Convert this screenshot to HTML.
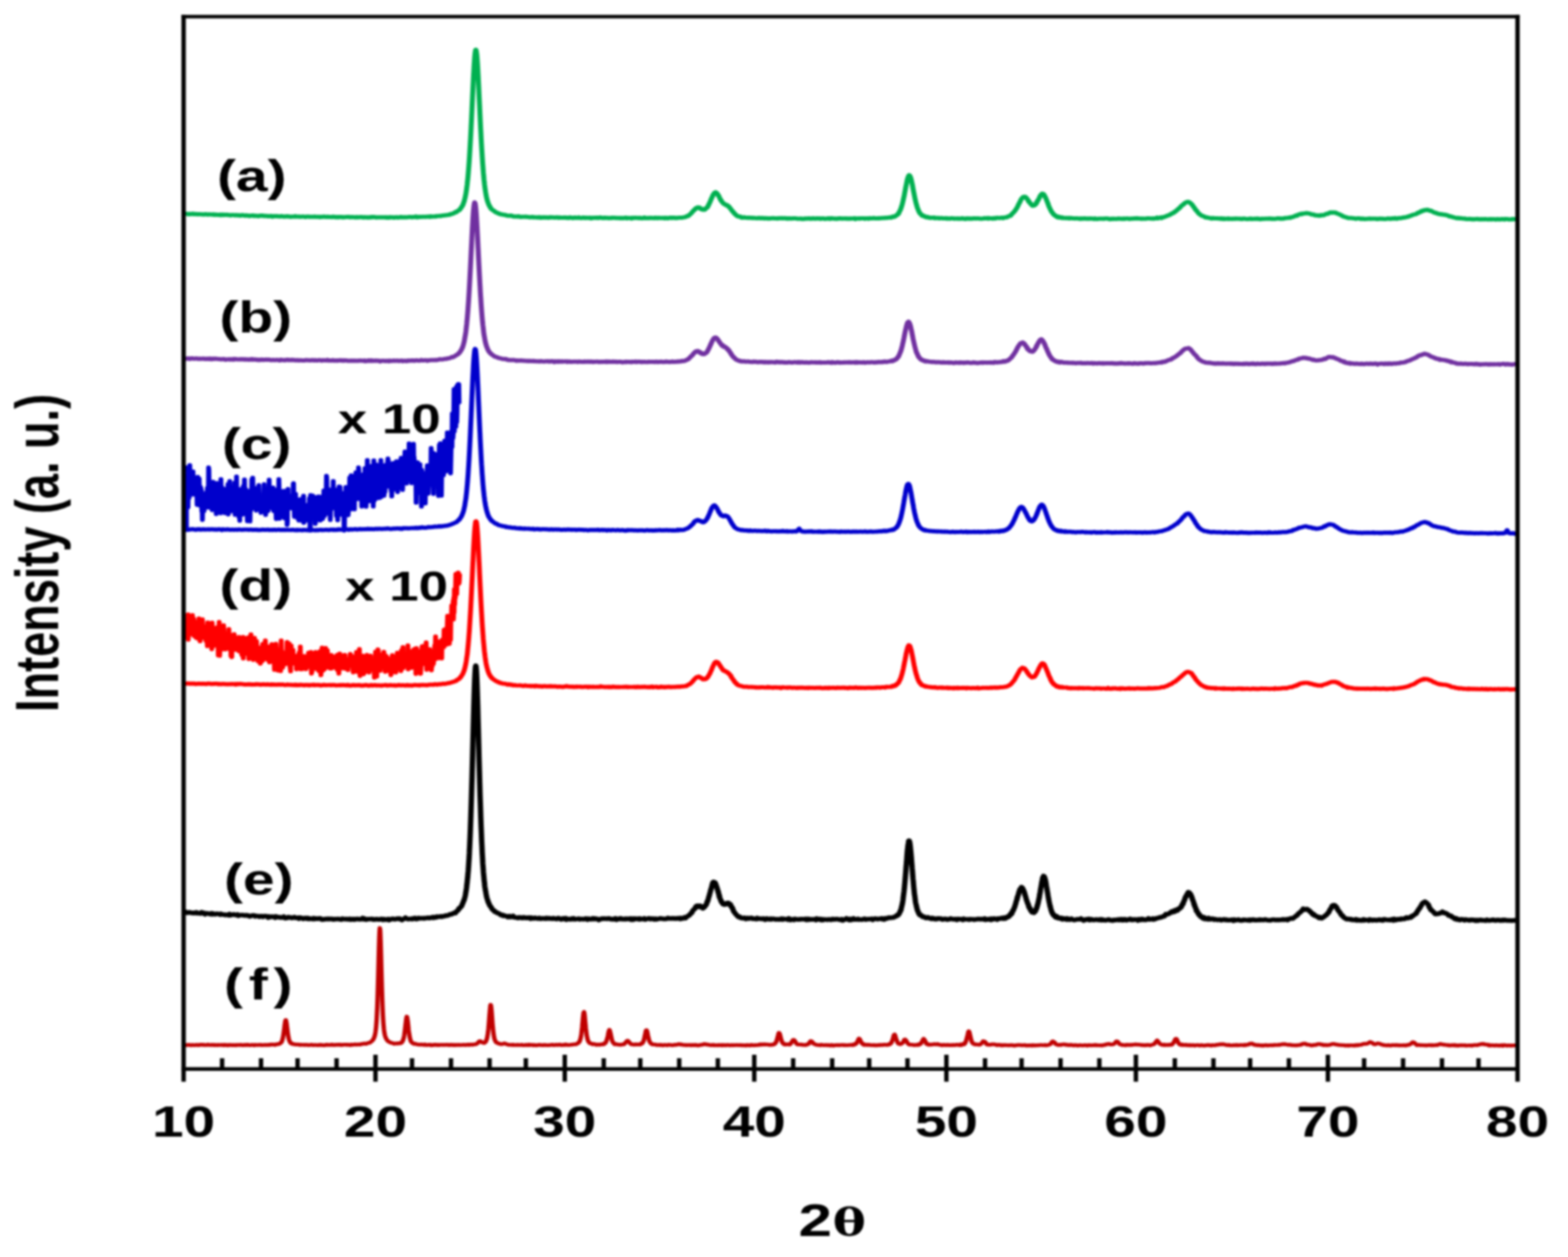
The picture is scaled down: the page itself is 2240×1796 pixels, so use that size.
<!DOCTYPE html>
<html lang="en">
<head>
<meta charset="utf-8">
<title>XRD patterns</title>
<style>
html,body{margin:0;padding:0;background:#fff;}
body{width:2240px;height:1796px;overflow:hidden;}
svg{display:block;filter:blur(1.4px);}
text{font-family:"Liberation Sans",sans-serif;font-weight:bold;fill:#000;}
.th{font-family:"DejaVu Serif","Liberation Serif",serif;font-weight:bold;}
.c{fill:none;stroke-linejoin:round;stroke-linecap:butt;}
</style>
</head>
<body>
<svg width="2240" height="1796" viewBox="0 0 2240 1796">
<rect x="0" y="0" width="2240" height="1796" fill="#ffffff"/>
<g id="plot" transform="scale(1.18 1)">
<path class="c" d="M223.98 1493.2L225.04 1493.3L226.1 1493.1L227.16 1493L228.22 1493.1L229.28 1492.9L230.34 1493.2L231.4 1493.5L232.46 1493.1L233.52 1493L234.58 1493.3L235.64 1493.3L236.69 1493.2L237.75 1492.9L238.81 1493.2L239.87 1493.4L240.93 1492.8L241.99 1493.1L243.05 1492.7L244.11 1492.9L245.17 1492.7L246.23 1493.1L247.29 1492.9L248.35 1493.2L249.41 1493.2L250.47 1493.1L251.53 1492.5L252.58 1493L253.64 1493.2L254.7 1493.2L255.76 1492.8L256.82 1493.1L257.88 1492.9L258.94 1493L260 1493.4L261.06 1493L262.12 1493.2L263.18 1493.4L264.24 1493L265.3 1493.1L266.36 1493.2L267.42 1493.2L268.47 1492.9L269.53 1493.2L270.59 1493.5L271.65 1492.8L272.71 1493.4L273.77 1493.2L274.83 1493L275.89 1493.7L276.95 1493.4L278.01 1492.9L279.07 1493.2L280.13 1493.3L281.19 1493.1L282.25 1493.3L283.31 1493.1L284.36 1493.3L285.42 1493.5L286.48 1493L287.54 1493.2L288.6 1493L289.66 1493.2L290.72 1492.9L291.78 1493L292.84 1493.1L293.9 1493.4L294.96 1493.4L296.02 1492.8L297.08 1492.9L298.14 1493.3L299.19 1492.6L300.25 1493L301.31 1493.1L302.37 1493.4L303.43 1493.3L304.49 1493L305.55 1493L306.61 1493.1L307.67 1493.5L308.73 1493L309.79 1493L310.85 1493.2L311.91 1493.1L312.97 1493L314.03 1492.8L315.08 1493.1L316.14 1492.9L317.2 1493.3L318.26 1493.2L319.32 1493L320.38 1493.2L321.44 1492.9L322.5 1493.2L323.56 1493L324.62 1493.1L325.68 1492.6L326.74 1493L327.8 1492.4L328.86 1492.3L329.92 1492.7L330.97 1492.4L332.03 1492.6L333.09 1493L334.15 1492.1L335.21 1492L336.27 1492L337.33 1491.8L338.34 1491.2L338.39 1491.2L338.68 1491.3L339.02 1491L339.36 1490.4L339.45 1490.5L339.69 1490.4L340.03 1489.7L340.37 1489.6L340.51 1489.1L340.71 1489.2L341.05 1488.4L341.39 1487.5L341.57 1486.8L341.73 1486.3L342.07 1484.5L342.41 1483.1L342.63 1482.2L342.75 1480.9L343.08 1479.3L343.42 1476L343.69 1474.3L343.76 1473.2L344.1 1470.4L344.44 1466.9L344.75 1463.6L344.78 1464L345.12 1461.1L345.46 1458.6L345.8 1457.4L345.81 1457.4L346.14 1457.4L346.47 1459.2L346.81 1461.2L346.86 1461.7L347.15 1464.1L347.49 1467.4L347.83 1470.6L347.92 1472.1L348.17 1474L348.51 1477.2L348.85 1479.6L348.98 1480.4L349.19 1481.8L349.53 1483.6L349.86 1485.3L350.04 1485.9L350.2 1486.5L350.54 1487.3L350.88 1488.3L351.1 1489.3L351.22 1489L351.56 1489.4L351.9 1490.1L352.16 1490.7L352.24 1490L352.58 1490.6L352.92 1490.8L353.22 1490.7L353.25 1491.3L354.28 1491.6L355.34 1491.9L356.4 1491.9L357.46 1492.4L358.52 1492.3L359.58 1492.5L360.64 1492.3L361.69 1492.4L362.75 1493.1L363.81 1492.7L364.87 1492.9L365.93 1492.9L366.99 1492.8L368.05 1492.8L369.11 1493.1L370.17 1492.9L371.23 1492.9L372.29 1493L373.35 1493.3L374.41 1493.2L375.47 1493.1L376.53 1492.9L377.58 1492.7L378.64 1493.3L379.7 1493.3L380.76 1493L381.82 1493.2L382.88 1493.2L383.94 1493.3L385 1493.3L386.06 1492.9L387.12 1493.4L388.18 1492.7L389.24 1493.3L390.3 1493.2L391.36 1493.3L392.42 1493.5L393.47 1493.4L394.53 1492.8L395.59 1492.6L396.65 1493.2L397.71 1492.8L398.77 1493L399.83 1493.2L400.89 1492.6L401.95 1492.5L403.01 1493.1L404.07 1493L405.13 1492.9L406.19 1493L407.25 1492.8L408.31 1492.6L409.36 1492.9L410.42 1492.7L411.48 1492.5L412.54 1493.1L413.6 1492.9L414.66 1493L415.72 1492.7L416.78 1492.7L417.84 1492.6L418.9 1492.6L419.96 1492.9L421.02 1492.6L422.08 1492.9L423.14 1492.9L424.19 1493.3L425.25 1492.4L426.31 1492.9L427.37 1492.6L428.43 1492.6L429.49 1492.2L430.55 1492.4L431.61 1492.7L432.67 1492.4L433.73 1492.4L434.79 1492.2L435.85 1492.5L436.91 1492.1L437.97 1491.5L439.03 1491.7L440.08 1491.3L441.14 1490.8L442.2 1491.3L443.26 1491.5L444.32 1490.9L445.38 1490.3L446.44 1489.9L447.5 1489.9L448.56 1489L449.62 1488.1L450.68 1486.9L451.74 1485.4L452.32 1484.4L452.66 1483.5L452.8 1483L453 1482.1L453.34 1481.4L453.68 1479.7L453.86 1479.4L454.02 1477.9L454.36 1476.2L454.69 1473.6L454.92 1471.3L455.03 1470.8L455.37 1466.7L455.71 1461.2L455.97 1456.7L456.05 1455.1L456.39 1446.7L456.73 1438.2L457.03 1428.5L457.07 1427.4L457.41 1414.6L457.75 1400.9L458.08 1385.9L458.09 1385.8L458.42 1370.4L458.76 1355.1L459.1 1342L459.15 1339.7L459.44 1331.4L459.78 1325.8L460.12 1327.3L460.21 1328.3L460.46 1333.4L460.8 1344.3L461.14 1358L461.27 1364.1L461.47 1373.3L461.81 1388.9L462.15 1403.8L462.33 1411.5L462.49 1417.6L462.83 1429.6L463.17 1439.9L463.39 1445.9L463.51 1449.4L463.85 1456.4L464.19 1462.3L464.45 1466.1L464.53 1466.9L464.86 1471L465.2 1474.3L465.51 1476.2L465.54 1476.5L465.88 1478.5L466.22 1480.1L466.56 1481L466.57 1481.4L466.9 1482.3L467.24 1483.6L467.63 1484.1L468.69 1486.3L469.75 1487.8L470.81 1488.3L471.86 1489L472.92 1489.7L473.98 1490.1L475.04 1490.2L476.1 1490.8L477.16 1491.3L478.22 1490.9L479.28 1491L480.34 1490.8L481.4 1491.1L482.46 1490.6L483.52 1490.4L484.58 1490.7L484.95 1490L485.29 1490.3L485.63 1490.2L485.64 1489.9L485.97 1489.7L486.31 1489.8L486.64 1488.9L486.69 1488.7L486.98 1488.1L487.32 1487.9L487.66 1487.5L487.75 1487.1L488 1485.9L488.34 1484.8L488.68 1483.4L488.81 1482.9L489.02 1481.6L489.36 1479.6L489.69 1477L489.87 1475.4L490.03 1474L490.37 1470.8L490.71 1467.1L490.93 1464.9L491.05 1463.9L491.39 1460L491.73 1456.7L491.99 1454.3L492.07 1454.4L492.41 1452.5L492.75 1452.8L493.05 1454.7L493.08 1454.9L493.42 1457.3L493.76 1460.2L494.1 1464.2L494.11 1464.2L494.44 1468.2L494.78 1472.1L495.12 1474.9L495.17 1475.1L495.46 1477.4L495.8 1480.2L496.14 1482.3L496.23 1482.6L496.47 1484.1L496.81 1485.2L497.15 1487L497.29 1487.3L497.49 1487.9L497.83 1488.2L498.17 1489.1L498.35 1489.2L498.51 1489.3L498.85 1489.7L499.19 1489.8L499.41 1489.9L499.53 1490.6L499.86 1490.6L500.47 1491L501.53 1491.6L502.58 1491.2L503.64 1491.7L504.7 1492.1L505.76 1492.3L506.82 1492.3L507.88 1492.7L508.94 1492.6L510 1492.3L511.06 1492.4L512.12 1492.9L513.18 1492.9L514.24 1492.3L515.3 1493.1L516.36 1493L517.42 1493.2L518.47 1492.8L519.53 1492.8L520.59 1492.6L521.65 1493.6L522.71 1492.9L523.77 1493.4L524.83 1492.8L525.89 1493L526.95 1492.6L528.01 1492.9L529.07 1493.3L530.13 1492.7L531.19 1493.3L532.25 1493.1L533.31 1492.8L534.36 1492.9L535.42 1492.9L536.48 1493L537.54 1492.9L538.6 1492.9L539.66 1493L540.72 1492.8L541.78 1492.7L542.84 1493.1L543.9 1493.3L544.96 1492.7L546.02 1493.1L547.08 1492.9L548.14 1492.8L549.19 1493.3L550.25 1492.9L551.31 1493.4L552.37 1492.9L553.43 1493.2L554.49 1493L555.55 1492.9L556.61 1493.2L557.67 1493L558.73 1493.2L559.79 1493L560.85 1492.7L561.91 1493L562.97 1493L564.03 1493.2L565.08 1492.7L566.14 1492.9L567.2 1492.5L568.26 1493L569.32 1492.6L570.38 1492.3L571.44 1492.7L572.5 1492.9L573.56 1492.2L574.62 1492.2L575.68 1492.1L576.74 1491.5L577.8 1491.1L578.86 1489.5L579.92 1488L580.97 1487.6L582.03 1487.8L583.09 1489.2L584.15 1489.7L585.21 1489.9L586.27 1489.5L586.47 1490.3L586.81 1489.5L587.15 1489.3L587.33 1489.1L587.49 1489L587.83 1488.5L588.17 1488.4L588.39 1487.3L588.51 1486.9L588.85 1486.1L589.19 1485L589.45 1484.5L589.53 1484.1L589.86 1482L590.2 1479.7L590.51 1477.6L590.54 1477.8L590.88 1473.6L591.22 1470.7L591.56 1466.1L591.57 1466.5L591.9 1461.3L592.24 1456.4L592.58 1450.7L592.63 1450L592.92 1446.2L593.25 1441.5L593.59 1437.7L593.69 1436.9L593.93 1435.6L594.27 1436.1L594.61 1438.4L594.75 1439.7L594.95 1442.1L595.29 1446.6L595.63 1452.2L595.81 1455L595.97 1457.8L596.31 1463.1L596.64 1467.3L596.86 1469.9L596.98 1471.4L597.32 1474.9L597.66 1477.9L597.92 1480.1L598 1480.3L598.34 1482.8L598.68 1484.3L598.98 1485.6L599.02 1485.6L599.36 1486.5L599.69 1487.3L600.03 1488.2L600.04 1488.1L600.37 1488.8L600.71 1489.2L601.05 1489.2L601.1 1489.7L601.39 1489.6L602.16 1490.3L603.22 1490.9L604.28 1490.9L605.34 1491.7L606.4 1491.9L607.46 1491.8L608.52 1491.6L609.58 1491.2L610.64 1490.8L611.69 1491.2L612.75 1491.7L613.81 1492.3L614.87 1492.3L615.93 1492.8L616.99 1492.9L618.05 1492.8L619.11 1492.8L620.17 1493.1L621.23 1492.6L622.29 1493.1L623.35 1493.1L624.41 1493.1L625.47 1493.1L626.53 1492.9L627.58 1493L628.64 1493.2L629.7 1493.2L630.76 1493.2L631.82 1492.7L632.88 1493.3L633.94 1493.4L635 1493.4L636.06 1493.2L637.12 1492.8L638.18 1493.4L639.24 1493.1L640.3 1492.5L641.36 1493.3L642.42 1492.8L643.47 1492.8L644.53 1493L645.59 1493.5L646.65 1493.1L647.71 1493.2L648.77 1493.6L649.83 1493.6L650.89 1493.2L651.95 1493.1L653.01 1492.9L654.07 1493L655.13 1493.3L656.19 1493.3L657.25 1493.2L658.31 1493.4L659.36 1493L660.42 1493.2L661.48 1493.4L662.54 1493.3L663.6 1493.4L664.66 1493.3L665.72 1493.1L666.78 1493.2L667.84 1492.9L668.9 1492.7L669.96 1493.3L671.02 1493.1L672.08 1493.2L673.14 1492.7L674.19 1493L675.25 1493L676.31 1492.9L677.37 1492.5L678.43 1493L679.49 1493.3L680.55 1493.1L681.61 1492.9L682.67 1493L683.73 1493.2L684.79 1492.2L685.85 1492.9L686.91 1493L687.97 1493L689.03 1493.2L690.08 1493L691.14 1492.7L692.2 1492.6L693.26 1492.6L694.32 1492.2L695.38 1492.1L696.44 1492.1L697.5 1492.1L698.56 1491.1L699.36 1490.7L699.62 1490.6L699.69 1490.8L700.03 1490.2L700.37 1490.2L700.68 1489.3L700.71 1489.5L701.05 1489L701.39 1488.6L701.73 1488L701.74 1487.3L702.07 1486.6L702.41 1485.7L702.75 1484.1L702.8 1483.6L703.08 1482.7L703.42 1480.4L703.76 1477.8L703.86 1476.8L704.1 1474.9L704.44 1471L704.78 1467.4L704.92 1465.3L705.12 1462.7L705.46 1458.5L705.8 1454L705.97 1452.3L706.14 1450.5L706.47 1447.3L706.81 1446.1L707.03 1445.9L707.15 1446.5L707.49 1447.8L707.83 1451L708.09 1454.4L708.17 1455.6L708.51 1459.9L708.85 1463.8L709.15 1467.6L709.19 1468.4L709.53 1471.8L709.86 1475L710.2 1478.2L710.21 1478.4L710.54 1480.5L710.88 1482.4L711.22 1484.1L711.27 1484.9L711.56 1485.7L711.9 1486.9L712.24 1487.9L712.33 1488.2L712.58 1488.4L712.92 1489.2L713.25 1489.3L713.39 1489.6L713.59 1489.6L713.93 1490.5L714.27 1490.4L714.45 1490.4L715.51 1491L716.57 1491.5L717.63 1492L718.69 1491.6L719.75 1491.9L720.81 1492.1L721.86 1492.9L722.92 1492.6L723.98 1492.4L725.04 1492.6L726.1 1492.9L727.16 1492.2L728.22 1492.1L729.28 1492.3L730.2 1492L730.34 1492L730.54 1491.6L730.88 1492.1L731.22 1491.9L731.4 1491.6L731.56 1491.5L731.9 1490.6L732.24 1491L732.46 1490.6L732.58 1490.7L732.92 1490.3L733.25 1489.5L733.52 1488.7L733.59 1489.1L733.93 1488L734.27 1487.1L734.58 1486L734.61 1486L734.95 1484.1L735.29 1483.4L735.63 1481.4L735.64 1481.6L735.97 1479.9L736.31 1477.4L736.64 1475.1L736.69 1475L736.98 1473.5L737.32 1472.4L737.66 1471.9L737.75 1471.3L738 1472L738.34 1472.4L738.68 1474.2L738.81 1474.8L739.02 1475.8L739.36 1477.8L739.69 1479.7L739.87 1480.7L740.03 1481.3L740.37 1483.5L740.71 1485.5L740.93 1486.4L741.05 1486.7L741.39 1487.7L741.73 1488.2L741.99 1489.4L742.07 1489.2L742.41 1489.8L742.75 1490.2L743.05 1490.7L743.08 1490.6L743.42 1491L743.76 1491L744.1 1491.3L744.11 1492L744.44 1491.6L744.78 1491.7L745.12 1492L745.17 1492L746.23 1491.9L747.29 1492.2L748.35 1492.6L749.41 1492.6L750.47 1492.6L751.53 1492.9L752.58 1492.3L753.64 1492.4L754.7 1492L755.76 1492L756.82 1490.2L757.88 1489L758.94 1487.3L760 1486.9L761.06 1488.1L762.12 1490.1L763.18 1490.7L764.24 1492.1L765.3 1492.2L766.36 1492.3L767.42 1492.7L768.47 1492.4L769.53 1492.1L770.59 1492.5L771.65 1492.2L772.71 1492.3L773.77 1492.4L774.83 1492.2L775.03 1492.4L775.37 1491.9L775.71 1491.4L775.89 1491.6L776.05 1491.4L776.39 1491.2L776.73 1491.4L776.95 1491L777.07 1490.5L777.41 1490.9L777.75 1490.3L778.01 1490L778.08 1489.8L778.42 1489.3L778.76 1488.4L779.07 1487.8L779.1 1487.5L779.44 1486.3L779.78 1484.9L780.12 1482.9L780.13 1483.2L780.46 1481.4L780.8 1479.6L781.14 1477.3L781.19 1477.7L781.47 1475.7L781.81 1473.6L782.15 1472.2L782.25 1472.3L782.49 1472L782.83 1471.9L783.17 1472.9L783.31 1473.2L783.51 1474.4L783.85 1475.9L784.19 1478L784.36 1479.3L784.53 1480.6L784.86 1481.6L785.2 1483.5L785.42 1484.4L785.54 1485.4L785.88 1486.2L786.22 1487.5L786.48 1488.4L786.56 1488.3L786.9 1489.1L787.24 1489.8L787.54 1489.9L787.58 1490.1L787.92 1490.8L788.25 1491.2L788.59 1491.4L788.6 1491L788.93 1491.5L789.27 1492L789.61 1492.1L789.66 1491.9L789.95 1491.8L790.72 1492.4L791.78 1492.3L792.84 1492.3L793.9 1492.5L794.96 1493.2L796.02 1493L797.08 1493.2L798.14 1492.9L799.19 1493.3L800.25 1492.9L801.31 1493.1L802.37 1493.7L803.43 1493.3L804.49 1493L805.55 1493.1L806.61 1493.2L807.67 1493.5L808.73 1493.1L809.79 1492.7L810.85 1493.1L811.91 1493.2L812.97 1493.2L814.03 1493.5L815.08 1493.2L816.14 1493.2L817.2 1492.6L818.26 1492.8L819.32 1492.9L820.38 1492.2L821.44 1491.9L822.5 1491.8L823.56 1492.5L824.62 1492.1L825.68 1492.6L826.74 1493L827.8 1493.2L828.86 1493L829.92 1493.3L830.97 1493.1L832.03 1493.3L833.09 1493.2L834.15 1493L835.21 1493.3L836.27 1493.5L837.33 1493L838.39 1493.2L839.45 1493.4L840.51 1493L841.57 1493.3L842.63 1493L843.69 1493.5L844.75 1493.8L845.81 1493.7L846.86 1493.1L847.92 1493.2L848.98 1492.9L850.04 1492.6L851.1 1492.6L852.16 1491.7L853.22 1492.1L854.28 1491.9L855.34 1492.5L856.4 1492.5L857.46 1492.6L858.52 1493L859.58 1493.3L860.64 1493.2L861.69 1493.4L862.75 1493.1L863.81 1492.8L864.87 1493.5L865.93 1493.5L866.99 1493.3L868.05 1493.3L869.11 1493.6L870.17 1493.2L871.23 1493.1L872.29 1493.3L873.35 1493.6L874.41 1493L875.47 1493.6L876.53 1493.2L877.58 1493.1L878.64 1493.7L879.7 1493.3L880.76 1493L881.82 1493.2L882.88 1493.6L883.94 1493.6L885 1493.2L886.06 1493.4L887.12 1493.5L888.18 1493.2L889.24 1493.4L890.3 1493.3L891.36 1493.2L892.42 1493.2L893.47 1493.4L894.53 1493.3L895.59 1493.2L896.65 1493.2L897.71 1493.6L898.77 1493.4L899.83 1493.5L900.89 1493.6L901.95 1493.5L903.01 1493.9L904.07 1493.1L905.13 1493.5L906.19 1493.2L907.25 1493.8L908.31 1493.7L909.36 1492.8L910.42 1493L911.48 1493.4L912.54 1493.5L913.6 1493.4L914.66 1493.2L915.72 1493.3L916.78 1493.2L917.84 1493L918.9 1493.1L919.96 1492.1L921.02 1492.7L922.08 1492.1L923.14 1492.5L924.19 1492.2L925.25 1492.1L926.31 1492.5L927.37 1492.3L928.43 1492.4L929.49 1492.4L930.55 1492.8L931.61 1492.9L932.67 1493L933.73 1492.6L934.79 1492.8L935.63 1492.4L935.85 1492.3L935.97 1492.4L936.31 1492.5L936.64 1492L936.91 1491.9L936.98 1491.9L937.32 1491.8L937.66 1491.3L937.97 1491.6L938 1491.2L938.34 1491.1L938.68 1490.3L939.02 1490.1L939.03 1490.1L939.36 1489.3L939.69 1489.1L940.03 1487.7L940.08 1487.9L940.37 1486.7L940.71 1485L941.05 1483.7L941.14 1483.5L941.39 1482.2L941.73 1480.6L942.07 1478.9L942.2 1478L942.41 1477.6L942.75 1476L943.08 1476.1L943.26 1475.8L943.42 1475.9L943.76 1476.7L944.1 1477.9L944.32 1478.4L944.44 1478.9L944.78 1480.6L945.12 1482L945.38 1483.5L945.46 1484.4L945.8 1485.2L946.14 1486.8L946.44 1487.3L946.47 1487.8L946.81 1488.6L947.15 1489.4L947.49 1490.2L947.5 1490.5L947.83 1490.6L948.17 1491L948.51 1491L948.56 1491.4L948.85 1491.4L949.19 1491.9L949.53 1491.8L949.62 1492.3L949.86 1491.5L950.2 1492L950.54 1492.4L950.68 1492.1L951.74 1492.1L952.8 1492.3L953.86 1492L954.92 1492.3L955.97 1492.6L957.03 1491.5L958.09 1489.6L959.15 1487.7L960.21 1485.8L961.27 1485.9L962.33 1487.3L963.39 1489.5L964.45 1491.4L965.51 1492.3L966.57 1492.4L967.63 1492.4L968.69 1492.4L969.75 1492.7L970.81 1492.4L971.86 1493.1L972.92 1492.8L973.98 1493L975.04 1493.3L976.1 1493L977.16 1492.1L978.22 1492L979.28 1491L980.34 1488.9L981.4 1487.5L982.46 1487.8L983.52 1488.9L984.58 1491.2L985.64 1491.3L986.69 1492.2L987.75 1492.7L988.81 1492.9L989.87 1493.1L990.93 1493.2L991.99 1493.1L993.05 1493.5L994.11 1492.7L995.17 1493.2L996.23 1493.1L997.29 1493.3L998.35 1493.3L999.41 1493.1L1000.47 1493.1L1001.53 1493.5L1002.58 1493.4L1003.64 1493.1L1004.7 1493.8L1005.76 1493.9L1006.82 1493L1007.88 1493.4L1008.94 1494L1010 1493.5L1011.06 1493.4L1012.12 1493.3L1013.18 1493.2L1014.24 1493.3L1015.3 1493.2L1016.36 1493.5L1017.42 1493.2L1018.47 1493.2L1019.53 1493L1020.59 1493.3L1021.65 1493.1L1022.71 1493.2L1023.77 1493.5L1024.83 1493.3L1025.89 1493.4L1026.95 1493.3L1028.01 1493.2L1029.07 1493.1L1030.13 1493L1031.19 1493.2L1032.25 1492.6L1032.49 1493.2L1032.83 1492.8L1033.17 1492.6L1033.31 1492.6L1033.51 1492.6L1033.85 1492.7L1034.19 1492.4L1034.36 1492.8L1034.53 1492.2L1034.86 1491.7L1035.2 1491.9L1035.42 1491.5L1035.54 1491.9L1035.88 1491.9L1036.22 1491.4L1036.48 1490.6L1036.56 1490.6L1036.9 1490.8L1037.24 1489.8L1037.54 1489.1L1037.58 1489.3L1037.92 1488.9L1038.25 1487.7L1038.59 1486.6L1038.6 1486.6L1038.93 1485.9L1039.27 1484.8L1039.61 1484.1L1039.66 1484.3L1039.95 1483.9L1040.29 1484.1L1040.63 1484.5L1040.72 1485.2L1040.97 1484.9L1041.31 1485.8L1041.64 1486.7L1041.78 1487.2L1041.98 1487.9L1042.32 1488.3L1042.66 1489L1042.84 1489.1L1043 1489.6L1043.34 1490.6L1043.68 1490.9L1043.9 1490.9L1044.02 1491.2L1044.36 1491.7L1044.69 1492.1L1044.96 1492L1045.03 1492.1L1045.37 1491.9L1045.71 1492.2L1046.02 1493L1046.05 1492L1046.39 1492.6L1046.73 1492.8L1047.07 1492.7L1047.08 1492.6L1047.41 1492.8L1048.14 1492.9L1049.19 1493L1050.25 1492.6L1051.31 1493.1L1052.37 1492.9L1053.43 1493L1054.49 1493.3L1055.55 1493.4L1056.61 1493.4L1057.67 1493.1L1058.73 1493.5L1059.79 1493.5L1060.85 1493.5L1061.91 1493.6L1062.97 1493.2L1064.03 1493.2L1065.08 1493.4L1066.14 1492.8L1067.2 1493.2L1068.26 1493L1069.32 1493L1070.38 1492.6L1071.44 1492.7L1072.5 1492.9L1073.56 1493L1074.62 1492.9L1075.29 1492.5L1075.63 1492.4L1075.68 1492.2L1075.97 1492.5L1076.31 1492.2L1076.64 1492.3L1076.74 1492.5L1076.98 1492L1077.32 1491.4L1077.66 1491.3L1077.8 1491.1L1078 1491L1078.34 1491.2L1078.68 1490.5L1078.86 1489.8L1079.02 1490L1079.36 1489.5L1079.69 1488.2L1079.92 1487.5L1080.03 1487.3L1080.37 1486.3L1080.71 1485.1L1080.97 1484.2L1081.05 1483.9L1081.39 1482.5L1081.73 1481.1L1082.03 1479.9L1082.07 1479.2L1082.41 1478.6L1082.75 1478.3L1083.08 1478.1L1083.09 1478.5L1083.42 1478.7L1083.76 1479.5L1084.1 1481.4L1084.15 1481.4L1084.44 1482.4L1084.78 1484L1085.12 1485.4L1085.21 1485.5L1085.46 1485.7L1085.8 1487.2L1086.14 1488.2L1086.27 1488.4L1086.47 1489.2L1086.81 1490L1087.15 1490.1L1087.33 1490.2L1087.49 1491.2L1087.83 1490.9L1088.17 1490.9L1088.39 1491.4L1088.51 1491.5L1088.85 1491.4L1089.19 1491.8L1089.45 1491.5L1089.53 1491.4L1089.86 1491.7L1090.2 1491.9L1090.51 1491.4L1091.57 1491.2L1092.63 1490L1093.69 1488.8L1094.75 1485.6L1095.81 1485.2L1096.86 1486.4L1097.92 1488.7L1098.98 1490.8L1100.04 1492L1101.1 1492.6L1102.16 1492.7L1103.22 1492.6L1104.28 1492.7L1105.34 1493L1106.4 1493.1L1107.46 1493.3L1108.52 1493L1109.58 1493.1L1110.64 1493.2L1110.71 1492.8L1111.05 1492.4L1111.39 1492.4L1111.69 1492.3L1111.73 1493L1112.07 1492.4L1112.41 1492.8L1112.75 1492.5L1112.75 1492.8L1113.08 1492.5L1113.42 1492.1L1113.76 1491.9L1113.81 1491.9L1114.1 1491.7L1114.44 1491.2L1114.78 1490.9L1114.87 1491.2L1115.12 1490L1115.46 1490L1115.8 1489.1L1115.93 1489L1116.14 1488.8L1116.47 1487.8L1116.81 1487.2L1116.99 1486.2L1117.15 1486.5L1117.49 1485.4L1117.83 1485.2L1118.05 1484.8L1118.17 1484.1L1118.51 1484.6L1118.85 1485.1L1119.11 1485.9L1119.19 1485.7L1119.53 1486.4L1119.86 1486.8L1120.17 1488.2L1120.2 1488.4L1120.54 1488.7L1120.88 1489.4L1121.22 1489.6L1121.23 1490.3L1121.56 1491.3L1121.9 1491.2L1122.24 1491.7L1122.29 1491.6L1122.58 1491.5L1122.92 1492.3L1123.25 1491.9L1123.35 1492.2L1123.59 1492.4L1123.93 1492.7L1124.27 1492.6L1124.41 1492.7L1124.61 1492.4L1124.95 1492.4L1125.29 1492.7L1125.47 1492.6L1125.63 1492.4L1126.53 1492.5L1127.58 1492.7L1128.64 1492.3L1129.7 1492.2L1130.76 1491.9L1131.82 1492.1L1132.88 1491.9L1133.94 1492.3L1135 1491.6L1136.06 1492.1L1137.12 1492.8L1138.18 1492.8L1139.24 1492.9L1140.3 1493.6L1141.36 1493.1L1142.42 1492.9L1143.47 1492.9L1144.53 1493.3L1145.59 1493.3L1146.65 1492.9L1147.71 1493L1148.77 1493.4L1149.83 1493.4L1150.89 1493.1L1151.95 1493.4L1153.01 1493.4L1154.07 1492.8L1155.13 1493.1L1156.19 1493.3L1157.25 1493L1158.31 1492.6L1159.36 1493L1160.42 1493.2L1161.48 1493.3L1162.54 1492.3L1163.6 1493.3L1164.66 1492.2L1165.29 1492.6L1165.63 1492.6L1165.72 1492.5L1165.97 1492.2L1166.31 1491.7L1166.64 1492L1166.78 1491.6L1166.98 1491L1167.32 1492.1L1167.66 1491.3L1167.84 1491.4L1168 1490.5L1168.34 1490.6L1168.68 1490L1168.9 1489.6L1169.02 1488.9L1169.36 1487.7L1169.69 1486.9L1169.96 1485.4L1170.03 1485.2L1170.37 1484.2L1170.71 1482.2L1171.02 1480.9L1171.05 1480.7L1171.39 1479.3L1171.73 1477.4L1172.07 1475.5L1172.08 1475.7L1172.41 1474.1L1172.75 1473.6L1173.08 1473.9L1173.14 1473.5L1173.42 1474.4L1173.76 1475.4L1174.1 1477.4L1174.19 1478.3L1174.44 1479L1174.78 1481.1L1175.12 1482.6L1175.25 1483.2L1175.46 1484.1L1175.8 1486.2L1176.14 1487.7L1176.31 1487.8L1176.47 1488L1176.81 1489.2L1177.15 1489.6L1177.37 1490.3L1177.49 1490.4L1177.83 1490.8L1178.17 1491.2L1178.43 1491.2L1178.51 1491.3L1178.85 1491.2L1179.19 1491.7L1179.49 1491.6L1179.53 1491.9L1179.86 1491.8L1180.2 1492.2L1180.55 1492.4L1181.61 1492.1L1182.67 1492.3L1183.73 1492.3L1184.79 1492.7L1185.85 1492.8L1186.91 1492.2L1187.97 1491L1189.03 1490.1L1190.08 1487.7L1191.14 1487.8L1192.2 1488.4L1193.26 1489.5L1194.32 1492.1L1195.38 1492.6L1196.44 1492.3L1197.5 1492.8L1198.56 1492.7L1199.62 1492.6L1200.68 1492.1L1201.74 1492.1L1202.8 1492.2L1203.86 1492.2L1204.92 1492.6L1205.97 1492.6L1207.03 1493.4L1208.09 1492.8L1209.15 1493.2L1210.21 1492.8L1211.27 1493L1212.33 1493.7L1213.39 1493.1L1214.45 1493.5L1215.51 1493.4L1216.57 1493.1L1217.63 1493.3L1218.69 1493.3L1219.75 1493.3L1220.81 1493.6L1221.86 1493.6L1222.92 1493.3L1223.98 1493.2L1225.04 1493.5L1226.1 1493.4L1227.16 1493.7L1228.22 1494.1L1229.28 1493.7L1230.34 1493.4L1231.4 1493.4L1232.46 1493.2L1233.52 1493.2L1234.58 1493.2L1235.64 1493.4L1236.69 1493.3L1237.75 1493.6L1238.81 1493.4L1239.87 1493.4L1240.93 1493.1L1241.99 1493.9L1243.05 1493.6L1244.11 1493.9L1245.17 1493.7L1246.23 1493.8L1247.29 1493.4L1248.35 1493.6L1249.41 1494.1L1250.47 1493.1L1251.53 1493.7L1252.58 1493.9L1253.64 1493.5L1254.7 1493.6L1255.76 1493.7L1256.82 1493.3L1257.88 1493.5L1258.94 1493.2L1260 1493.2L1261.06 1493.2L1262.12 1493.3L1263.18 1493.4L1264.24 1493.4L1265.3 1492.9L1266.36 1493.7L1267.42 1493.5L1268.47 1493.2L1269.53 1492.8L1270.59 1492.4L1271.65 1491.8L1272.71 1490.4L1273.77 1488.2L1274.83 1487.9L1275.89 1489.2L1276.95 1489.6L1278.01 1491.7L1279.07 1492.4L1280.13 1492.7L1281.19 1493.3L1282.25 1492.7L1283.31 1492.9L1284.36 1493.1L1285.42 1492.5L1286.48 1492.3L1287.54 1492.2L1288.6 1492.1L1289.66 1492.8L1290.72 1492.4L1291.78 1493.1L1292.84 1492.8L1293.9 1493.4L1294.96 1493.3L1296.02 1492.7L1297.08 1493.4L1298.14 1493.1L1299.19 1493.3L1300.25 1493.8L1301.31 1493.2L1302.37 1493.2L1303.43 1493.8L1304.49 1493.5L1305.55 1493.9L1306.61 1493.5L1307.67 1493.2L1308.73 1493.5L1309.79 1493.8L1310.85 1493.7L1311.91 1493.5L1312.97 1493.5L1314.03 1493.4L1315.08 1493.3L1316.14 1494L1317.2 1493.5L1318.26 1493.2L1319.32 1493.3L1320.38 1493.7L1321.44 1493.6L1322.5 1493.4L1323.56 1493.3L1324.62 1493.5L1325.68 1493L1326.74 1493.1L1327.8 1493.6L1328.86 1493.3L1329.92 1493.5L1330.97 1493.7L1332.03 1493.6L1333.09 1493.4L1334.15 1493.9L1335.21 1493.4L1336.27 1493L1337.33 1493.1L1338.39 1492.7L1339.45 1492L1340.51 1492L1341.57 1491.8L1342.63 1491.4L1343.69 1492.1L1344.75 1492.3L1345.81 1492.4L1346.86 1492.1L1347.92 1492.1L1348.98 1491.4L1350.04 1490.1L1351.1 1488.2L1352.16 1487.8L1353.22 1488.3L1354.28 1490.2L1355.34 1491.9L1356.4 1492.2L1357.46 1492.7L1358.52 1493.3L1359.58 1493L1360.64 1493.1L1361.69 1493.3L1362.75 1493.6L1363.81 1492.7L1364.87 1493.1L1365.93 1493L1366.99 1493L1368.05 1493L1369.11 1492.9L1370.17 1493.1L1371.23 1492.6L1372.29 1492.7L1373.35 1492.6L1374.41 1492.1L1375.47 1492.3L1376.53 1492.7L1377.58 1492.6L1378.64 1492.5L1379.7 1492.8L1380.76 1492.8L1381.82 1493.2L1382.88 1493.4L1383.94 1493.1L1385 1493.3L1386.06 1493.6L1387.12 1493.2L1388.18 1493.4L1389.24 1493L1390.3 1493.1L1391.36 1493.1L1392.42 1493.7L1393.47 1493L1394.53 1492.8L1395.59 1492.5L1396.65 1492.1L1397.71 1491.3L1398.77 1489.5L1399.83 1488L1400.89 1486.5L1401.95 1488L1403.01 1489.7L1404.07 1491.3L1405.13 1491.8L1406.19 1492.6L1407.25 1492.9L1408.31 1493L1409.36 1492.5L1410.42 1493.3L1411.48 1493L1412.54 1493L1413.6 1493L1414.66 1493L1415.72 1493.1L1416.14 1492.6L1416.47 1492.7L1416.78 1492.9L1416.81 1492.9L1417.15 1492.7L1417.49 1492.6L1417.83 1492.4L1417.84 1492.6L1418.17 1492.8L1418.51 1492.1L1418.85 1492.6L1418.9 1492.4L1419.19 1491.9L1419.53 1491.9L1419.86 1491L1419.96 1490.8L1420.2 1490.6L1420.54 1490.3L1420.88 1489.7L1421.02 1489.4L1421.22 1489.2L1421.56 1487.8L1421.9 1487.7L1422.08 1486.7L1422.24 1486.5L1422.58 1485.7L1422.92 1484.8L1423.14 1484.3L1423.25 1484.3L1423.59 1484.2L1423.93 1484.4L1424.19 1484.7L1424.27 1484.4L1424.61 1485L1424.95 1485.8L1425.25 1486.9L1425.29 1486.3L1425.63 1488L1425.97 1488.4L1426.31 1489.1L1426.31 1489.4L1426.64 1490.2L1426.98 1490.7L1427.32 1491.3L1427.37 1491.2L1427.66 1491.8L1428 1492.1L1428.34 1492.1L1428.43 1492.5L1428.68 1492.3L1429.02 1492.5L1429.36 1492.4L1429.49 1492.6L1429.69 1492.9L1430.03 1492.5L1430.37 1493L1430.55 1493L1430.71 1493L1431.05 1492.4L1431.61 1493L1432.67 1493.3L1433.73 1493L1434.79 1493.3L1435.85 1492.7L1436.91 1493.5L1437.97 1493.2L1439.03 1493.6L1440.08 1493L1441.14 1493.6L1442.2 1493.4L1443.26 1493.7L1444.32 1493.2L1445.38 1493.3L1446.44 1494L1447.5 1493.3L1448.56 1493.3L1449.62 1493.4L1450.68 1493.2L1451.74 1493.8L1452.8 1493.9L1453.86 1493.3L1454.92 1493.1L1455.97 1493.8L1457.03 1493.8L1458.09 1493.7L1459.15 1493.8L1460.21 1493.3L1461.27 1493.4L1462.33 1493.1L1463.39 1493.1L1464.45 1493.7L1465.51 1493.3L1466.57 1494L1467.63 1493.4L1468.69 1493.2L1469.75 1493.5L1470.81 1493.7L1471.86 1493.2L1472.92 1492.6L1473.98 1492.8L1475.04 1492.9L1476.1 1492.2L1477.16 1492L1478.22 1492.3L1479.28 1492.1L1480.34 1491.9L1481.4 1492.2L1482.46 1492.3L1483.52 1492.8L1484.58 1492.9L1485.64 1493.4L1486.69 1493.4L1487.75 1492.9L1488.81 1493.5L1489.87 1493.6L1490.93 1493.6L1491.99 1493.7L1493.05 1493.3L1494.11 1493.2L1495.17 1493.7L1496.23 1493.2L1497.29 1492.9L1498.35 1493.7L1499.41 1493.3L1500.47 1493.4L1501.53 1493.1L1502.58 1493.1L1503.64 1493.2L1504.7 1493.4L1505.76 1493.5L1506.82 1492.8L1507.88 1493.5L1508.94 1492.8L1510 1492.6L1511.06 1492.6L1512.12 1492L1513.18 1491.1L1514.24 1491.6L1515.3 1490.9L1516.36 1491.5L1517.42 1492L1518.47 1492.8L1519.53 1492.7L1520.59 1493.3L1521.65 1493.1L1522.71 1493.6L1523.77 1493.2L1524.83 1493.4L1525.89 1493.9L1526.95 1493.6L1528.01 1493.5L1529.07 1494.1L1530.13 1493.6L1531.19 1493.3L1532.25 1493.7L1533.31 1493.2L1534.36 1493.8L1535.42 1493.8L1536.48 1493.4L1537.54 1493.3L1538.6 1493.5L1539.66 1493.5L1540.72 1493.2L1541.78 1493.6L1542.84 1492.9L1543.9 1493.2L1544.96 1493.2L1546.02 1493.1L1547.08 1493.2L1548.14 1492.7L1549.19 1493L1550.25 1492.6L1551.31 1492.3L1552.37 1491.9L1553.43 1491.9L1554.49 1492.2L1555.55 1491.8L1556.61 1492.2L1557.67 1492.5L1558.73 1492.7L1559.79 1493L1560.85 1492.7L1561.91 1492.7L1562.97 1493.3L1564.03 1493.2L1565.08 1493.5L1566.14 1493.3L1567.2 1493.6L1568.26 1493.6L1569.32 1493.5L1570.38 1493.5L1571.44 1493.4L1572.5 1493.2L1573.56 1493L1574.62 1492.9L1575.68 1492L1576.74 1492.1L1577.8 1491.2L1578.86 1491.3L1579.92 1491.2L1580.97 1491.6L1582.03 1492.7L1583.09 1492.6L1584.15 1492.6L1585.21 1493L1586.27 1493.2L1587.33 1493.9L1588.39 1493.4L1589.45 1493.5L1590.51 1493L1591.57 1493.1L1592.63 1493L1593.69 1492.9L1594.75 1491.9L1595.81 1491.9L1596.86 1491.8L1597.92 1491.7L1598.98 1492.3L1600.04 1492.6L1601.1 1492.3L1602.16 1493.3L1603.22 1493.4L1604.28 1493.2L1605.34 1492.9L1606.4 1493.6L1607.46 1493.2L1608.52 1493.2L1609.58 1493.1L1610.64 1492.3L1611.69 1492.3L1612.75 1491.7L1613.81 1491.6L1614.87 1491.6L1615.93 1491.8L1616.99 1492.3L1618.05 1492.4L1619.11 1492.7L1620.17 1492.9L1621.23 1493.2L1622.29 1493.1L1623.35 1493.2L1624.41 1493.4L1625.47 1493.3L1626.53 1493.4L1627.58 1493.3L1628.64 1494L1629.7 1493.8L1630.76 1493.6L1631.82 1493.5L1632.88 1494.1L1633.94 1493.6L1635 1493.5L1636.06 1493.6L1637.12 1493.6L1638.18 1493.8L1639.24 1493.4L1640.3 1494L1641.36 1493.2L1642.42 1493.5L1643.47 1493L1644.53 1493.6L1645.59 1492.9L1646.65 1492.8L1647.71 1492.8L1648.77 1492.6L1649.83 1491.7L1650.89 1491.7L1651.95 1491.3L1653.01 1491.5L1654.07 1491.4L1655.13 1491.2L1656.19 1490.6L1657.25 1489.9L1658.31 1488.9L1659.36 1488.9L1660.42 1489.8L1661.48 1490.1L1662.54 1491.5L1663.6 1491.9L1664.66 1492.2L1665.72 1491.5L1666.78 1491.3L1667.84 1490.7L1668.9 1491L1669.96 1491.2L1671.02 1491.6L1672.08 1492.3L1673.14 1492.6L1674.19 1492.6L1675.25 1493.4L1676.31 1493.4L1677.37 1493.4L1678.43 1493.7L1679.49 1493.8L1680.55 1493.2L1681.61 1493.3L1682.67 1493.9L1683.73 1493.9L1684.79 1493.4L1685.85 1493.2L1686.91 1493.4L1687.97 1493.4L1689.03 1493.2L1690.08 1493.6L1691.14 1493.2L1692.2 1493.2L1693.26 1493.8L1694.32 1493.4L1695.38 1493.5L1696.44 1493.7L1697.5 1493.7L1698.56 1493.4L1699.62 1493.5L1700.68 1493.3L1701.74 1493.9L1702.8 1493.5L1703.86 1493L1704.92 1493L1705.97 1492.8L1707.03 1492L1708.09 1491.4L1709.15 1490.3L1710.21 1489.1L1711.27 1489.4L1712.33 1489.9L1713.39 1491.3L1714.45 1492.2L1715.51 1493.4L1716.57 1493.1L1717.63 1492.8L1718.69 1493.2L1719.75 1493.5L1720.81 1493.2L1721.86 1493.3L1722.92 1493.4L1723.98 1493.6L1725.04 1493.5L1726.1 1493.3L1727.16 1493.8L1728.22 1493.4L1729.28 1493.4L1730.34 1493.2L1731.4 1493.4L1732.46 1493.7L1733.52 1493.1L1734.58 1493.5L1735.64 1493.6L1736.69 1493.3L1737.75 1493.4L1738.81 1492.9L1739.87 1493.3L1740.93 1492.9L1741.99 1492.4L1743.05 1491.7L1744.11 1491.6L1745.17 1492.1L1746.23 1492.4L1747.29 1492.3L1748.35 1492.8L1749.41 1492.7L1750.47 1493L1751.53 1493.2L1752.58 1493.5L1753.64 1493.1L1754.7 1493.7L1755.76 1493.9L1756.82 1493.3L1757.88 1493.2L1758.94 1493.7L1760 1493.4L1761.06 1493L1762.12 1493.8L1763.18 1493.6L1764.24 1493.5L1765.3 1494.1L1766.36 1493.7L1767.42 1493.4L1768.47 1493.6L1769.53 1493.4L1770.59 1493.4L1771.65 1493.7L1772.71 1493.5L1773.77 1493.5L1774.83 1494L1775.89 1493.8L1776.95 1493.8L1778.01 1493.7L1779.07 1493.7L1780.13 1493.9L1781.19 1493.6L1782.25 1494L1783.31 1493.3L1784.36 1493.4L1785.42 1493.1L1786.48 1493.2L1787.54 1493.3L1788.6 1493.4L1789.66 1492.6L1790.72 1492.6L1791.78 1492.2L1792.84 1491.9L1793.9 1491.6L1794.96 1491.9L1796.02 1491.5L1797.08 1492.1L1798.14 1492.3L1799.19 1492.4L1800.25 1492.6L1801.31 1492.7L1802.37 1493.7L1803.43 1493L1804.49 1493.8L1805.55 1493.6L1806.61 1493.4L1807.67 1493.3L1808.73 1493.8L1809.79 1494L1810.85 1493.4L1811.91 1493.5L1812.97 1493.9L1814.03 1493.7L1815.08 1494.1L1816.14 1493.5L1817.2 1493.8L1818.26 1493.3L1819.32 1494.2L1820.38 1493.5L1821.44 1493.1L1822.5 1493.6L1823.56 1493.6L1824.62 1494.1L1825.68 1493.6L1826.74 1493.7L1827.8 1493.8L1828.86 1494.1L1829.92 1493.7L1830.97 1493.9L1832.03 1493.8L1833.09 1493.6L1834.15 1493.7L1835.21 1493.7L1836.27 1493.5" stroke="#c00000" stroke-width="5.3"/>
<path class="c" d="M223.98 1304.2L225.04 1302.9L226.1 1304.3L227.16 1304.2L228.22 1303.8L229.28 1303.5L230.34 1303.8L231.4 1304.3L232.46 1304.5L233.52 1304.3L234.58 1304.7L235.64 1304L236.69 1304.5L237.75 1303.6L238.81 1304.9L239.87 1304.6L240.93 1304.4L241.99 1305.3L243.05 1305.1L244.11 1303.4L245.17 1304.9L246.23 1304.2L247.29 1305.5L248.35 1306.3L249.41 1304.9L250.47 1305.2L251.53 1305.1L252.58 1305.5L253.64 1305.7L254.7 1306.1L255.76 1305L256.82 1306.4L257.88 1305.2L258.94 1305.9L260 1306.4L261.06 1306.2L262.12 1305.5L263.18 1305.7L264.24 1305.8L265.3 1306.1L266.36 1306.8L267.42 1305.6L268.47 1306.6L269.53 1306.7L270.59 1306.8L271.65 1306.8L272.71 1307.4L273.77 1306.9L274.83 1307.2L275.89 1307.1L276.95 1307.8L278.01 1306L279.07 1307.7L280.13 1307L281.19 1307L282.25 1306.7L283.31 1306.4L284.36 1307.2L285.42 1307.1L286.48 1307.7L287.54 1306.8L288.6 1308.4L289.66 1307.8L290.72 1307.6L291.78 1307.5L292.84 1307.5L293.9 1307.4L294.96 1307.8L296.02 1308.1L297.08 1308.1L298.14 1307.5L299.19 1308.2L300.25 1307.9L301.31 1308.5L302.37 1309.5L303.43 1308.9L304.49 1308.5L305.55 1307.9L306.61 1308.1L307.67 1308L308.73 1309.3L309.79 1308.6L310.85 1309.1L311.91 1308.8L312.97 1309.2L314.03 1310L315.08 1309L316.14 1309.2L317.2 1309L318.26 1309.9L319.32 1309L320.38 1309L321.44 1309L322.5 1309L323.56 1310L324.62 1311.1L325.68 1309.4L326.74 1310.4L327.8 1310.1L328.86 1309.5L329.92 1309.9L330.97 1310L332.03 1309.8L333.09 1311.2L334.15 1309.3L335.21 1310.5L336.27 1310.6L337.33 1310.2L338.39 1310.6L339.45 1311L340.51 1310.7L341.57 1310.9L342.63 1311L343.69 1309.7L344.75 1311.5L345.81 1312L346.86 1311.4L347.92 1311.5L348.98 1310.3L350.04 1311L351.1 1310.7L352.16 1310.9L353.22 1311.7L354.28 1310.9L355.34 1311.3L356.4 1310.4L357.46 1311.3L358.52 1311.5L359.58 1311.2L360.64 1311.2L361.69 1312.6L362.75 1311.1L363.81 1311.2L364.87 1311.4L365.93 1312.4L366.99 1312.9L368.05 1312.1L369.11 1311.6L370.17 1311.8L371.23 1312.6L372.29 1311.7L373.35 1312.9L374.41 1313L375.47 1312.3L376.53 1312.7L377.58 1312.8L378.64 1313.2L379.7 1312L380.76 1313.2L381.82 1312.4L382.88 1312.3L383.94 1312.8L385 1312.7L386.06 1312.3L387.12 1312.1L388.18 1312.4L389.24 1313.7L390.3 1314L391.36 1313.4L392.42 1313.7L393.47 1312.9L394.53 1313.2L395.59 1313.3L396.65 1312.7L397.71 1312.7L398.77 1313.3L399.83 1313.1L400.89 1312.7L401.95 1313.4L403.01 1313.1L404.07 1313.8L405.13 1313.3L406.19 1313.1L407.25 1313.3L408.31 1313.2L409.36 1312.9L410.42 1313.1L411.48 1313.7L412.54 1313.6L413.6 1313.9L414.66 1312.5L415.72 1313.1L416.78 1313.1L417.84 1313.4L418.9 1313.1L419.96 1313.1L421.02 1313.7L422.08 1313.4L423.14 1312.8L424.19 1314L425.25 1313.8L426.31 1313.1L427.37 1313.8L428.43 1313L429.49 1313.9L430.55 1313.3L431.61 1313L432.67 1313.2L433.73 1313L434.79 1313.5L435.85 1313.5L436.91 1313.4L437.97 1313.1L439.03 1311.6L440.08 1313.4L441.14 1312.4L442.2 1313.5L443.26 1314L444.32 1313.5L445.38 1313.2L446.44 1313.3L447.5 1313.3L448.56 1313.1L449.62 1313.1L450.68 1313L451.74 1314L452.8 1313.4L453.86 1313.9L454.92 1313.3L455.97 1313.5L457.03 1313.3L458.09 1313.7L459.15 1313.8L460.21 1313.5L461.27 1313.1L462.33 1313L463.39 1314.2L464.45 1313.3L465.51 1313.3L466.57 1314.1L467.63 1314L468.69 1313.7L469.75 1313.2L470.81 1314.6L471.86 1313.6L472.92 1313.7L473.98 1313.3L475.04 1312.7L476.1 1312.7L477.16 1313.5L478.22 1313.5L479.28 1313.1L480.34 1312.6L481.4 1312.5L482.46 1313L483.52 1312.4L484.58 1313.6L485.64 1313.6L486.69 1314.5L487.75 1313.4L488.81 1312.7L489.87 1312.5L490.93 1311.2L491.99 1312.6L493.05 1312.7L494.11 1313.3L495.17 1313.1L496.23 1313L497.29 1312.8L498.35 1313L499.41 1313.3L500.47 1312L501.53 1312.3L502.58 1311.7L503.64 1313.2L504.7 1313L505.76 1312.7L506.82 1311.6L507.88 1312.3L508.94 1312L510 1312.1L511.06 1311.9L512.12 1312.2L513.18 1311.7L514.24 1312.2L515.3 1311.9L516.36 1311.5L517.42 1311.5L518.47 1311.3L519.53 1311.8L520.59 1311.2L521.65 1311.4L522.71 1310.9L523.77 1310.3L524.83 1311.4L525.89 1310.3L526.95 1311L528.01 1310.8L529.07 1309.6L530.13 1309.8L531.19 1309.9L532.25 1309.6L533.31 1309.2L534.36 1310L535.42 1309.3L536.48 1309.4L537.54 1308.8L538.6 1308.9L539.66 1308.1L540.72 1308.2L541.78 1308.2L542.84 1307.6L543.9 1307L544.96 1306.3L546.02 1306.5L547.08 1306.1L548.14 1305.3L549.19 1304.4L550.25 1304.4L551.31 1304.7L552.37 1302.4L553.43 1301.8L554.49 1300.7L555.55 1298L556.61 1297.9L557.67 1295.8L558.73 1294.9L559.75 1291.8L559.79 1291.5L560.08 1291L560.42 1290.3L560.76 1288.9L560.85 1288.9L561.1 1287.5L561.44 1286.9L561.78 1286.2L561.91 1286.3L562.12 1284.9L562.46 1283.2L562.8 1282.1L562.97 1281.2L563.14 1280.6L563.47 1278.5L563.81 1275.8L564.03 1274.6L564.15 1273.7L564.49 1271.2L564.83 1268.4L565.08 1265.6L565.17 1264.2L565.51 1261.5L565.85 1257L566.14 1254.4L566.19 1253.9L566.53 1248.4L566.86 1244.5L567.2 1238.9L567.54 1232.3L567.88 1226.3L568.22 1218.9L568.26 1216.4L568.56 1210.3L568.9 1201.2L569.24 1191.6L569.32 1189.3L569.58 1180.6L569.92 1169.6L570.25 1157.6L570.38 1153L570.59 1145.3L570.93 1131.3L571.27 1117.5L571.44 1111L571.61 1103.3L571.95 1088.4L572.29 1071.8L572.5 1062.5L572.63 1056.7L572.97 1041.3L573.31 1025.5L573.56 1015L573.64 1010.8L573.98 996.8L574.32 984L574.62 974.4L574.66 972.5L575 964.1L575.34 956.9L575.68 952.5L576.02 951.1L576.36 952.7L576.69 957.2L576.74 957.9L577.03 963.7L577.37 973.2L577.71 984L577.8 987.7L578.05 996.8L578.39 1009.8L578.73 1026.5L578.86 1031.6L579.07 1040.7L579.41 1056.9L579.75 1072.3L579.92 1081.6L580.08 1088.5L580.42 1102.6L580.76 1118.3L580.97 1126.7L581.1 1133L581.44 1144.9L581.78 1156.9L582.03 1167L582.12 1169.7L582.46 1180.8L582.8 1190.3L583.09 1200L583.14 1201.8L583.47 1208.9L583.81 1218.6L584.15 1225.2L584.49 1233.5L584.83 1238.7L585.17 1244L585.21 1245.4L585.51 1249.5L585.85 1253.6L586.19 1258.4L586.27 1258.8L586.53 1261L586.86 1266.3L587.2 1268.2L587.33 1269.1L587.54 1271.3L587.88 1272.9L588.22 1275.2L588.39 1276.7L588.56 1277.7L588.9 1279.9L589.24 1282.1L589.45 1282.3L589.58 1283.4L589.92 1284.9L590.25 1285.3L590.51 1286.9L590.59 1286.6L590.93 1288.8L591.27 1289.5L591.57 1290.1L591.61 1289.6L591.95 1291.2L592.29 1291.6L592.63 1293.2L593.69 1295L594.75 1296.5L595.81 1299L596.86 1300.2L597.92 1300.7L598.98 1302.7L600.04 1302.8L601.1 1303.6L602.16 1304.6L603.22 1304.8L604.28 1305.5L605.34 1306.1L606.4 1307.4L607.46 1307.8L608.52 1307.3L609.58 1308.6L610.64 1308.1L611.69 1308.6L612.75 1309.1L613.81 1309.1L614.87 1310.3L615.93 1309.5L616.99 1308.9L618.05 1310.4L619.11 1309.7L620.17 1309.9L621.23 1308.7L622.29 1310.8L623.35 1310.8L624.41 1310.9L625.47 1311.1L626.53 1311.6L627.58 1310.8L628.64 1311.4L629.7 1310.7L630.76 1310.9L631.82 1311.7L632.88 1311.5L633.94 1310.7L635 1311.6L636.06 1311.4L637.12 1311.1L638.18 1311.8L639.24 1311.4L640.3 1310.9L641.36 1311.2L642.42 1312.7L643.47 1311.1L644.53 1312L645.59 1312.2L646.65 1312.3L647.71 1311.4L648.77 1311.8L649.83 1312.1L650.89 1312.5L651.95 1311.8L653.01 1311.6L654.07 1312.7L655.13 1312.7L656.19 1312.4L657.25 1311.9L658.31 1312.5L659.36 1312.4L660.42 1312.7L661.48 1311.7L662.54 1312.4L663.6 1312.3L664.66 1311.8L665.72 1312.5L666.78 1312.5L667.84 1312.3L668.9 1312.7L669.96 1311.8L671.02 1312.5L672.08 1312.7L673.14 1312.7L674.19 1313.1L675.25 1312L676.31 1311.8L677.37 1312.7L678.43 1312.8L679.49 1313.7L680.55 1312.9L681.61 1312.2L682.67 1313.1L683.73 1312.3L684.79 1311.9L685.85 1314L686.91 1312.9L687.97 1313.1L689.03 1313L690.08 1313.6L691.14 1312.9L692.2 1313.4L693.26 1312.3L694.32 1312.1L695.38 1313.5L696.44 1313.5L697.5 1313.1L698.56 1312.9L699.62 1312.9L700.68 1312.5L701.74 1313.6L702.8 1313.2L703.86 1313.1L704.92 1313L705.97 1313.4L707.03 1313.1L708.09 1313.2L709.15 1312.3L710.21 1313.1L711.27 1314L712.33 1312.6L713.39 1312.8L714.45 1313.4L715.51 1313.4L716.57 1313.2L717.63 1312.1L718.69 1313.2L719.75 1312.3L720.81 1312.5L721.86 1313.2L722.92 1312.8L723.98 1313.4L725.04 1314.5L726.1 1313.4L727.16 1313.3L728.22 1312.5L729.28 1312.7L730.34 1312.5L731.4 1312.7L732.46 1312.4L733.52 1312.7L734.58 1312.9L735.64 1312.5L736.69 1312.3L737.75 1312.3L738.81 1313.2L739.87 1313L740.93 1313.5L741.99 1313.5L743.05 1312.8L744.11 1313.4L745.17 1312.3L746.23 1314.2L747.29 1313.6L748.35 1312.9L749.41 1312.5L750.47 1313.2L751.53 1312.1L752.58 1312.6L753.64 1313.4L754.7 1313.1L755.76 1312.8L756.82 1313.5L757.88 1312.5L758.94 1313.2L760 1312.8L761.06 1312.6L762.12 1313.3L763.18 1312.5L764.24 1314L765.3 1312.8L766.36 1314L767.42 1312.5L768.47 1313.3L769.53 1312.4L770.59 1312.4L771.65 1313.1L772.71 1313.4L773.77 1312.4L774.83 1313.6L775.89 1312.6L776.95 1313.1L778.01 1313.2L779.07 1313.3L780.13 1312.1L781.19 1313.8L782.25 1313.3L783.31 1312.8L784.36 1312.5L785.42 1312.1L786.48 1312.3L787.54 1313.3L788.6 1312.8L789.66 1312.4L790.72 1312.7L791.78 1313.7L792.84 1312.8L793.9 1312.6L794.96 1313.6L796.02 1313.1L797.08 1312.9L798.14 1312.6L799.19 1312.1L800.25 1312.3L801.31 1312.6L802.37 1312.7L803.43 1313L804.49 1313.1L805.55 1312.9L806.61 1312.9L807.67 1312.2L808.73 1311.6L809.79 1312.4L810.85 1312.2L811.91 1312.3L812.97 1312.5L814.03 1311.9L815.08 1312L816.14 1312.4L817.2 1312.5L818.26 1312.1L819.32 1312.6L820.38 1312.2L821.44 1311.7L822.5 1312.2L823.56 1313L824.62 1311.6L825.68 1312.4L826.74 1312.3L827.8 1312.1L828.86 1310.7L829.92 1311.7L830.97 1310.3L832.03 1309.5L833.09 1308.7L834.15 1308.1L835.21 1306.7L836.27 1305.2L837.33 1304.5L838.39 1301.8L839.45 1300L840.51 1299.2L841.53 1297.7L841.57 1297.8L841.86 1296.4L842.2 1297L842.54 1296.4L842.63 1296.9L842.88 1295.1L843.22 1295.6L843.56 1295.1L843.69 1294.3L843.9 1294.6L844.24 1295.4L844.58 1294.5L844.75 1294.3L844.92 1295L845.25 1295.1L845.59 1295.1L845.81 1294.2L845.93 1294.6L846.27 1295.2L846.61 1294.5L846.86 1294.6L846.95 1295.4L847.29 1295.9L847.63 1294.7L847.92 1294.2L847.97 1294.8L848.31 1295.2L848.64 1295.8L848.98 1296.4L849.32 1296.1L849.66 1296L850 1296.5L850.04 1296L850.34 1296.5L850.68 1296.3L851.02 1297.9L851.1 1297L851.36 1296.1L851.69 1296L852.03 1296.1L852.16 1295.4L852.37 1295.7L852.71 1295.5L853.05 1295.9L853.22 1295.1L853.39 1294.7L853.73 1294L854.07 1293.5L854.28 1293.7L854.41 1293.4L854.75 1293.3L855.08 1291.7L855.34 1291.9L855.42 1291.3L855.76 1290.2L856.1 1288.2L856.4 1287.6L856.44 1288.5L856.78 1287.7L857.12 1285.9L857.46 1284.9L857.8 1283L858.14 1281.6L858.47 1280.1L858.52 1280.7L858.81 1279.1L859.15 1277.3L859.49 1275.8L859.58 1275.8L859.83 1274.5L860.17 1272.4L860.51 1272.2L860.64 1270.9L860.85 1269.9L861.19 1269.2L861.53 1267.6L861.69 1266.4L861.86 1266L862.2 1264L862.54 1263.2L862.75 1261.7L862.88 1263.1L863.22 1260.8L863.56 1261.4L863.81 1260.3L863.9 1260.1L864.24 1260.2L864.58 1260.4L864.87 1260.6L864.92 1261.2L865.25 1260.8L865.59 1261.5L865.93 1261.4L866.27 1262.8L866.61 1263.4L866.95 1264.2L866.99 1264.5L867.29 1265.6L867.63 1267L867.97 1268.4L868.05 1268.3L868.31 1269.2L868.64 1271.4L868.98 1271.6L869.11 1272.7L869.32 1274.7L869.66 1274L870 1276.5L870.17 1277.9L870.34 1277.4L870.68 1280.9L871.02 1279.6L871.23 1282.5L871.36 1283L871.69 1283.9L872.03 1284.4L872.29 1285.5L872.37 1285.2L872.71 1287L873.05 1286.9L873.35 1288.1L873.39 1288.8L873.73 1288.5L874.07 1289.5L874.41 1290.3L874.75 1290.1L875.08 1291.7L875.42 1291.6L875.47 1290.7L875.76 1291.7L876.1 1291.5L876.44 1291.6L876.53 1292L876.78 1291.6L877.12 1292.5L877.46 1291.6L877.58 1292.4L877.8 1291.8L878.14 1292.1L878.47 1291.3L878.64 1291.2L878.81 1290.8L879.15 1291.5L879.49 1291.5L879.7 1291.9L879.83 1291.5L880.17 1290.8L880.51 1290.4L880.76 1290.7L880.85 1290.5L881.19 1291.2L881.53 1291L881.82 1290.1L881.86 1290.2L882.2 1291.4L882.54 1291.1L882.88 1291.1L883.22 1292.2L883.56 1291.9L883.9 1292.4L883.94 1292.4L884.24 1292.1L884.58 1294.1L884.92 1293.7L885 1294.2L885.25 1294.6L885.59 1296L885.93 1296.3L886.06 1296.6L886.27 1296.3L886.61 1297.8L886.95 1297.8L887.12 1299.1L887.29 1299.5L887.63 1300L888.18 1302.2L889.24 1303.6L890.3 1305.5L891.36 1306.9L892.42 1308L893.47 1309.6L894.53 1310.5L895.59 1309.9L896.65 1311.5L897.71 1311.6L898.77 1312L899.83 1312L900.89 1311.3L901.95 1311.4L903.01 1313.1L904.07 1312.4L905.13 1311.6L906.19 1312.6L907.25 1312.3L908.31 1311.6L909.36 1311.4L910.42 1311.8L911.48 1312.8L912.54 1312.7L913.6 1312.6L914.66 1313L915.72 1313.2L916.78 1311.8L917.84 1312.8L918.9 1312.5L919.96 1312.4L921.02 1312.7L922.08 1313L923.14 1312.9L924.19 1312.3L925.25 1312.9L926.31 1314.1L927.37 1312.6L928.43 1312.3L929.49 1313.3L930.55 1313.5L931.61 1313.4L932.67 1312.7L933.73 1313.7L934.79 1312.9L935.85 1312.7L936.91 1313L937.97 1313.2L939.03 1313.7L940.08 1313.6L941.14 1313.3L942.2 1313.8L943.26 1313.4L944.32 1313.8L945.38 1312.7L946.44 1312.6L947.5 1313.8L948.56 1312.7L949.62 1313.2L950.68 1313.3L951.74 1313.2L952.8 1313.2L953.86 1314.1L954.92 1312.2L955.97 1313.9L957.03 1314.6L958.09 1313.5L959.15 1313.4L960.21 1313.8L961.27 1314.4L962.33 1312.9L963.39 1313.5L964.45 1313.4L965.51 1313.8L966.57 1313.6L967.63 1313.8L968.69 1313.3L969.75 1313.5L970.81 1313.2L971.86 1313.2L972.92 1313.4L973.98 1313.4L975.04 1312.9L976.1 1314.3L977.16 1313.5L978.22 1312.8L979.28 1314.1L980.34 1313.2L981.4 1313.8L982.46 1313.5L983.52 1313.7L984.58 1313.6L985.64 1313.3L986.69 1313.6L987.75 1314.6L988.81 1312.4L989.87 1313.6L990.93 1313.8L991.99 1313L993.05 1312.9L994.11 1314.6L995.17 1313.4L996.23 1314.6L997.29 1313.8L998.35 1313.6L999.41 1313.8L1000.47 1313.9L1001.53 1314.2L1002.58 1313.8L1003.64 1313.6L1004.7 1313.7L1005.76 1314.2L1006.82 1314L1007.88 1313.1L1008.94 1313.2L1010 1313.7L1011.06 1313.3L1012.12 1313.4L1013.18 1313.1L1014.24 1313.4L1015.3 1313.8L1016.36 1314.1L1017.42 1313.6L1018.47 1314.6L1019.53 1313.5L1020.59 1315.1L1021.65 1314L1022.71 1313.8L1023.77 1313.3L1024.83 1312.1L1025.89 1313.5L1026.95 1313.6L1028.01 1314.5L1029.07 1312.8L1030.13 1314.5L1031.19 1313.4L1032.25 1313.9L1033.31 1312.2L1034.36 1313.6L1035.42 1313.3L1036.48 1313.8L1037.54 1313.5L1038.6 1312.9L1039.66 1313.9L1040.72 1313.8L1041.78 1313.7L1042.84 1313.9L1043.9 1313.9L1044.96 1313.4L1046.02 1312.7L1047.08 1312.7L1048.14 1314L1049.19 1313.7L1050.25 1313.4L1051.31 1313.1L1052.37 1313.3L1053.43 1313.2L1054.49 1313L1055.55 1312.8L1056.61 1314.2L1057.67 1313.2L1058.73 1312.8L1059.79 1312.4L1060.85 1312.6L1061.91 1313.3L1062.97 1313.3L1064.03 1312.8L1065.08 1312.8L1066.14 1312.6L1067.2 1312.1L1068.26 1313.3L1069.32 1312.7L1070.38 1313.7L1071.44 1312L1072.5 1312.1L1073.56 1312.5L1074.62 1311.8L1075.68 1311.1L1076.74 1311.1L1077.8 1311.5L1078.86 1311.3L1079.92 1310.9L1080.97 1311.1L1082.03 1310.7L1083.09 1310L1084.15 1309.3L1085 1308.7L1085.21 1309L1085.34 1309.1L1085.68 1308.4L1086.02 1308.3L1086.27 1307.7L1086.36 1307.1L1086.69 1307L1087.03 1307.6L1087.33 1307.1L1087.37 1307.6L1087.71 1306.4L1088.05 1306.3L1088.39 1306.1L1088.73 1305.3L1089.07 1303.9L1089.41 1303.3L1089.45 1303.4L1089.75 1302.1L1090.08 1301.9L1090.42 1301.1L1090.51 1300.1L1090.76 1300.4L1091.1 1297.9L1091.44 1296.4L1091.57 1295.8L1091.78 1294.5L1092.12 1293.1L1092.46 1290.8L1092.63 1290.5L1092.8 1288.8L1093.14 1286.1L1093.47 1282.9L1093.69 1280.4L1093.81 1279.8L1094.15 1276.1L1094.49 1273.3L1094.75 1269.9L1094.83 1269.8L1095.17 1265.1L1095.51 1260.7L1095.81 1256.3L1095.85 1255.7L1096.19 1251.1L1096.53 1246.2L1096.86 1240.3L1097.2 1235.7L1097.54 1231.6L1097.88 1225.1L1097.92 1224.4L1098.22 1220L1098.56 1215L1098.9 1212.2L1098.98 1210.6L1099.24 1208.1L1099.58 1205.9L1099.92 1204L1100.04 1201.7L1100.25 1201.9L1100.59 1201.2L1100.93 1201.6L1101.1 1202.2L1101.27 1202.7L1101.61 1205.8L1101.95 1208.2L1102.16 1210.3L1102.29 1212.2L1102.63 1216.2L1102.97 1220.5L1103.22 1224.1L1103.31 1226.1L1103.64 1230.5L1103.98 1235.4L1104.28 1239.6L1104.32 1240.5L1104.66 1245.2L1105 1250.8L1105.34 1255.8L1105.68 1259.3L1106.02 1264.8L1106.36 1269.3L1106.4 1269.5L1106.69 1272.4L1107.03 1277.2L1107.37 1279.6L1107.46 1280.1L1107.71 1282.5L1108.05 1285.9L1108.39 1289L1108.52 1290L1108.73 1290.9L1109.07 1292.3L1109.41 1294.5L1109.58 1295.3L1109.75 1296.5L1110.08 1297.2L1110.42 1299.5L1110.64 1300.5L1110.76 1300.5L1111.1 1301.9L1111.44 1302.2L1111.69 1302.5L1111.78 1303.1L1112.12 1304.8L1112.46 1305.4L1112.75 1305.1L1112.8 1306L1113.14 1305.8L1113.47 1307.2L1113.81 1307.1L1114.15 1307L1114.49 1307.9L1114.83 1307.5L1114.87 1307.4L1115.17 1307.4L1115.51 1308.5L1115.85 1308.6L1115.93 1308.7L1116.19 1308.7L1116.99 1310L1118.05 1309.6L1119.11 1309.9L1120.17 1311.3L1121.23 1311.7L1122.29 1311.4L1123.35 1310.6L1124.41 1311.4L1125.47 1312.2L1126.53 1312L1127.58 1312.9L1128.64 1311.6L1129.7 1312.7L1130.76 1312.2L1131.82 1313.3L1132.88 1312.6L1133.94 1313.3L1135 1312.5L1136.06 1312.2L1137.12 1312.4L1138.18 1312.7L1139.24 1312.5L1140.3 1313.7L1141.36 1313.8L1142.42 1313.3L1143.47 1312.7L1144.53 1313.2L1145.59 1312.9L1146.65 1314L1147.71 1313.5L1148.77 1313.6L1149.83 1313.2L1150.89 1312.4L1151.95 1313L1153.01 1312.9L1154.07 1313.6L1155.13 1313.5L1156.19 1313.1L1157.25 1313.3L1158.31 1314.3L1159.36 1313L1160.42 1313.1L1161.48 1313.4L1162.54 1313.2L1163.6 1313.3L1164.66 1313.8L1165.72 1314.4L1166.78 1312.7L1167.84 1313.6L1168.9 1313.6L1169.96 1313.5L1171.02 1313.5L1172.08 1313.4L1173.14 1314.1L1174.19 1313.3L1175.25 1313.5L1176.31 1313.6L1177.37 1313.6L1178.43 1313.5L1179.49 1314.1L1180.55 1313.5L1181.61 1313.6L1182.67 1313.5L1183.73 1313L1184.79 1313.1L1185.85 1313L1186.91 1313.6L1187.97 1313.1L1189.03 1312.9L1190.08 1313.6L1191.14 1313.7L1192.2 1312.5L1193.26 1314.2L1194.32 1313.4L1195.38 1313.3L1196.44 1313.8L1197.5 1313.3L1198.56 1312.9L1199.62 1314.3L1200.68 1312.6L1201.74 1313L1202.8 1313.5L1203.86 1312.4L1204.92 1312.9L1205.97 1313L1207.03 1314L1208.09 1312.2L1209.15 1312.6L1210.21 1312.8L1211.27 1312.4L1212.33 1311.6L1213.39 1312.3L1213.73 1312.1L1214.07 1312.2L1214.41 1312.5L1214.45 1312.4L1214.75 1312.1L1215.08 1311.9L1215.42 1311.2L1215.51 1311.6L1215.76 1311.8L1216.1 1311.4L1216.44 1311.5L1216.57 1311L1216.78 1312.2L1217.12 1312.4L1217.46 1311L1217.63 1311.3L1217.8 1311L1218.14 1311.6L1218.47 1311L1218.69 1310.8L1218.81 1310.6L1219.15 1310.6L1219.49 1309.9L1219.75 1310.6L1219.83 1309.8L1220.17 1310.2L1220.51 1309.8L1220.81 1310.1L1220.85 1309.5L1221.19 1309.8L1221.53 1308.5L1221.86 1309L1222.2 1308.3L1222.54 1308.1L1222.88 1307.7L1222.92 1308L1223.22 1306.2L1223.56 1306.9L1223.9 1305.5L1223.98 1306.7L1224.24 1304.7L1224.58 1304.7L1224.92 1303.7L1225.04 1305.1L1225.25 1303.2L1225.59 1303.2L1225.93 1302.2L1226.1 1301.1L1226.27 1301.5L1226.61 1301.1L1226.95 1299.8L1227.16 1299.8L1227.29 1298.8L1227.63 1297.9L1227.97 1296.7L1228.22 1296.2L1228.31 1296.7L1228.64 1294.8L1228.98 1293.6L1229.28 1292.1L1229.32 1291.9L1229.66 1291.7L1230 1289.1L1230.34 1287.9L1230.68 1286.9L1231.02 1285.3L1231.36 1285.1L1231.4 1282.8L1231.69 1282.9L1232.03 1281.7L1232.37 1279.4L1232.46 1279.3L1232.71 1278.8L1233.05 1278.1L1233.39 1275.5L1233.52 1274.7L1233.73 1275.2L1234.07 1274.4L1234.41 1272.4L1234.58 1270.9L1234.75 1272.3L1235.08 1270.6L1235.42 1270.6L1235.64 1269.6L1235.76 1269.3L1236.1 1268.8L1236.44 1269.5L1236.69 1269.4L1236.78 1267.6L1237.12 1268.2L1237.46 1269.8L1237.75 1269.1L1237.8 1268.6L1238.14 1269.8L1238.47 1270.4L1238.81 1271.2L1239.15 1271.9L1239.49 1273L1239.83 1274.1L1239.87 1274.6L1240.17 1275L1240.51 1276.5L1240.85 1277.9L1240.93 1278.9L1241.19 1279.4L1241.53 1280.5L1241.86 1282.2L1241.99 1282.6L1242.2 1283.8L1242.54 1284.9L1242.88 1286.8L1243.05 1287.3L1243.22 1287.2L1243.56 1288.3L1243.9 1290.2L1244.11 1290.7L1244.24 1290.9L1244.58 1291.3L1244.92 1292.3L1245.17 1294.2L1245.25 1294.6L1245.59 1295.7L1245.93 1295.6L1246.1 1297.2L1246.23 1296.7L1246.27 1297.3L1246.44 1297.7L1246.61 1297.5L1246.78 1298L1246.95 1297.7L1247.12 1298.6L1247.29 1298.5L1247.46 1300L1247.63 1300.1L1247.8 1300.9L1247.97 1300.9L1248.14 1300.7L1248.31 1301.4L1248.35 1301.1L1248.47 1301.8L1248.64 1301.9L1248.81 1301.5L1248.98 1302.2L1249.15 1302.4L1249.32 1302.4L1249.41 1303.1L1249.49 1303.5L1249.66 1302.7L1249.83 1302.8L1250 1302L1250.17 1303.1L1250.34 1303L1250.47 1302.2L1250.51 1303.5L1250.68 1303.7L1250.85 1303L1251.02 1303.2L1251.19 1302.9L1251.36 1303.8L1251.53 1302.6L1251.69 1303.1L1251.86 1304.2L1252.03 1303.1L1252.2 1303.2L1252.37 1302.8L1252.54 1302.1L1252.58 1302.6L1252.71 1302.7L1252.88 1301.8L1253.05 1302.2L1253.22 1302.4L1253.39 1302.1L1253.56 1300.4L1253.64 1300.6L1253.73 1300.1L1253.9 1301.1L1254.07 1300.5L1254.24 1300.1L1254.41 1298.9L1254.58 1298.3L1254.7 1298.6L1254.75 1298.4L1254.92 1297.4L1255.08 1297.4L1255.25 1297.1L1255.42 1296.3L1255.59 1295L1255.76 1293.8L1255.93 1294L1256.1 1293.5L1256.27 1292.5L1256.44 1291.6L1256.61 1290.7L1256.78 1290.5L1256.82 1289.9L1256.95 1289.3L1257.12 1287.9L1257.29 1287.1L1257.46 1286.5L1257.63 1284.9L1257.8 1283.8L1257.88 1283.7L1257.97 1284L1258.14 1282.4L1258.31 1281.9L1258.47 1280L1258.64 1278.7L1258.81 1277L1258.94 1276.6L1258.98 1277.3L1259.15 1275.5L1259.32 1274.5L1259.49 1273.3L1259.66 1271.7L1259.83 1270.4L1260 1269.4L1260.34 1267.2L1260.68 1264.7L1261.02 1262.5L1261.06 1262L1261.36 1259.7L1261.69 1258L1262.03 1255.8L1262.12 1256.4L1262.37 1253.7L1262.71 1253.5L1263.05 1253.9L1263.18 1252.3L1263.39 1251.6L1263.73 1252L1264.07 1252.9L1264.24 1252.4L1264.41 1253.1L1264.75 1253.8L1265.08 1254.9L1265.3 1257.6L1265.42 1256.7L1265.76 1258.2L1266.1 1260.3L1266.36 1262.4L1266.44 1263L1266.78 1265.5L1267.12 1267.6L1267.42 1269L1267.46 1270.3L1267.8 1272.4L1268.14 1274.9L1268.47 1276.8L1268.81 1279.7L1269.15 1282L1269.49 1284.6L1269.53 1284.1L1269.83 1286.8L1270.17 1288.9L1270.51 1290.3L1270.59 1291L1270.85 1292.2L1271.19 1294.8L1271.53 1294.7L1271.65 1296.4L1271.86 1296.7L1272.2 1298.7L1272.54 1300.6L1272.71 1300.4L1272.88 1301.4L1273.22 1302L1273.56 1304.3L1273.77 1304.4L1273.9 1304.8L1274.24 1304.4L1274.58 1305.2L1274.83 1306.8L1274.92 1306.3L1275.25 1306.8L1275.59 1307.6L1275.89 1307.2L1275.93 1308.3L1276.27 1308.4L1276.61 1309L1276.95 1308.7L1277.29 1309.6L1277.63 1309.3L1277.97 1310.3L1278.01 1310.5L1278.31 1310.5L1278.64 1310.5L1278.98 1310.8L1279.07 1309.1L1279.32 1311L1279.66 1310.6L1280 1311L1280.13 1310.8L1280.34 1310.4L1280.68 1310.9L1281.02 1311.6L1281.19 1312L1282.25 1311.3L1283.31 1311.4L1284.36 1312.8L1285.42 1311.8L1286.48 1313.5L1287.54 1312.6L1288.6 1312.3L1289.66 1313.3L1290.72 1313.8L1291.78 1312.3L1292.84 1313.9L1293.9 1313L1294.96 1314L1296.02 1313.1L1297.08 1312.6L1298.14 1313.7L1299.19 1313.9L1300.25 1314.6L1301.31 1314.4L1302.37 1314L1303.43 1313.5L1304.49 1313.4L1305.55 1313.6L1306.61 1313.3L1307.67 1313.6L1308.73 1312.5L1309.79 1313.9L1310.85 1313.8L1311.91 1315.2L1312.97 1314.3L1314.03 1313.7L1315.08 1314.2L1316.14 1313.3L1317.2 1313.7L1318.26 1313L1319.32 1314.7L1320.38 1314.3L1321.44 1313.4L1322.5 1314L1323.56 1314.5L1324.62 1314.3L1325.68 1314.3L1326.74 1313.7L1327.8 1313.8L1328.86 1314.1L1329.92 1314.6L1330.97 1313.7L1332.03 1313.6L1333.09 1314.7L1334.15 1313.7L1335.21 1314.7L1336.27 1314.3L1337.33 1314.6L1338.39 1315L1339.45 1314.5L1340.51 1314.6L1341.57 1313.7L1342.63 1313.8L1343.69 1314.5L1344.75 1315L1345.81 1314.9L1346.86 1315.4L1347.92 1314.4L1348.98 1314.3L1350.04 1314.7L1351.1 1314.2L1352.16 1314.2L1353.22 1313.7L1354.28 1314.7L1355.34 1313.7L1356.4 1314.5L1357.46 1313.5L1358.52 1314.8L1359.58 1313.7L1360.64 1314.6L1361.69 1313.4L1362.75 1314L1363.81 1314.8L1364.87 1313.8L1365.93 1314.2L1366.99 1313.9L1368.05 1313L1369.11 1314.3L1370.17 1314.4L1371.23 1313.6L1372.29 1314.4L1373.35 1313.7L1374.41 1313.6L1375.47 1314.1L1376.53 1313.8L1377.58 1315.2L1378.64 1313.3L1379.7 1314.4L1380.76 1314.5L1381.82 1313L1382.88 1313.1L1383.94 1314.2L1385 1313.7L1386.06 1314.1L1387.12 1314.4L1388.18 1313.6L1389.24 1313.2L1390.3 1312.3L1391.36 1313.7L1392.42 1313.1L1393.47 1313.6L1394.53 1313.5L1395.59 1312.5L1396.65 1313.9L1397.71 1313.4L1398.77 1313.1L1399.83 1311.9L1400.89 1312L1401.95 1311.6L1403.01 1311.3L1404.07 1310.6L1405.13 1311L1406.19 1310.4L1407.25 1310L1408.31 1309L1409.36 1309.3L1410.42 1308.1L1411.48 1306.1L1412.54 1306.5L1413.6 1306.1L1414.66 1306L1415.72 1304.7L1416.53 1304.2L1416.78 1303.9L1416.86 1304.5L1417.2 1303.8L1417.54 1303.5L1417.84 1303.3L1417.88 1303.9L1418.22 1303.2L1418.56 1302.4L1418.9 1303.4L1419.24 1302.6L1419.58 1303L1419.92 1302.8L1419.96 1303.2L1420.25 1303L1420.59 1302.1L1420.93 1302.1L1421.02 1301.5L1421.27 1302.9L1421.61 1302.2L1421.95 1302.5L1422.08 1301.6L1422.29 1300.6L1422.63 1302.3L1422.97 1301.4L1423.14 1301.4L1423.31 1301.3L1423.64 1301.4L1423.98 1301.2L1424.19 1300.1L1424.32 1301.4L1424.66 1300.4L1425 1300.2L1425.25 1301.2L1425.34 1300.7L1425.68 1299.9L1426.02 1298.9L1426.31 1299.7L1426.36 1299.9L1426.69 1299.3L1427.03 1298.4L1427.37 1298.4L1427.71 1297.8L1428.05 1298.2L1428.39 1298.1L1428.43 1298.1L1428.73 1296.9L1429.07 1296.9L1429.41 1296.5L1429.49 1295.9L1429.75 1295.6L1430.08 1296.2L1430.42 1294.6L1430.55 1294.7L1430.76 1293.6L1431.1 1293.2L1431.44 1291.6L1431.61 1292L1431.78 1292.3L1432.12 1291.9L1432.46 1290.6L1432.67 1289.8L1432.8 1289.2L1433.14 1288L1433.47 1287.3L1433.73 1287L1433.81 1286L1434.15 1285.9L1434.49 1284L1434.79 1282.8L1434.83 1283L1435.17 1281.8L1435.51 1281L1435.85 1281.3L1436.19 1279.7L1436.53 1279.1L1436.86 1278.8L1436.91 1278.8L1437.2 1277.3L1437.54 1277.5L1437.88 1276.5L1437.97 1276.2L1438.22 1276.1L1438.56 1274.9L1438.9 1275L1439.03 1275.3L1439.24 1275.6L1439.58 1275.2L1439.92 1275.5L1440.08 1276.2L1440.25 1276.6L1440.59 1276.7L1440.93 1277.5L1441.14 1277.1L1441.27 1277.4L1441.61 1278.5L1441.95 1279.1L1442.2 1279.7L1442.29 1281L1442.63 1281.1L1442.97 1281.8L1443.26 1283.5L1443.31 1284.3L1443.64 1284.6L1443.98 1286.4L1444.32 1286.7L1444.66 1287.9L1445 1289L1445.34 1290.5L1445.38 1291.6L1445.68 1291.1L1446.02 1293.7L1446.36 1293.5L1446.44 1294.2L1446.69 1295.5L1447.03 1296.5L1447.37 1297.3L1447.5 1296.8L1447.71 1298.4L1448.05 1298.6L1448.39 1301.4L1448.56 1300.4L1448.73 1301L1449.07 1301.2L1449.41 1302.3L1449.62 1302.4L1449.75 1303.8L1450.08 1303.9L1450.42 1305L1450.68 1304.8L1450.76 1305L1451.1 1306.5L1451.44 1305.9L1451.74 1306L1451.78 1307.1L1452.12 1306.8L1452.46 1307.6L1452.8 1308.7L1453.14 1308.2L1453.47 1309.4L1453.81 1309L1453.86 1310.1L1454.15 1310.3L1454.49 1309.7L1454.83 1310.1L1454.92 1309.8L1455.17 1310.5L1455.51 1311.2L1455.85 1310.1L1455.97 1311.4L1456.19 1310.4L1456.53 1310.8L1456.86 1310.5L1457.03 1312.5L1457.2 1311.5L1457.54 1311.8L1457.88 1311.4L1458.09 1312.4L1458.22 1310.8L1458.56 1312L1458.9 1313.2L1459.15 1312L1459.24 1312.2L1459.58 1312.6L1459.92 1312L1460.21 1312.4L1460.25 1312.9L1460.59 1312.6L1460.93 1312.8L1461.27 1312.5L1461.61 1312.9L1461.95 1312.8L1462.29 1313.6L1462.33 1313.2L1462.63 1312.8L1463.39 1311.8L1464.45 1313.5L1465.51 1313.6L1466.57 1312.9L1467.63 1312.5L1468.69 1313L1469.75 1314.1L1470.81 1313.2L1471.86 1313.5L1472.92 1313.9L1473.98 1314.5L1475.04 1313.9L1476.1 1313.9L1477.16 1313.7L1478.22 1314.9L1479.28 1314.6L1480.34 1314.1L1481.4 1313.5L1482.46 1313.8L1483.52 1314.5L1484.58 1313.9L1485.64 1314.7L1486.69 1314.5L1487.75 1314.5L1488.81 1314.7L1489.87 1314.6L1490.93 1314L1491.99 1314.2L1493.05 1315.6L1494.11 1313.8L1495.17 1314.2L1496.23 1315L1497.29 1314.4L1498.35 1314.1L1499.41 1313.8L1500.47 1314.8L1501.53 1315L1502.58 1315.2L1503.64 1314.5L1504.7 1315L1505.76 1314L1506.82 1314.6L1507.88 1314.2L1508.94 1314.6L1510 1314.9L1511.06 1315.1L1512.12 1314.1L1513.18 1315.2L1514.24 1314.3L1515.3 1314L1516.36 1314.5L1517.42 1313.8L1518.47 1314.6L1519.53 1314.7L1520.59 1314.5L1521.65 1314.8L1522.71 1314.4L1523.77 1314.6L1524.83 1313.8L1525.89 1314.6L1526.95 1314.1L1528.01 1314.3L1529.07 1314.5L1530.13 1314.6L1531.19 1313.7L1532.25 1313.7L1533.31 1314.4L1534.36 1314.7L1535.42 1314.7L1536.48 1314.9L1537.54 1315.1L1538.6 1314.7L1539.66 1314.4L1540.72 1313.9L1541.78 1313.9L1542.84 1314.2L1543.9 1314.5L1544.96 1314.5L1546.02 1314.3L1547.08 1314.2L1548.14 1314.6L1549.19 1314.3L1550.25 1314.3L1551.31 1314.3L1552.37 1313.8L1553.43 1313.5L1554.49 1314.2L1555.55 1314.1L1556.61 1313.7L1557.67 1313.5L1558.73 1314.6L1559.79 1312.9L1560.85 1313L1561.91 1312.9L1562.97 1311.9L1564.03 1312.1L1565.08 1312.4L1566.14 1311.3L1567.2 1310.5L1568.26 1309.6L1569.32 1308.4L1570.38 1307.8L1571.44 1306.1L1572.5 1304.8L1573.56 1303.9L1574.62 1303L1575.68 1301.6L1576.74 1300.7L1577.8 1298.5L1578.86 1299.5L1579.92 1299.8L1580.97 1299.3L1582.03 1298.8L1583.09 1299.2L1584.15 1300.6L1585.21 1301L1586.27 1303L1587.33 1303.5L1588.39 1305.4L1589.45 1306.8L1590.51 1306.1L1591.57 1308.2L1592.63 1308.6L1593.69 1308.9L1594.75 1309.9L1595.81 1310.6L1596.86 1311.5L1597.92 1310.4L1598.98 1311.8L1600.04 1312.1L1601.1 1311.1L1602.16 1310.6L1603.22 1309.7L1604.28 1308.2L1605.34 1307.8L1606.4 1306.3L1607.46 1304.8L1608.52 1303.9L1609.58 1301L1610.64 1298.8L1611.69 1297.5L1612.75 1294.4L1613.81 1293.4L1614.87 1293.3L1615.93 1293.4L1616.99 1295L1618.05 1296L1619.11 1298.9L1620.17 1300.8L1621.23 1302.5L1622.29 1303.9L1623.35 1306.2L1624.41 1308L1625.47 1308.4L1626.53 1310.3L1627.58 1311.4L1628.64 1311.9L1629.7 1313.1L1630.76 1313.4L1631.82 1312.7L1632.88 1313.4L1633.94 1313.1L1635 1314L1636.06 1313.4L1637.12 1314.4L1638.18 1314.2L1639.24 1314.5L1640.3 1314L1641.36 1313.4L1642.42 1315.1L1643.47 1314.2L1644.53 1315L1645.59 1314.5L1646.65 1314.7L1647.71 1315.3L1648.77 1314.6L1649.83 1315.1L1650.89 1313.7L1651.95 1314.9L1653.01 1314.3L1654.07 1314.4L1655.13 1314.5L1656.19 1314.7L1657.25 1315.3L1658.31 1313.6L1659.36 1314.5L1660.42 1314.2L1661.48 1315.1L1662.54 1314.3L1663.6 1314.8L1664.66 1314.3L1665.72 1314.9L1666.78 1315L1667.84 1314.3L1668.9 1314.6L1669.96 1313.8L1671.02 1314.7L1672.08 1314.9L1673.14 1314.2L1674.19 1315.1L1675.25 1313.4L1676.31 1313.5L1677.37 1313.8L1678.43 1314.2L1679.49 1314.4L1680.55 1314.3L1681.61 1314.3L1682.67 1314.7L1683.73 1314L1684.79 1313.6L1685.85 1313.6L1686.91 1315.2L1687.97 1312.9L1689.03 1313.9L1690.08 1314.6L1691.14 1314L1692.2 1313.2L1693.26 1313.5L1694.32 1313.8L1695.38 1313.8L1696.44 1312.6L1697.5 1313.2L1698.56 1312.8L1699.62 1313L1700.68 1312.9L1701.74 1311.7L1702.8 1310.9L1703.86 1311.5L1704.92 1311.9L1705.97 1311L1707.03 1310.4L1708.09 1311L1709.15 1308.8L1710.21 1309.1L1711.27 1307.6L1712.33 1307.1L1713.39 1306L1714.45 1305.5L1715.51 1302.8L1716.57 1301.3L1717.63 1298.9L1718.69 1297.9L1719.75 1295.3L1720.81 1293.7L1721.86 1291L1722.92 1289.7L1723.98 1289.4L1725.04 1288.4L1726.1 1289.2L1727.16 1290.2L1728.22 1291.4L1729.28 1292.8L1730.34 1296.3L1731.4 1298L1732.46 1300.4L1733.52 1300.7L1734.58 1302.3L1735.64 1303.2L1736.69 1304.7L1737.75 1306.1L1738.81 1306.1L1739.87 1305.7L1740.93 1305.6L1741.99 1305.5L1743.05 1304.6L1744.11 1304.5L1745.17 1304L1746.23 1302.7L1747.29 1303.5L1748.35 1304.6L1749.41 1304.2L1750.47 1304.9L1751.53 1305.4L1752.58 1306.3L1753.64 1308L1754.7 1308.2L1755.76 1308.7L1756.82 1308.5L1757.88 1310.5L1758.94 1310.5L1760 1311.1L1761.06 1312.9L1762.12 1313.3L1763.18 1312.3L1764.24 1314L1765.3 1314L1766.36 1313.6L1767.42 1314.5L1768.47 1313.4L1769.53 1313.7L1770.59 1313.6L1771.65 1313.9L1772.71 1314.9L1773.77 1313.8L1774.83 1314L1775.89 1314.1L1776.95 1314.7L1778.01 1314.5L1779.07 1315.1L1780.13 1314.3L1781.19 1314.1L1782.25 1314.5L1783.31 1314.8L1784.36 1314.3L1785.42 1314.9L1786.48 1315.7L1787.54 1314.5L1788.6 1314.8L1789.66 1315.5L1790.72 1314.5L1791.78 1314.4L1792.84 1314.3L1793.9 1315.1L1794.96 1315.1L1796.02 1314.8L1797.08 1314.9L1798.14 1315.5L1799.19 1315.3L1800.25 1314.2L1801.31 1314.9L1802.37 1315L1803.43 1315.3L1804.49 1314.8L1805.55 1314.6L1806.61 1314.7L1807.67 1314.1L1808.73 1314.9L1809.79 1314.7L1810.85 1315.2L1811.91 1314.5L1812.97 1314.8L1814.03 1314.5L1815.08 1314.5L1816.14 1315.3L1817.2 1314.8L1818.26 1315.2L1819.32 1314.4L1820.38 1315.1L1821.44 1314.2L1822.5 1314.8L1823.56 1314.8L1824.62 1315.3L1825.68 1315.1L1826.74 1314.9L1827.8 1315.4L1828.86 1315.1L1829.92 1315.3L1830.97 1315.4L1832.03 1315L1833.09 1314.9L1834.15 1315.2L1835.21 1314.8L1836.27 1315.2" stroke="#000000" stroke-width="6.5"/>
<path class="c" d="M224.41 896.6L224.76 910.7L225.12 909.4L225.47 891.2L225.83 893.5L226.19 891.2L226.54 902.9L226.9 896.4L227.25 905L227.61 877.8L227.97 913.9L228.32 896.5L228.68 904.8L229.03 896.3L229.39 893.8L229.75 902.8L230.1 906.7L230.46 896L230.81 896.7L231.17 905.6L231.53 889.4L231.88 882.8L232.24 902.9L232.59 891.8L232.95 878.9L233.31 890.6L233.66 894.3L234.02 886.8L234.37 883.8L234.73 899.9L235.08 909L235.44 897.3L235.8 892.1L236.15 904L236.51 907.5L236.86 897.1L237.22 906L237.58 911.2L237.93 897.1L238.29 892.2L238.64 904.4L239 903.4L239.36 912.4L239.71 887.8L240.07 890.3L240.42 892.7L240.78 883.6L241.14 902.9L241.49 907.1L241.85 894.2L242.2 916.2L242.56 910.5L242.92 908.6L243.27 906.4L243.63 912.2L243.98 888.9L244.34 909L244.69 909L245.05 884.8L245.41 906.6L245.76 900.6L246.12 911.3L246.47 898.9L246.83 903.3L247.19 907.2L247.54 894.8L247.9 910L248.25 903L248.61 909.2L248.97 899L249.32 915.5L249.68 910.7L250.03 902.9L250.39 911.2L250.75 917.7L251.1 923.2L251.46 889.3L251.81 914.3L252.17 910.2L252.53 904.7L252.88 895.6L253.24 918.6L253.59 893.4L253.95 911.9L254.31 919.5L254.66 890.4L255.02 903.6L255.37 893.7L255.73 909.4L256.08 922.3L256.44 927.5L256.8 889.7L257.15 901.9L257.51 914.8L257.86 923.7L258.22 912.3L258.58 900.8L258.93 911.4L259.29 908.4L259.64 906.7L260 901.6L260.36 912.9L260.71 912.3L261.07 908.5L261.42 907.4L261.78 897L262.14 905.1L262.49 922L262.85 908.3L263.2 896.2L263.56 923.7L263.92 915.9L264.27 936.4L264.63 911.7L264.98 906.7L265.34 888.7L265.69 924.5L266.05 936.9L266.41 903.9L266.76 905.8L267.12 918.1L267.47 904.4L267.83 910L268.19 909.4L268.54 916L268.9 923.8L269.25 913.5L269.61 927.7L269.97 909.6L270.32 917L270.68 893.4L271.03 900.2L271.39 922L271.75 908.9L272.1 920.3L272.46 920.1L272.81 927.8L273.17 923L273.53 925.2L273.88 914.5L274.24 909.1L274.59 909L274.95 911.5L275.31 905.5L275.66 911.2L276.02 915.8L276.37 919.2L276.73 913.8L277.08 898.9L277.44 916.6L277.8 919.6L278.15 927.9L278.51 923.3L278.86 911.9L279.22 907.2L279.58 937.3L279.93 925.6L280.29 935.9L280.64 938.8L281 911.3L281.36 922.8L281.71 923.6L282.07 924.7L282.42 924.7L282.78 921.7L283.14 921.6L283.49 906.1L283.85 918.7L284.2 913.4L284.56 921.7L284.92 916.4L285.27 926.6L285.63 928.6L285.98 924L286.34 924.2L286.69 922.3L287.05 917.5L287.41 920.2L287.76 917.3L288.12 925.6L288.47 922.3L288.83 927.7L289.19 910.2L289.54 930.7L289.9 915.7L290.25 916.1L290.61 921.2L290.97 917.9L291.32 925.9L291.68 918.1L292.03 913.7L292.39 915.9L292.75 935.7L293.1 924.3L293.46 913.3L293.81 924.2L294.17 910.1L294.53 940.6L294.88 910.6L295.24 928.9L295.59 929.6L295.95 911.7L296.31 927.7L296.66 934.1L297.02 929.4L297.37 927.6L297.73 934L298.08 927L298.44 928.7L298.8 924.6L299.15 931.5L299.51 917.5L299.86 933.2L300.22 921.6L300.58 910.6L300.93 929.7L301.29 941.7L301.64 935.2L302 922.1L302.36 933.1L302.71 922.8L303.07 925.9L303.42 927.9L303.78 906.5L304.14 929L304.49 912.7L304.85 921.3L305.2 914.5L305.56 914.2L305.92 919.4L306.27 935.3L306.63 942.9L306.98 927.9L307.34 937.9L307.69 926L308.05 911.4L308.41 929.8L308.76 932.6L309.12 924.9L309.47 931.5L309.83 934L310.19 921.3L310.54 916L310.9 927.2L311.25 927.4L311.61 926.2L311.97 938.2L312.32 944.8L312.68 926L313.03 935.9L313.39 938.1L313.75 936.2L314.1 939.2L314.46 926.7L314.81 936.7L315.17 948.1L315.53 937.4L315.88 925L316.24 935.9L316.59 941.7L316.95 934L317.31 925.9L317.66 944.4L318.02 920.1L318.37 935.5L318.73 931L319.08 920.8L319.44 942L319.8 934.5L320.15 921.4L320.51 936.9L320.86 928L321.22 915.2L321.58 925.9L321.93 934.3L322.29 937.6L322.64 933.6L323 932.7L323.36 936.4L323.71 930.6L324.07 942.7L324.42 933.9L324.78 935.3L325.14 937.5L325.49 923.8L325.85 926.9L326.2 946.3L326.56 936.1L326.92 930.8L327.27 936.3L327.63 929.3L327.98 936L328.34 927.9L328.69 936.1L329.05 920.3L329.41 945.4L329.76 929.6L330.12 920.6L330.47 932.3L330.83 931.1L331.19 935.7L331.54 924.7L331.9 938L332.25 956.9L332.61 923.9L332.97 937.8L333.32 932.4L333.68 936.8L334.03 919.8L334.39 925.5L334.75 939.3L335.1 935.2L335.46 949.5L335.81 929.7L336.17 937.3L336.53 958L336.88 929.5L337.24 928.5L337.59 935.9L337.95 936L338.31 943.6L338.66 937.6L339.02 930.3L339.37 938.5L339.73 958.8L340.08 947.7L340.44 915.2L340.8 936L341.15 929.9L341.51 942.6L341.86 936L342.22 953.8L342.58 945.5L342.93 945.2L343.29 939.4L343.64 937.7L344 940.9L344.36 949L344.71 942.8L345.07 935.5L345.42 949.1L345.78 940.2L346.14 938.1L346.49 932.2L346.85 934.2L347.2 933.7L347.56 917.5L347.92 947.7L348.27 944L348.63 937.6L348.98 948.2L349.34 943.2L349.69 942.8L350.05 919.3L350.41 938L350.76 944.4L351.12 953.4L351.47 955.4L351.83 959.1L352.19 930.8L352.54 922.4L352.9 945.3L353.25 940.9L353.61 948.7L353.97 939.8L354.32 942.8L354.68 928.7L355.03 944.8L355.39 937.6L355.75 944.2L356.1 945.2L356.46 940.5L356.81 944.2L357.17 941.6L357.53 948L357.88 945.9L358.24 937.5L358.59 937.2L358.95 956.3L359.31 941.3L359.66 955.2L360.02 945.5L360.37 937.8L360.73 936.4L361.08 943.6L361.44 944.7L361.8 947.7L362.15 932.5L362.51 938.1L362.86 942.2L363.22 956L363.58 924L363.93 946.7L364.29 938.9L364.64 946.8L365 939.4L365.36 946.4L365.71 956.1L366.07 946.4L366.42 947.1L366.78 946.7L367.14 937.7L367.49 948.2L367.85 942.2L368.2 937.4L368.56 943.7L368.92 942.2L369.27 950.2L369.63 943.8L369.98 939.9L370.34 956L370.69 952.2L371.05 954.5L371.41 949.3L371.76 943.6L372.12 939.1L372.47 942.3L372.83 952.2L373.19 945.5L373.54 932.7L373.9 944.4L374.25 933.4L374.61 946.1L374.97 935.1L375.32 934.7L375.68 945.8L376.03 944.3L376.39 931.6L376.75 950.9L377.1 962.3L377.46 933.1L377.81 959.6L378.17 939.6L378.53 941.1L378.88 943.7L379.24 933.6L379.59 955.5L379.95 949.1L380.31 939.2L380.66 943L381.02 933.1L381.37 942.5L381.73 952.7L382.08 931.6L382.44 941.8L382.8 946.5L383.15 953.7L383.51 956.1L383.86 941.7L384.22 935.9L384.58 949L384.93 942.5L385.29 942.9L385.64 954.1L386 958.9L386.36 947.6L386.71 943.9L387.07 950L387.42 930.4L387.78 945.4L388.14 937L388.49 964.6L388.85 954.7L389.2 946.7L389.56 944L389.92 925.5L390.27 951.2L390.63 958.5L390.98 939.8L391.34 951L391.69 951.3L392.05 933.3L392.41 953L392.76 956.4L393.12 947.4L393.47 945.1L393.83 951.9L394.19 926L394.54 946.8L394.9 954L395.25 935.7L395.61 953.6L395.97 942.3L396.32 929.1L396.68 944.8L397.03 937.9L397.39 948.2L397.75 936.3L398.1 954L398.46 939.8L398.81 948.5L399.17 941L399.53 943.1L399.88 955.2L400.24 947.4L400.59 942.6L400.95 935.8L401.31 955L401.66 951.6L402.02 943.2L402.37 947.7L402.73 937.6L403.08 937.7L403.44 939.2L403.8 948.6L404.15 948.2L404.51 939.9L404.86 951.7L405.22 952.1L405.58 947.2L405.93 954.1L406.29 943.6L406.64 945L407 949.7L407.36 945.7L407.71 952.3L408.07 936L408.42 957.3L408.78 939.8L409.14 944.7L409.49 935.1L409.85 950.8L410.2 962.3L410.56 954.6L410.92 952.8L411.27 933.8L411.63 940L411.98 942.5L412.34 938.8L412.69 955.2L413.05 947.7L413.41 946.1L413.76 950.2L414.12 938.8L414.47 939.2L414.83 939.4L415.19 950.4L415.54 949.2L415.9 951.1L416.25 955L416.61 935.8L416.97 942.1L417.32 947.7L417.68 935.9L418.03 942.4L418.39 954.7L418.75 955.4L419.1 955.2L419.46 947.1L419.81 945.1L420.17 955.3L420.53 943.9L420.88 949.5L421.24 957.3L421.59 944L421.95 942.1L422.31 946.9L422.66 951.7L423.02 950.8L423.37 948.3L423.73 951.5L424.08 934.5L424.44 940.4L424.8 948.4L425.15 939.9L425.51 936.6L425.86 937.7L426.22 940L426.58 945.9L426.93 939.3L427.29 949.2L427.64 960.7L428 946.2L428.36 957.5L428.71 949.7L429.07 938.7L429.42 945.5L429.78 939.8L430.14 953.6L430.49 938.5L430.85 958L431.2 952.2L431.56 931.7L431.92 957.5L432.27 959.9L432.63 941.5L432.98 955.5L433.34 933.6L433.69 949.7L434.05 934.7L434.41 951.6L434.76 933.8L435.12 927.4L435.47 951L435.83 965.8L436.19 943.2L436.54 954.4L436.9 948.8L437.25 945.4L437.61 952.8L437.97 960.8L438.32 938.3L438.68 952.4L439.03 950.7L439.39 936.8L439.75 960.7L440.1 963.3L440.46 940.6L440.81 961.7L441.17 948.5L441.53 946.8L441.88 959.8L442.24 949.8L442.59 950.6L442.95 959.9L443.31 958.2L443.66 955.1L444.02 937.1L444.37 935.7L444.73 956.9L445.08 940.8L445.44 949.2L445.8 939.6L446.15 946.6L446.51 938L446.86 960.8L447.22 940L447.58 947L447.93 946.5L448.29 957.4L448.64 936.8L449 947.7L449.36 946.3L449.71 954.6L450.07 951.6L450.42 944.2L450.78 949.7L451.14 944.9L451.49 951.5L451.85 947L452.2 942.6L452.56 947.5L452.92 950.6L453.27 968.1L453.63 943.8L453.98 950L454.34 959.1L454.69 931.2L455.05 933.8L455.41 938.1L455.76 946.6L456.12 966.6L456.47 950.5L456.83 956.9L457.19 945.6L457.54 927.9L457.9 929L458.25 955.2L458.61 948.6L458.97 936.9L459.32 955.9L459.68 934.9L460.03 956L460.39 958.4L460.75 940.9L461.1 938.1L461.46 953.5L461.81 938.1L462.17 953.6L462.53 937.2L462.88 953L463.24 947.3L463.59 943.1L463.95 939.4L464.31 948.3L464.66 931.4L465.02 944.2L465.37 943.2L465.73 951.7L466.08 936.3L466.44 959.8L466.8 943.6L467.15 937L467.51 957L467.86 959.2L468.22 944.4L468.58 938.8L468.93 946L469.29 940.3L469.64 941.7L470 958.1L470.36 948.7L470.71 946.7L471.07 948.3L471.42 945L471.78 952.1L472.14 952.4L472.49 942.4L472.85 946.1L473.2 964.5L473.56 948.5L473.92 943.6L474.27 961.5L474.63 945.1L474.98 936.2L475.34 950.3L475.69 937.7L476.05 940.8L476.41 947.4L476.76 943.7L477.12 938.6L477.47 940.2L477.83 939.8L478.19 953.9L478.54 938.7L478.9 939.8L479.25 960.8L479.61 939.9L479.97 956.3L480.32 954.8L480.68 943L481.03 932.7L481.39 947.8L481.75 949.5L482.1 951.8L482.46 944.6L482.81 953.7L483.17 955.1L483.53 935.4L483.88 955.4L484.24 945.2L484.59 939.2L484.95 941.2L485.31 958.8L485.66 951.6L486.02 929.2L486.37 944.3L486.73 942.4L487.08 942.1L487.44 939.3L487.8 924.6L488.15 954.6L488.51 935.8L488.86 940.4L489.22 938.5L489.58 937.5L489.93 949.3L490.29 946.4L490.64 937.8L491 935.6L491.36 939.5L491.71 951.1L492.07 944.3L492.42 945.1L492.78 940.6L493.14 941.1L493.49 945L493.85 922.2L494.2 956.3L494.56 936.8L494.92 938.6L495.27 954L495.63 945L495.98 943.5L496.34 938.4L496.69 930.5L497.05 944.6L497.41 952.8L497.76 935.8L498.12 954.1L498.47 934L498.83 937.1L499.19 947.1L499.54 943L499.9 948.6L500.25 937L500.61 934.6L500.97 927.8L501.32 933.1L501.68 934.1L502.03 931.2L502.39 945.3L502.75 937.3L503.1 926.5L503.46 962.8L503.81 935.8L504.17 926.2L504.53 952.6L504.88 951.9L505.24 933L505.59 930.3L505.95 934L506.31 951.3L506.66 939.5L507.02 935.3L507.37 941.6L507.73 951.6L508.08 930.3L508.44 938.5L508.8 930.2L509.15 962.7L509.51 956.2L509.86 949L510.22 940.1L510.58 946.5L510.93 923.7L511.29 943.1L511.64 923.2L512 929.8L512.36 934.8L512.71 937.6L513.07 945.1L513.42 946L513.78 942.3L514.14 932.2L514.49 945.5L514.85 938.8L515.2 949.4L515.56 931.9L515.92 917.8L516.27 935.2L516.63 956.9L516.98 942.8L517.34 937.1L517.69 945.9L518.05 942.6L518.41 942L518.76 933.7L519.12 938.4L519.47 939.2L519.83 931.9L520.19 927.7L520.54 938L520.9 944.8L521.25 941.9L521.61 940.4L521.97 940.2L522.32 957.7L522.68 937.7L523.03 944.1L523.39 951.7L523.75 935.2L524.1 936.8L524.46 943.2L524.81 948.5L525.17 936.5L525.53 936.6L525.88 934L526.24 922.5L526.59 942.3L526.95 930.1L527.31 909.3L527.66 930.3L528.02 916.1L528.37 922L528.73 930.6L529.08 921.9L529.44 939L529.8 916.1L530.15 930.9L530.51 933L530.86 940.6L531.22 935.3L531.58 928.5L531.93 926.6L532.29 924.8L532.64 935.1L533 918.2L533.36 928.3L533.71 922L534.07 924.5L534.42 919.2L534.78 940.7L535.14 914.1L535.49 921.8L535.85 921.3L536.2 923.7L536.56 921.4L536.92 920.3L537.27 924.8L537.63 900L537.98 913.6L538.34 900.5L538.69 913.8L539.05 898.9L539.41 900L539.76 907.8L540.12 921.3L540.47 912.1L540.83 908.1L541.19 918.2L541.54 893L541.9 879.9L542.25 895.8L542.61 896L542.97 910.6L543.32 918.9L543.68 880.5L544.03 920L544.39 908.8L544.75 899.5L545.1 892.8L545.46 914.2L545.81 887.2L546.17 878.8L546.53 884L546.88 865.1L547.24 884.4L547.59 875.9L547.95 879.1L548.31 877.5L548.66 858.6L549.02 884.9L549.37 854.4L549.73 875.3L550.08 842L550.44 863.8L550.8 846L551.15 854.3L551.51 842.5L551.86 820.2L552.22 830.8L552.58 843.9L552.93 848.8L553.29 820.8L553.64 820.7L554 821L554.36 826.9L554.71 818.2L555.07 819.3L555.42 834.2L555.78 833.3L556.14 828.9L556.49 819.7L556.85 819.9" stroke="#ff0000" stroke-width="5.8"/>
<path class="c" d="M223.98 976.9L225.04 976.9L226.1 976.6L227.16 976.4L228.22 976.7L229.28 976.7L230.34 977L231.4 976.7L232.46 976.7L233.52 977L234.58 976.7L235.64 976.8L236.69 977.3L237.75 977.2L238.81 977L239.87 977L240.93 976.7L241.99 977.1L243.05 977L244.11 977L245.17 976.8L246.23 977L247.29 977L248.35 977.1L249.41 977.4L250.47 977.1L251.53 976.6L252.58 976.8L253.64 976.7L254.7 976.9L255.76 977.3L256.82 977.2L257.88 977L258.94 977.2L260 977L261.06 976.8L262.12 976.9L263.18 977L264.24 977.6L265.3 976.9L266.36 977.6L267.42 977.6L268.47 977.3L269.53 977.3L270.59 977.2L271.65 977.3L272.71 977.5L273.77 977.4L274.83 977.6L275.89 977.7L276.95 977.5L278.01 977.5L279.07 977.4L280.13 977.5L281.19 977.2L282.25 977.6L283.31 977.6L284.36 977.3L285.42 978.1L286.48 977.3L287.54 977.3L288.6 977.6L289.66 977.1L290.72 977.4L291.78 977.2L292.84 977.4L293.9 977.6L294.96 977.7L296.02 978L297.08 977.9L298.14 978L299.19 977.9L300.25 977.6L301.31 978L302.37 977.6L303.43 977.6L304.49 978.2L305.55 978L306.61 977.9L307.67 978L308.73 978.1L309.79 977.5L310.85 977.9L311.91 977.6L312.97 977.9L314.03 977.8L315.08 978.3L316.14 978.1L317.2 977.8L318.26 978L319.32 977.7L320.38 978L321.44 978.2L322.5 978.1L323.56 977.6L324.62 978L325.68 978.2L326.74 978.2L327.8 978.4L328.86 977.8L329.92 978.3L330.97 978L332.03 978.2L333.09 978.3L334.15 978.4L335.21 978.1L336.27 978.3L337.33 978L338.39 977.9L339.45 978.4L340.51 978.3L341.57 977.9L342.63 978.1L343.69 978.3L344.75 978.7L345.81 978.6L346.86 978.6L347.92 978L348.98 978.4L350.04 978.5L351.1 978.5L352.16 978.6L353.22 978.4L354.28 978.9L355.34 978.9L356.4 978.5L357.46 978.3L358.52 979.1L359.58 978.4L360.64 978.9L361.69 979.1L362.75 978.4L363.81 978.7L364.87 978.5L365.93 978.8L366.99 978.7L368.05 979.2L369.11 978.8L370.17 978.7L371.23 979L372.29 978.7L373.35 978.6L374.41 979.3L375.47 978.6L376.53 978.7L377.58 978.8L378.64 978.5L379.7 978.3L380.76 979.1L381.82 978.7L382.88 978.7L383.94 978.8L385 978.6L386.06 978.6L387.12 978.9L388.18 979.5L389.24 979.1L390.3 979.1L391.36 978.5L392.42 978.9L393.47 978.6L394.53 979.1L395.59 978.9L396.65 978.9L397.71 978.9L398.77 978.8L399.83 978.6L400.89 979.1L401.95 978.6L403.01 978.7L404.07 978.9L405.13 978.8L406.19 979.1L407.25 979.3L408.31 979.1L409.36 979.1L410.42 979L411.48 979.2L412.54 978.6L413.6 979.1L414.66 978.8L415.72 978.7L416.78 979.1L417.84 979L418.9 979.2L419.96 979.3L421.02 978.5L422.08 979.1L423.14 979.6L424.19 979.3L425.25 979.5L426.31 979.1L427.37 978.8L428.43 978.8L429.49 979.3L430.55 979.4L431.61 978.9L432.67 979.1L433.73 979.2L434.79 978.7L435.85 979.1L436.91 979.6L437.97 979.7L439.03 979.1L440.08 979.6L441.14 979L442.2 979L443.26 978.6L444.32 979.4L445.38 979.1L446.44 979.8L447.5 979.3L448.56 979.2L449.62 978.7L450.68 979.6L451.74 979.1L452.8 979.2L453.86 978.7L454.92 979.4L455.97 979.5L457.03 979.1L458.09 979.2L459.15 979.3L460.21 979.5L461.27 979.3L462.33 979.7L463.39 979.2L464.45 979.1L465.51 979.1L466.57 978.6L467.63 979L468.69 979.5L469.75 979.3L470.81 979L471.86 979.3L472.92 978.7L473.98 979.2L475.04 979.4L476.1 979.4L477.16 979L478.22 979.5L479.28 979.7L480.34 979.1L481.4 979.4L482.46 978.8L483.52 978.7L484.58 979.4L485.64 979.2L486.69 979.2L487.75 979L488.81 979.1L489.87 979.4L490.93 979.6L491.99 979.1L493.05 978.7L494.11 979.5L495.17 979.3L496.23 979.3L497.29 979.1L498.35 979.7L499.41 979.1L500.47 979.2L501.53 978.6L502.58 978.9L503.64 978.8L504.7 979L505.76 979.1L506.82 978.8L507.88 979.4L508.94 978.6L510 978.8L511.06 978.9L512.12 978.5L513.18 978.9L514.24 978.9L515.3 978.7L516.36 979.2L517.42 978.7L518.47 978.7L519.53 978.3L520.59 978.1L521.65 978.3L522.71 978.3L523.77 978.2L524.83 978.5L525.89 977.6L526.95 977.9L528.01 977.6L529.07 978.3L530.13 977.8L531.19 977.7L532.25 977.4L533.31 977.8L534.36 977.4L535.42 977.4L536.48 976.7L537.54 977.3L538.6 977L539.66 976.8L540.72 976.8L541.78 976.2L542.84 976L543.9 976L544.96 975.6L546.02 975.1L547.08 974.8L548.14 974.3L549.19 974.2L550.25 973.7L551.31 973L552.37 972.8L553.43 971.2L554.49 970.8L555.55 970.3L556.61 968.7L556.95 968L557.29 968.3L557.63 967.7L557.67 967.2L557.97 967.3L558.31 966.3L558.64 965.7L558.73 965.8L558.98 965.3L559.32 964.6L559.66 964.1L559.79 963.6L560 963.5L560.34 962.6L560.68 962L560.85 961.2L561.02 960.5L561.36 959.5L561.69 958.7L561.91 958.4L562.03 957.7L562.37 956L562.71 955L562.97 953.3L563.05 953.4L563.39 951.3L563.73 949.7L564.03 947.8L564.07 947.3L564.41 945.1L564.75 942.2L565.08 939.7L565.42 937L565.76 934.5L566.1 930.1L566.14 929.5L566.44 925.8L566.78 922.1L567.12 917L567.2 916L567.46 912.7L567.8 907.1L568.14 902.3L568.26 900L568.47 895.9L568.81 889.7L569.15 882.9L569.32 879.5L569.49 876.5L569.83 869.3L570.17 861.7L570.38 856.8L570.51 853.6L570.85 845.8L571.19 837.1L571.44 831.2L571.53 829.4L571.86 820.8L572.2 811.8L572.5 804.4L572.54 803.8L572.88 795.5L573.22 786.6L573.56 779.1L573.9 771.9L574.24 765.5L574.58 759L574.62 758.7L574.92 754.1L575.25 750.7L575.59 747.2L575.68 746.5L575.93 745.1L576.27 744.9L576.61 745.4L576.74 745.5L576.95 747.1L577.29 749.7L577.63 754L577.8 756.3L577.97 758.9L578.31 765L578.64 771.7L578.86 776.5L578.98 779.4L579.32 786.9L579.66 794.9L579.92 801.6L580 803L580.34 811.5L580.68 820.8L580.97 828.2L581.02 829.4L581.36 837.5L581.69 845.5L582.03 853.8L582.37 861.9L582.71 869.1L583.05 876.3L583.09 877L583.39 883.1L583.73 890.2L584.07 896.3L584.15 897.4L584.41 901.8L584.75 907.4L585.08 912.9L585.21 914.3L585.42 917.5L585.76 921.5L586.1 925.9L586.27 928.3L586.44 930.3L586.78 933.4L587.12 936.8L587.33 939.1L587.46 939.9L587.8 942.6L588.14 945.4L588.39 947.1L588.47 947.9L588.81 949.9L589.15 951.5L589.45 953.1L589.49 953.4L589.83 954.7L590.17 956.2L590.51 958L590.85 958.6L591.19 960.4L591.53 961.2L591.57 961.2L591.86 962.2L592.2 963.1L592.54 964L592.63 963.8L592.88 964.4L593.22 965.1L593.56 966.3L593.69 966.2L593.9 966.1L594.24 966.8L594.58 967.2L594.75 967.7L594.92 967.9L595.25 968.9L595.59 968.3L595.81 969.3L595.93 969.3L596.86 970L597.92 971.1L598.98 971.8L600.04 972.7L601.1 973.6L602.16 973.6L603.22 974.8L604.28 974.8L605.34 975.7L606.4 975.8L607.46 976.4L608.52 976.5L609.58 976.9L610.64 976.9L611.69 976.9L612.75 977.5L613.81 977.8L614.87 978.3L615.93 977.4L616.99 978.1L618.05 978.5L619.11 978.1L620.17 978.5L621.23 979.2L622.29 979.1L623.35 978.7L624.41 979.3L625.47 979.4L626.53 979.4L627.58 979.4L628.64 979.4L629.7 979.2L630.76 979.4L631.82 979.8L632.88 979.7L633.94 980.2L635 979.7L636.06 979.2L637.12 979.8L638.18 980L639.24 980.1L640.3 980L641.36 979.9L642.42 980.5L643.47 980L644.53 980.4L645.59 980.2L646.65 980L647.71 980.7L648.77 979.7L649.83 980.2L650.89 980.5L651.95 980.3L653.01 980.7L654.07 980.5L655.13 980.4L656.19 981.1L657.25 980.5L658.31 980.6L659.36 980.3L660.42 980.5L661.48 980.8L662.54 980.8L663.6 980.7L664.66 980.5L665.72 980.9L666.78 980.3L667.84 980.7L668.9 980.7L669.96 980.6L671.02 980.9L672.08 980.7L673.14 980.7L674.19 981.3L675.25 981.1L676.31 981.2L677.37 980.9L678.43 981.2L679.49 981.2L680.55 981.3L681.61 981.6L682.67 980.9L683.73 981.1L684.79 981L685.85 980.2L686.91 980.7L687.97 981.1L689.03 981.2L690.08 980.9L691.14 981.4L692.2 981.4L693.26 981L694.32 981.5L695.38 981.6L696.44 981.3L697.5 980.9L698.56 981.5L699.62 981.1L700.68 981.1L701.74 981.2L702.8 981.1L703.86 981.5L704.92 981.4L705.97 981.5L707.03 981.4L708.09 981.1L709.15 981.2L710.21 981.5L711.27 981.2L712.33 982L713.39 981.2L714.45 981.2L715.51 981.6L716.57 981.5L717.63 981.3L718.69 981.3L719.75 981.5L720.81 981.6L721.86 981.6L722.92 981.3L723.98 981.5L725.04 981.6L726.1 981.6L727.16 980.6L728.22 981.2L729.28 981.2L730.34 981.4L731.4 981.5L732.46 981.7L733.52 981.6L734.58 981.4L735.64 981.5L736.69 981.9L737.75 981.3L738.81 981.6L739.87 981.9L740.93 981.6L741.99 981L743.05 981.6L744.11 981.4L745.17 981.5L746.23 981.8L747.29 981.6L748.35 981.5L749.41 981.8L750.47 981.6L751.53 981.6L752.58 981.6L753.64 981.6L754.7 981.5L755.76 981.4L756.82 981.6L757.88 981.3L758.94 981.3L760 981.9L761.06 981.5L762.12 981.6L763.18 981.6L764.24 981.6L765.3 981.6L766.36 981.6L767.42 981.4L768.47 981.8L769.53 981.4L770.59 981.9L771.65 981.1L772.71 981.4L773.77 981.9L774.83 981.6L775.89 981.5L776.95 981.7L778.01 981.4L779.07 981.6L780.13 981.1L781.19 981.5L782.25 981.5L783.31 981.8L784.36 981.9L785.42 981.4L786.48 982L787.54 981.5L788.6 981.1L789.66 981L790.72 982L791.78 981.6L792.84 981.5L793.9 981.4L794.96 981.3L796.02 982L797.08 981.6L798.14 982.1L799.19 981.6L800.25 981L801.31 981.8L802.37 981.5L803.43 981.5L804.49 982L805.55 981.5L806.61 981.8L807.67 981.5L808.73 981.3L809.79 981.6L810.85 981.3L811.91 981.8L812.97 981.7L814.03 981.4L815.08 981.6L816.14 981.5L817.2 981.3L818.26 981.5L819.32 981.2L820.38 981.4L821.44 981L822.5 981.2L823.56 981.2L824.62 980.8L825.68 980.8L826.74 980.7L827.8 980.8L828.86 980.2L829.92 980.3L830.97 980.2L832.03 979.4L833.09 978.3L834.15 978L835.21 977.4L836.27 976L837.33 975.2L838.39 973.8L839.45 972.3L840.51 970.8L841.36 969.7L841.57 969.5L841.69 969.4L842.03 969.2L842.37 968.8L842.63 968.4L842.71 968.4L843.05 968.2L843.39 967.4L843.69 967.4L843.73 967.4L844.07 967.4L844.41 967.2L844.75 967.1L845.08 966.9L845.42 967.2L845.76 967.1L845.81 966.7L846.1 967.1L846.44 966.9L846.78 967.8L846.86 967.3L847.12 967.4L847.46 967.7L847.8 967.8L847.92 967.9L848.14 968.4L848.47 968.3L848.81 968.7L848.98 968.9L849.15 968.5L849.49 969.4L849.83 969.4L850.04 969.6L850.17 969.2L850.51 969.8L850.85 969.9L851.1 969.8L851.19 970.5L851.53 970.2L851.86 970.1L852.16 970.3L852.2 970.5L852.54 970.6L852.88 970.5L853.22 970.6L853.56 970.6L853.9 969.8L854.24 969.9L854.28 969.7L854.58 969.8L854.92 969.9L855.25 969.4L855.34 968.9L855.59 968.9L855.93 968.8L856.27 968L856.4 968L856.61 967.8L856.95 966.7L857.29 966.8L857.46 966.4L857.63 966.1L857.97 965.1L858.31 964.5L858.52 964.1L858.64 964L858.98 963.2L859.32 962.4L859.58 962.2L859.66 961.9L860 960.5L860.34 959.6L860.64 959.4L860.68 958.8L861.02 958.3L861.36 957.4L861.69 956L862.03 955.1L862.37 954.2L862.71 953.1L862.75 952.9L863.05 952.3L863.39 951.7L863.73 950.6L863.81 950.4L864.07 949.8L864.41 948.8L864.75 948.8L864.87 947.6L865.08 947.6L865.42 947.4L865.76 946.4L865.93 946.7L866.1 946.7L866.44 945.9L866.78 945.9L866.99 945.5L867.12 945.9L867.46 945.7L867.8 945.8L868.05 946.2L868.14 946L868.47 946.5L868.81 946.6L869.11 946.5L869.15 946.9L869.49 947.4L869.83 947.4L870.17 948.6L870.51 948.9L870.85 949.6L871.19 949.9L871.23 950.2L871.53 950.9L871.86 951.4L872.2 952.1L872.29 951.7L872.54 953.1L872.88 953.1L873.22 953.4L873.35 953.9L873.56 954.3L873.9 955.2L874.24 955.4L874.41 955.9L874.58 955.9L874.92 957.1L875.25 957.1L875.47 957.7L875.59 957.1L875.93 957.9L876.27 957.8L876.53 958.4L876.61 958.5L876.95 958.2L877.29 958.6L877.58 958.8L877.63 958.7L877.97 959.1L878.31 959.2L878.64 959.3L878.98 959.8L879.32 960.1L879.66 959.8L879.7 960L880 960.3L880.34 960.5L880.68 960.6L880.76 961L881.02 961.2L881.36 961.4L881.69 961.5L881.82 962.2L882.03 962.4L882.37 962.2L882.71 962.7L882.88 963.2L883.05 963L883.39 963.8L883.73 964.2L883.94 964.4L884.07 964.7L884.41 964.9L884.75 965.8L885 965.8L885.08 967.1L885.42 967.5L885.76 968L886.06 968.4L886.1 968.6L886.44 969.3L886.78 969.9L887.12 970.5L887.46 970.6L887.8 971.5L888.14 971.9L888.18 971.8L888.47 972.3L888.81 973.2L889.15 973.9L889.24 973.5L889.49 974.6L889.83 975L890.17 975L890.3 975.2L890.51 975.6L890.85 976.3L891.19 976.3L891.36 976.3L891.53 976.9L891.86 976.6L892.2 977.5L892.42 978L892.54 977.9L892.88 978.3L893.47 978.7L894.53 979.4L895.59 979.8L896.65 979.9L897.71 980.4L898.77 980.7L899.83 981.2L900.89 981.4L901.95 981.2L903.01 981.1L904.07 981.2L905.13 981.4L906.19 981.8L907.25 981.6L908.31 981.6L909.36 981.5L910.42 981.9L911.48 981.8L912.54 981.8L913.6 981.9L914.66 982.3L915.72 981.9L916.78 982.4L917.84 982.3L918.9 982L919.96 982.3L921.02 982L922.08 981.9L923.14 982L924.19 981.9L925.25 982.3L926.31 982.2L927.37 982.3L928.43 982.4L929.49 981.5L930.55 982.3L931.61 981.8L932.67 982.3L933.73 982.1L934.79 982.3L935.85 982.7L936.91 981.9L937.97 982.4L939.03 982.4L940.08 981.9L941.14 982.6L942.2 982.4L943.26 982.3L944.32 982.3L945.38 983.2L946.44 982.4L947.5 982L948.56 982.2L949.62 982.4L950.68 982.4L951.74 982.5L952.8 982.3L953.86 982.7L954.92 982.4L955.97 982.2L957.03 982.3L958.09 982.5L959.15 982.8L960.21 982.7L961.27 982.5L962.33 982.6L963.39 982.7L964.45 983.1L965.51 982.5L966.57 982.7L967.63 982.8L968.69 982.4L969.75 982.7L970.81 982.7L971.86 982.5L972.92 982.8L973.98 982.9L975.04 983L976.1 982.6L977.16 982.7L978.22 983.3L979.28 982.4L980.34 982.8L981.4 982.9L982.46 982.8L983.52 982.9L984.58 982.8L985.64 982.9L986.69 983.1L987.75 982.7L988.81 982.8L989.87 982.7L990.93 982.7L991.99 982.8L993.05 982.5L994.11 983L995.17 983.2L996.23 983.2L997.29 983.1L998.35 982.6L999.41 983.2L1000.47 982.6L1001.53 982.8L1002.58 983.3L1003.64 982.5L1004.7 983L1005.76 982.9L1006.82 982.8L1007.88 982.6L1008.94 982.9L1010 982.7L1011.06 983.1L1012.12 983.1L1013.18 982.5L1014.24 982.7L1015.3 982.8L1016.36 982.6L1017.42 982.6L1018.47 982.9L1019.53 982.8L1020.59 982.4L1021.65 982.7L1022.71 983L1023.77 982.6L1024.83 982.6L1025.89 983.3L1026.95 983.2L1028.01 982.4L1029.07 982.5L1030.13 982.9L1031.19 982.6L1032.25 982.8L1033.31 982.7L1034.36 983L1035.42 982.2L1036.48 982.3L1037.54 982.5L1038.6 983.1L1039.66 982.8L1040.72 982.4L1041.78 982.9L1042.84 983L1043.9 982.7L1044.96 982.7L1046.02 982.9L1047.08 983.1L1048.14 982.8L1049.19 982.9L1050.25 982.7L1051.31 982.6L1052.37 982.5L1053.43 982.8L1054.49 982.6L1055.55 982.6L1056.61 982.9L1057.67 982.7L1058.73 982.8L1059.79 982.2L1060.85 982.7L1061.91 982.3L1062.97 982.2L1064.03 982.2L1065.08 982.7L1066.14 982.5L1067.2 982.1L1068.26 981.9L1069.32 982.1L1070.38 981.9L1071.44 982.4L1072.5 981.5L1073.56 981.3L1074.62 981.6L1075.68 981.5L1076.74 981.4L1077.8 981.4L1078.86 981.5L1079.58 980.7L1079.92 980.6L1080.25 980.2L1080.59 980.6L1080.93 980.7L1080.97 980.4L1081.27 980.7L1081.61 980.3L1081.95 980.5L1082.03 980.2L1082.29 979.8L1082.63 979.7L1082.97 979.4L1083.09 979.2L1083.31 979.6L1083.64 979.6L1083.98 979.7L1084.15 979.1L1084.32 978.9L1084.66 978.5L1085 978.8L1085.21 978.4L1085.34 978.1L1085.68 978.1L1086.02 977.7L1086.27 976.8L1086.36 977.4L1086.69 976.8L1087.03 976.3L1087.33 975.8L1087.37 976.3L1087.71 975.7L1088.05 975.2L1088.39 973.8L1088.73 973.2L1089.07 972.9L1089.41 971.5L1089.45 971.5L1089.75 970.4L1090.08 970.4L1090.42 969.1L1090.51 968.7L1090.76 967.8L1091.1 966.4L1091.44 965.2L1091.57 964.9L1091.78 963.7L1092.12 962.8L1092.46 960.8L1092.63 959.9L1092.8 959.6L1093.14 957.6L1093.47 956L1093.69 954.6L1093.81 953.5L1094.15 952.3L1094.49 949.8L1094.75 948.9L1094.83 947.8L1095.17 945.6L1095.51 944.1L1095.81 942.3L1095.85 942L1096.19 939.6L1096.53 938L1096.86 935.4L1097.2 933.7L1097.54 931.7L1097.88 930L1097.92 930.1L1098.22 928.3L1098.56 927L1098.9 925.7L1098.98 924.8L1099.24 924.2L1099.58 923.4L1099.92 922.7L1100.04 922.8L1100.25 922L1100.59 922.5L1100.93 922.7L1101.1 922.6L1101.27 922.5L1101.61 923.5L1101.95 924.3L1102.16 925.3L1102.29 925.6L1102.63 927.1L1102.97 928.3L1103.22 930L1103.31 929.5L1103.64 931.6L1103.98 933.9L1104.28 935.1L1104.32 935.9L1104.66 937.5L1105 939.9L1105.34 941.7L1105.68 943.9L1106.02 946.2L1106.36 948.1L1106.4 948.3L1106.69 950.7L1107.03 952.1L1107.37 953.8L1107.46 954.7L1107.71 956.1L1108.05 957.9L1108.39 959.8L1108.52 959.7L1108.73 961.2L1109.07 962.8L1109.41 963.9L1109.58 964.7L1109.75 964.5L1110.08 966.4L1110.42 968.2L1110.64 968.1L1110.76 968.8L1111.1 970L1111.44 971.1L1111.69 972L1111.78 971.4L1112.12 972.7L1112.46 973.6L1112.75 973.7L1112.8 974.1L1113.14 975.3L1113.47 975.7L1113.81 976L1114.15 975.7L1114.49 976.8L1114.83 977.4L1114.87 977.2L1115.17 977.6L1115.51 978.7L1115.85 978.2L1115.93 978.1L1116.19 978.6L1116.53 978.7L1116.86 979L1116.99 979.1L1117.2 979.5L1117.54 979.5L1117.88 979.3L1118.05 979.7L1118.22 979.9L1118.56 979.8L1118.9 980.4L1119.11 980.4L1119.24 980L1119.58 980.4L1119.92 980.9L1120.17 980.9L1120.25 980.5L1120.59 980.9L1120.93 980.6L1121.23 980.5L1121.27 981L1122.29 981.1L1123.35 981.4L1124.41 981.4L1125.47 981.7L1126.53 981.6L1127.58 982L1128.64 982.2L1129.7 982L1130.76 982.3L1131.82 981.8L1132.88 982.1L1133.94 982.7L1135 982.9L1136.06 982.5L1137.12 982.5L1138.18 982.3L1139.24 982.7L1140.3 982.9L1141.36 982.3L1142.42 982.9L1143.47 982.9L1144.53 982.9L1145.59 982.5L1146.65 983L1147.71 982.5L1148.77 983.3L1149.83 982.9L1150.89 982.6L1151.95 983.3L1153.01 983.2L1154.07 982.8L1155.13 983.5L1156.19 982.7L1157.25 983.1L1158.31 983.3L1159.36 982.5L1160.42 983.3L1161.48 983L1162.54 983L1163.6 982.8L1164.66 983.1L1165.72 982.8L1166.78 982.8L1167.84 983L1168.9 982.8L1169.96 983.5L1171.02 982.8L1172.08 982.9L1173.14 983L1174.19 983.1L1175.25 983.3L1176.31 983.3L1177.37 983L1178.43 983L1179.49 983.1L1180.55 983.3L1181.61 983.2L1182.67 982.9L1183.73 982.5L1184.79 983.6L1185.85 983.3L1186.91 983.1L1187.97 983.1L1189.03 982.9L1190.08 982.7L1191.14 982.9L1192.2 982.9L1193.26 982.8L1194.32 982.6L1195.38 982.8L1196.44 983L1197.5 982.7L1198.56 982.8L1199.62 982.3L1200.68 982.7L1201.74 982.7L1202.8 982.4L1203.86 982.2L1204.92 982.7L1205.97 982.3L1207.03 982.6L1208.09 982.3L1209.15 982.5L1210.21 982.2L1211.27 981.8L1212.33 982L1213.39 981.9L1214.45 981.9L1215.51 981.5L1216.57 981.3L1217.63 981.3L1218.69 981L1219.75 980.4L1220.81 979.9L1221.86 979.1L1222.92 978.3L1223.98 977.3L1225.04 975.9L1226.1 974.4L1227.16 972.8L1228.22 971.5L1229.28 968.9L1230.34 966.7L1231.4 964.4L1232.46 962.2L1233.52 960.1L1234.58 957.8L1235.64 955.9L1236.69 955.2L1237.75 954.1L1237.97 954.5L1238.31 954.5L1238.64 954.8L1238.81 954.9L1238.98 954.7L1239.32 954.6L1239.66 954.6L1239.87 954.9L1240 955.2L1240.34 955L1240.68 955.9L1240.93 956.2L1241.02 956.5L1241.36 956.7L1241.69 957.3L1241.99 957.5L1242.03 957.7L1242.37 957.9L1242.71 958.9L1243.05 959.8L1243.39 960.1L1243.73 960.7L1244.07 961L1244.11 961.6L1244.41 961.6L1244.75 962.6L1245.08 963L1245.17 962.8L1245.42 963.7L1245.76 964L1246.1 964.6L1246.23 964.8L1246.44 965L1246.78 965.3L1247.12 966L1247.29 965.9L1247.46 966.3L1247.8 966.4L1248.14 966.5L1248.35 966.9L1248.47 967L1248.81 967.3L1249.15 967.8L1249.41 967.2L1249.49 967.6L1249.83 967.1L1250.17 967.4L1250.47 967.5L1250.51 967.1L1250.85 967.1L1251.19 967.4L1251.53 967.2L1251.86 966.9L1252.2 966.4L1252.54 966.7L1252.58 966.1L1252.88 965.6L1253.22 965.7L1253.56 964.9L1253.64 964.5L1253.9 964.5L1254.24 963.6L1254.58 963L1254.7 962.7L1254.92 961.9L1255.25 961.6L1255.59 960.7L1255.76 960L1255.93 959.6L1256.27 959.2L1256.61 958L1256.82 957.6L1256.95 957.4L1257.29 956.4L1257.63 955.1L1257.88 955L1257.97 954.8L1258.31 954L1258.64 953.3L1258.94 952.3L1258.98 952.3L1259.32 951.7L1259.66 950.6L1260 950.4L1260.34 949.9L1260.68 949.1L1261.02 949L1261.06 948.7L1261.36 948L1261.69 948.3L1262.03 947.9L1262.12 948L1262.37 947.9L1262.71 948.3L1263.05 948.3L1263.18 948.1L1263.39 948.6L1263.73 949.1L1264.07 949.2L1264.24 949.6L1264.41 949.9L1264.75 950.5L1265.08 951.5L1265.3 952.2L1265.42 952.7L1265.76 953.4L1266.1 954.3L1266.36 955.1L1266.44 955.4L1266.78 955.9L1267.12 957.2L1267.42 958L1267.46 958.1L1267.8 959L1268.14 960L1268.47 961.1L1268.81 961.9L1269.15 963.4L1269.49 964.3L1269.53 964.4L1269.83 965.3L1270.17 966.4L1270.51 967L1270.59 967.4L1270.85 967.7L1271.19 968.4L1271.53 969.3L1271.65 970.5L1271.86 970.1L1272.2 971.5L1272.54 972.5L1272.71 972.4L1272.88 973.2L1273.22 973.9L1273.56 974.4L1273.77 975.1L1273.9 974.9L1274.24 975.1L1274.58 975.9L1274.83 976.1L1274.92 976L1275.25 976.4L1275.59 977.8L1275.89 977.4L1275.93 977.6L1276.27 977.8L1276.61 978.4L1276.95 978.6L1277.29 978.9L1277.63 978.9L1277.97 979.1L1278.01 979.3L1278.31 979.8L1278.64 980.5L1278.98 980.4L1279.07 980.7L1279.32 980.5L1279.66 980.5L1280 980.3L1280.13 980.7L1280.34 980.3L1280.68 980.9L1281.02 981.5L1281.19 981.2L1281.36 981.5L1281.69 981.2L1282.03 981L1282.25 981.3L1282.37 981.4L1282.71 981.9L1283.05 982.1L1283.31 981.5L1283.39 981.6L1283.73 981.8L1284.07 981.8L1284.36 981.6L1284.41 981.9L1284.75 982.1L1285.08 982.1L1285.42 981.8L1285.76 982.1L1286.1 981.7L1286.44 982.4L1286.48 982L1287.54 982.3L1288.6 982.3L1289.66 982.4L1290.72 982.4L1291.78 982.3L1292.84 983.2L1293.9 982.9L1294.96 983L1296.02 983.5L1297.08 983L1298.14 983.2L1299.19 983.1L1300.25 983.4L1301.31 983.3L1302.37 983.3L1303.43 983.2L1304.49 983.3L1305.55 983.6L1306.61 982.8L1307.67 983.3L1308.73 983.3L1309.79 983.3L1310.85 982.9L1311.91 983.6L1312.97 983.2L1314.03 983.4L1315.08 983.4L1316.14 983.1L1317.2 983.4L1318.26 983.1L1319.32 983.3L1320.38 983.5L1321.44 983.6L1322.5 983.6L1323.56 983.6L1324.62 984.1L1325.68 983.7L1326.74 983.3L1327.8 983.5L1328.86 983.5L1329.92 983.6L1330.97 983.5L1332.03 983.5L1333.09 984.1L1334.15 983.7L1335.21 983.6L1336.27 983.6L1337.33 983.6L1338.39 984.1L1339.45 983.8L1340.51 984L1341.57 982.9L1342.63 983.8L1343.69 984L1344.75 984.2L1345.81 983.8L1346.86 983.3L1347.92 983.9L1348.98 983.6L1350.04 983.3L1351.1 983.6L1352.16 984L1353.22 984.1L1354.28 983.9L1355.34 983.5L1356.4 984.4L1357.46 983.5L1358.52 983.8L1359.58 983.4L1360.64 984.1L1361.69 983.9L1362.75 984L1363.81 983.8L1364.87 983.8L1365.93 983.8L1366.99 983.3L1368.05 984L1369.11 984L1370.17 983.7L1371.23 983.8L1372.29 983.8L1373.35 984.1L1374.41 983.8L1375.47 983.7L1376.53 983.6L1377.58 983.3L1378.64 983.6L1379.7 983.7L1380.76 983.6L1381.82 983.7L1382.88 983.9L1383.94 983.8L1385 983.7L1386.06 983.8L1387.12 983.7L1388.18 983.6L1389.24 983.7L1390.3 983.1L1391.36 983.8L1392.42 983.2L1393.47 983.7L1394.53 983.4L1395.59 983.6L1396.65 983.3L1397.71 983L1398.77 983.4L1399.83 983.1L1400.89 983L1401.95 982.9L1403.01 982.9L1404.07 982.7L1405.13 982.4L1406.19 981.7L1407.25 981.7L1408.31 981.6L1409.36 981.7L1410.42 980.9L1411.48 980.4L1412.54 980.3L1413.6 979.5L1414.66 979L1415.72 978.4L1416.78 977.4L1417.84 977.4L1418.9 976.5L1419.96 975.6L1421.02 974.6L1422.08 974.2L1423.14 973.6L1424.19 972.2L1425.25 971.2L1426.31 970.6L1427.37 969.1L1428.43 967.9L1429.49 967.2L1430.55 966L1431.61 964.9L1432.67 963.7L1433.73 962.8L1434.79 961.6L1435.85 960.7L1436.91 960.1L1437.97 960L1439.03 960.1L1440.08 960.5L1441.14 961.3L1442.2 961.4L1443.26 963.3L1444.32 965.1L1445.38 966.9L1446.44 968.2L1447.5 970.6L1448.56 972L1449.62 973.3L1450.68 974.9L1451.74 976.1L1452.8 977.2L1453.86 978.5L1454.92 979.2L1455.97 979.7L1457.03 980.5L1458.09 981.2L1459.15 981.3L1460.21 982.3L1461.27 982L1462.33 982.9L1463.39 982.9L1464.45 982.6L1465.51 983L1466.57 983.4L1467.63 983.2L1468.69 983L1469.75 983.4L1470.81 983.9L1471.86 983.1L1472.92 983.7L1473.98 983.6L1475.04 983.6L1476.1 983.6L1477.16 983.6L1478.22 984L1479.28 983.9L1480.34 983.5L1481.4 984.2L1482.46 983.5L1483.52 984L1484.58 983.9L1485.64 984.2L1486.69 984L1487.75 984.2L1488.81 984L1489.87 984.2L1490.93 984.1L1491.99 984.5L1493.05 983.8L1494.11 984.3L1495.17 984.2L1496.23 984.1L1497.29 983.9L1498.35 984.2L1499.41 983.7L1500.47 983.7L1501.53 984.3L1502.58 983.7L1503.64 984.5L1504.7 984L1505.76 984.2L1506.82 984.1L1507.88 984.2L1508.94 984.1L1510 984L1511.06 984.1L1512.12 984.4L1513.18 984.4L1514.24 984.5L1515.3 984.2L1516.36 984.1L1517.42 983.7L1518.47 984.3L1519.53 984.4L1520.59 984L1521.65 984.3L1522.71 984.5L1523.77 984.2L1524.83 984.4L1525.89 984.2L1526.95 983.7L1528.01 984L1529.07 984L1530.13 984.2L1531.19 983.9L1532.25 984L1533.31 983.9L1534.36 984.1L1535.42 984.1L1536.48 984.3L1537.54 984.3L1538.6 984.1L1539.66 984.1L1540.72 984L1541.78 984L1542.84 984.4L1543.9 983.3L1544.96 983.9L1546.02 984L1547.08 984.1L1548.14 983.5L1549.19 983.9L1550.25 983.9L1551.31 983.5L1552.37 983.1L1553.43 983.4L1554.49 983.1L1555.55 983.4L1556.61 982.9L1557.67 983.4L1558.73 982.8L1559.79 982.4L1560.85 982.2L1561.91 981.8L1562.97 981.8L1564.03 981.8L1565.08 981L1566.14 980.9L1567.2 980L1568.26 979.9L1569.32 979.9L1570.38 978.5L1571.44 978.7L1572.5 978.2L1573.56 976.9L1574.62 976.6L1575.68 976.3L1576.74 976.4L1577.8 975.8L1578.86 975.6L1579.92 975.7L1580.97 975.6L1582.03 975.6L1583.09 975.7L1584.15 976.3L1585.21 976.1L1586.27 977L1587.33 976.9L1588.39 977.2L1589.45 977.9L1590.51 978.2L1591.57 978L1592.63 978.8L1593.69 978.7L1594.75 979L1595.81 979.6L1596.86 979.2L1597.92 979.5L1598.98 979.3L1600.04 979.7L1601.1 978.9L1602.16 978.3L1603.22 978L1604.28 977.6L1605.34 977.4L1606.4 976.8L1607.46 976.5L1608.52 975.8L1609.58 975.3L1610.64 974.9L1611.69 974.4L1612.75 974.3L1613.81 974.3L1614.87 974.3L1615.93 974.2L1616.99 974.2L1618.05 974.8L1619.11 975.6L1620.17 975.5L1621.23 976.6L1622.29 977.5L1623.35 977.9L1624.41 978.4L1625.47 979.8L1626.53 980.3L1627.58 980.4L1628.64 981.3L1629.7 981.7L1630.76 981.5L1631.82 982.8L1632.88 982.2L1633.94 982.7L1635 982.7L1636.06 983.2L1637.12 983L1638.18 983.4L1639.24 983.8L1640.3 983.7L1641.36 983.7L1642.42 984.2L1643.47 983.6L1644.53 984.1L1645.59 983.9L1646.65 984L1647.71 984L1648.77 984.1L1649.83 984L1650.89 983.9L1651.95 984L1653.01 984.2L1654.07 984.1L1655.13 983.8L1656.19 984L1657.25 984L1658.31 984.2L1659.36 984.2L1660.42 984.2L1661.48 984L1662.54 984.2L1663.6 983.9L1664.66 983.5L1665.72 984.2L1666.78 983.8L1667.84 984L1668.9 983.9L1669.96 984.4L1671.02 983.9L1672.08 984.3L1673.14 984.1L1674.19 983.9L1675.25 983.8L1676.31 984.3L1677.37 984.2L1678.43 984.3L1679.49 984.6L1680.55 984.2L1681.61 984.1L1682.67 984L1683.73 984L1684.79 983.9L1685.85 983.7L1686.91 984.4L1687.97 983.3L1689.03 983.8L1690.08 983.8L1691.14 983.6L1692.2 983.2L1693.26 983.3L1694.32 983.1L1695.38 982.8L1696.44 982.8L1697.5 982.5L1698.56 982.3L1699.62 982.4L1700.68 981.7L1701.74 981.7L1702.8 981.1L1703.86 981L1704.92 980.6L1705.97 980.2L1707.03 979.4L1708.09 979L1709.15 978.4L1710.21 978.1L1711.27 977.7L1712.33 977.1L1713.39 976.1L1714.45 975.6L1715.51 974.5L1716.57 973.7L1717.63 973.3L1718.69 972.7L1719.75 971.9L1720.81 971.2L1721.86 971.3L1722.92 970.5L1723.98 970L1725.04 970.8L1726.1 970.2L1727.16 970.2L1728.22 970.7L1729.28 970.7L1730.34 971.8L1731.4 971.6L1732.46 972.3L1733.52 973.2L1734.58 973.7L1735.64 974.8L1736.69 974.6L1737.75 975.4L1738.81 976.1L1739.87 976.6L1740.93 977L1741.99 977.2L1743.05 977.9L1744.11 977.5L1745.17 977.8L1746.23 978.2L1747.29 978.1L1748.35 978.3L1749.41 978.4L1750.47 978.7L1751.53 978.8L1752.58 979.3L1753.64 979.4L1754.7 980.2L1755.76 980.1L1756.82 981.3L1757.88 981.6L1758.94 981.8L1760 981.8L1761.06 982L1762.12 982.8L1763.18 982.8L1764.24 983.1L1765.3 983L1766.36 983.7L1767.42 983.4L1768.47 983.7L1769.53 983.4L1770.59 983.8L1771.65 984.2L1772.71 984L1773.77 984.1L1774.83 984.4L1775.89 984.3L1776.95 984.6L1778.01 983.8L1779.07 984.5L1780.13 984.5L1781.19 984.1L1782.25 984.1L1783.31 984.7L1784.36 984.2L1785.42 984.4L1786.48 984.7L1787.54 984.5L1788.6 984.7L1789.66 984.4L1790.72 984.7L1791.78 984.9L1792.84 984.7L1793.9 984.1L1794.96 984.8L1796.02 984.7L1797.08 984.4L1798.14 985L1799.19 984.2L1800.25 985.1L1801.31 984.5L1802.37 985.1L1803.43 984.7L1804.49 984.4L1805.55 984.7L1806.61 984.8L1807.67 984.9L1808.73 985L1809.79 984.5L1810.85 984.9L1811.91 984.9L1812.97 984.7L1814.03 984.5L1815.08 984.5L1816.14 985L1817.2 985L1818.26 984.6L1819.32 984.5L1820.38 985.1L1821.44 984.4L1822.5 984.8L1823.56 984.6L1824.62 984.4L1825.68 984.9L1826.74 984.8L1827.8 985.2L1828.86 985.4L1829.92 984.8L1830.97 985.1L1832.03 985.1L1833.09 984.7L1834.15 984.6L1835.21 985.3L1836.27 984.8" stroke="#ff0000" stroke-width="5.9"/>
<path class="c" d="M226.44 760L226.44 690" stroke="#0000cc" stroke-width="4.2"/>
<path class="c" d="M224.41 675.1L224.76 667.7L225.12 683.2L225.47 692.9L225.83 703.2L226.19 688.6L226.54 679.3L226.9 676.1L227.25 698.1L227.61 724.7L227.97 691.6L228.32 670.4L228.68 674.5L229.03 711.2L229.39 691.6L229.75 664.6L230.1 687.6L230.46 673.5L230.81 681.6L231.17 684.1L231.53 681.6L231.88 700L232.24 692.1L232.59 680.7L232.95 700.2L233.31 706.7L233.66 673.7L234.02 693.5L234.37 684.5L234.73 696.3L235.08 682.1L235.44 700.7L235.8 700.5L236.15 697.8L236.51 688.7L236.86 698L237.22 689.6L237.58 686.8L237.93 708L238.29 691.2L238.64 721.3L239 715.9L239.36 681.4L239.71 711.1L240.07 693.9L240.42 708.9L240.78 709.5L241.14 683.9L241.49 706.7L241.85 706.8L242.2 722.5L242.56 695.7L242.92 720.2L243.27 697.3L243.63 704.8L243.98 701.1L244.34 730.1L244.69 719.2L245.05 742.8L245.41 720.5L245.76 723.2L246.12 723.2L246.47 705.3L246.83 712.1L247.19 729.9L247.54 708.2L247.9 715.5L248.25 713L248.61 720.9L248.97 708.8L249.32 711.4L249.68 716.4L250.03 714.6L250.39 702.6L250.75 724.5L251.1 697.1L251.46 698.3L251.81 697.2L252.17 725.2L252.53 668L252.88 671L253.24 698.8L253.59 718.2L253.95 699.6L254.31 696.8L254.66 720.3L255.02 697.5L255.37 708.4L255.73 712.2L256.08 706.6L256.44 711.4L256.8 728.8L257.15 705.4L257.51 695.9L257.86 688.5L258.22 708.9L258.58 706.9L258.93 714.6L259.29 705.3L259.64 705L260 701.8L260.36 704.2L260.71 712.7L261.07 705.7L261.42 711.7L261.78 734.4L262.14 716.3L262.49 690.1L262.85 732L263.2 714.4L263.56 697.9L263.92 721.3L264.27 709.9L264.63 701.8L264.98 701.5L265.34 696.9L265.69 710.1L266.05 723.1L266.41 705.3L266.76 714.8L267.12 733.3L267.47 684.7L267.83 712.7L268.19 705.5L268.54 696L268.9 696.5L269.25 709.4L269.61 715.1L269.97 702.9L270.32 710.4L270.68 718.9L271.03 713.6L271.39 720.9L271.75 715.7L272.1 716.1L272.46 733.1L272.81 722.6L273.17 711.7L273.53 719.1L273.88 698.4L274.24 705.8L274.59 720.2L274.95 718.2L275.31 729.8L275.66 710.4L276.02 691.7L276.37 735L276.73 724.2L277.08 696.9L277.44 727.8L277.8 710.8L278.15 687.5L278.51 705.1L278.86 704L279.22 730.7L279.58 700.5L279.93 707.4L280.29 707.1L280.64 705.8L281 699.1L281.36 713.4L281.71 724.3L282.07 718.6L282.42 699L282.78 696.2L283.14 712.3L283.49 701.9L283.85 702.9L284.2 689.6L284.56 735.5L284.92 722.5L285.27 698.6L285.63 722.4L285.98 727.9L286.34 680.8L286.69 704.1L287.05 706.1L287.41 719.2L287.76 709.5L288.12 708.2L288.47 710.4L288.83 734.5L289.19 738.4L289.54 704.5L289.9 699.5L290.25 744L290.61 698.9L290.97 704L291.32 711.7L291.68 717.4L292.03 724.3L292.39 716.3L292.75 700.4L293.1 717.8L293.46 714.6L293.81 735.1L294.17 711.3L294.53 694.7L294.88 698.4L295.24 729.8L295.59 704.8L295.95 685.1L296.31 704.4L296.66 711.7L297.02 726.7L297.37 699L297.73 720.2L298.08 721.8L298.44 703.1L298.8 709.5L299.15 734.2L299.51 744.6L299.86 722.7L300.22 716.2L300.58 726.4L300.93 709.3L301.29 710.2L301.64 701.4L302 712.3L302.36 711.2L302.71 744.9L303.07 709.9L303.42 728.3L303.78 728.9L304.14 710.1L304.49 727.1L304.85 685.2L305.2 713.7L305.56 723.3L305.92 682.6L306.27 698.1L306.63 725.9L306.98 709.5L307.34 699L307.69 708.1L308.05 706L308.41 721.9L308.76 718.5L309.12 709.4L309.47 699.6L309.83 712.3L310.19 729.5L310.54 717.4L310.9 721L311.25 711.2L311.61 697L311.97 704.3L312.32 721.3L312.68 714.5L313.03 702L313.39 693.1L313.75 714.7L314.1 709.2L314.46 709L314.81 709.3L315.17 717L315.53 717.2L315.88 732.7L316.24 725.2L316.59 730.2L316.95 723.7L317.31 709.5L317.66 713.1L318.02 719.9L318.37 710L318.73 720.7L319.08 728.2L319.44 704L319.8 692L320.15 728.8L320.51 714.3L320.86 722.9L321.22 697.6L321.58 735.7L321.93 723.4L322.29 712.7L322.64 709.9L323 715.7L323.36 712.3L323.71 711L324.07 700.6L324.42 730.1L324.78 714.1L325.14 715.5L325.49 715.8L325.85 685.5L326.2 721.2L326.56 710.7L326.92 711.2L327.27 715.7L327.63 702.9L327.98 725.4L328.34 706.4L328.69 703.9L329.05 704.5L329.41 717.1L329.76 724.4L330.12 707.9L330.47 696.7L330.83 728.5L331.19 702.3L331.54 730.2L331.9 714.8L332.25 707L332.61 707.7L332.97 721.4L333.32 726.7L333.68 713.3L334.03 727.5L334.39 741.5L334.75 713.4L335.1 701.9L335.46 703.1L335.81 699.1L336.17 708.3L336.53 707.4L336.88 700.1L337.24 722.9L337.59 684.6L337.95 700.3L338.31 741.2L338.66 729.3L339.02 723.1L339.37 722.4L339.73 738.5L340.08 723.4L340.44 717.9L340.8 702L341.15 716.2L341.51 708.2L341.86 708.6L342.22 708.6L342.58 716.9L342.93 713.5L343.29 728.2L343.64 701.5L344 715.6L344.36 740.4L344.71 718.3L345.07 732.5L345.42 731.8L345.78 734.1L346.14 727.1L346.49 701.5L346.85 715.1L347.2 713.8L347.56 750L347.92 747L348.27 703.6L348.63 698.7L348.98 721.5L349.34 718.5L349.69 710.8L350.05 707.8L350.41 712.9L350.76 714.8L351.12 714.7L351.47 719.1L351.83 714.7L352.19 724.7L352.54 726.4L352.9 724.6L353.25 712.5L353.61 713.2L353.97 725.9L354.32 718.5L354.68 720.5L355.03 691.5L355.39 690.4L355.75 725.5L356.1 725.6L356.46 738.4L356.81 730.5L357.17 724.8L357.53 722.5L357.88 705.6L358.24 733.1L358.59 715.7L358.95 728.9L359.31 725.5L359.66 726.5L360.02 740.2L360.37 717.8L360.73 719.2L361.08 713.8L361.44 719.6L361.8 743.7L362.15 720.1L362.51 738.3L362.86 734.3L363.22 733.3L363.58 734.3L363.93 713.2L364.29 729.5L364.64 743.8L365 717.4L365.36 725L365.71 717.7L366.07 729.5L366.42 713.4L366.78 744.7L367.14 721.8L367.49 708.4L367.85 747L368.2 737.6L368.56 732.5L368.92 732.7L369.27 722.5L369.63 724.2L369.98 735.2L370.34 737.4L370.69 737.7L371.05 729.4L371.41 721.6L371.76 724.8L372.12 739.8L372.47 743.7L372.83 723.2L373.19 721.6L373.54 741.5L373.9 740.4L374.25 735.1L374.61 712L374.97 722.8L375.32 758L375.68 755L376.03 707.5L376.39 741.5L376.75 730.2L377.1 731.7L377.46 712.9L377.81 726.2L378.17 741.8L378.53 708.1L378.88 729.7L379.24 734.1L379.59 717.9L379.95 735.2L380.31 721.8L380.66 739.7L381.02 731.4L381.37 727.7L381.73 748.4L382.08 734.5L382.44 739.9L382.8 710.5L383.15 716.7L383.51 733.9L383.86 734.5L384.22 723.1L384.58 732.7L384.93 710.9L385.29 725.7L385.64 709.4L386 729.2L386.36 716.8L386.71 714.8L387.07 722.9L387.42 743.6L387.78 709.8L388.14 714.5L388.49 734.2L388.85 716.2L389.2 742.2L389.56 723.6L389.92 721.8L390.27 724.8L390.63 741.3L390.98 728.1L391.34 726.3L391.69 723L392.05 701L392.41 709L392.76 737.4L393.12 729.3L393.47 725.4L393.83 726.9L394.19 712.5L394.54 723.1L394.9 708L395.25 680L395.61 683L395.97 716.1L396.32 724.1L396.68 714.7L397.03 726.4L397.39 724.1L397.75 722.9L398.1 734.5L398.46 700.7L398.81 699.2L399.17 726L399.53 729.9L399.88 742.9L400.24 727.7L400.59 728.6L400.95 707.9L401.31 727.7L401.66 726.8L402.02 706L402.37 707.9L402.73 717.5L403.08 722.3L403.44 687.5L403.8 719.8L404.15 721.8L404.51 716.9L404.86 722.3L405.22 724.6L405.58 707L405.93 724.2L406.29 716.2L406.64 707.9L407 721.8L407.36 737.3L407.71 701.8L408.07 699.5L408.42 699.5L408.78 743.3L409.14 716.5L409.49 718.8L409.85 710L410.2 708.2L410.56 695.1L410.92 721.5L411.27 722.6L411.63 695.6L411.98 706.8L412.34 710.4L412.69 719L413.05 722.2L413.41 732.8L413.76 735.6L414.12 731.9L414.47 735.1L414.83 704.7L415.19 712L415.54 732.4L415.9 721.9L416.25 718.5L416.61 758L416.97 755L417.32 726.7L417.68 721.7L418.03 713.7L418.39 712.1L418.75 695.8L419.1 721.2L419.46 729.1L419.81 736.3L420.17 716.5L420.53 713.2L420.88 701.9L421.24 730.3L421.59 736L421.95 707L422.31 717.9L422.66 715.1L423.02 706.6L423.37 682.3L423.73 708.5L424.08 720.4L424.44 694.4L424.8 701.6L425.15 679.1L425.51 727.7L425.86 717.4L426.22 711.4L426.58 707L426.93 702L427.29 708.7L427.64 705.4L428 705.8L428.36 708.1L428.71 709.8L429.07 727.7L429.42 688.7L429.78 710.4L430.14 698.5L430.49 691.4L430.85 675L431.2 713.2L431.56 692L431.92 694.5L432.27 710.1L432.63 689.2L432.98 703.4L433.34 701.6L433.69 712.7L434.05 668L434.41 671L434.76 712.9L435.12 698.9L435.47 701.3L435.83 696.3L436.19 709.1L436.54 681.6L436.9 701L437.25 712.9L437.61 690.1L437.97 723.6L438.32 685.2L438.68 697.7L439.03 687.5L439.39 685.1L439.75 677.7L440.1 685.2L440.46 690.9L440.81 680.5L441.17 703.6L441.53 712.2L441.88 669L442.24 701.8L442.59 692.4L442.95 692.8L443.31 723.9L443.66 705.9L444.02 693.3L444.37 690.9L444.73 657.4L445.08 698.9L445.44 677.1L445.8 690.1L446.15 688.8L446.51 700.9L446.86 716.1L447.22 701L447.58 705.1L447.93 683.4L448.29 693.2L448.64 697.6L449 665.8L449.36 715.7L449.71 676.1L450.07 668L450.42 709.8L450.78 716.7L451.14 676.2L451.49 677.4L451.85 723.6L452.2 687.9L452.56 657.8L452.92 677.5L453.27 715.1L453.63 695.8L453.98 697.2L454.34 704L454.69 696.1L455.05 681.7L455.41 663.6L455.76 693L456.12 670.6L456.47 685.8L456.83 711.9L457.19 694.5L457.54 687.6L457.9 687.7L458.25 697.3L458.61 700L458.97 668L459.32 689.5L459.68 711.4L460.03 697.7L460.39 675.9L460.75 677.2L461.1 657.3L461.46 675.5L461.81 709.8L462.17 685.8L462.53 674.5L462.88 678.4L463.24 685L463.59 685L463.95 681.4L464.31 675.3L464.66 695.4L465.02 708.2L465.37 677.8L465.73 678L466.08 702.8L466.44 664.5L466.8 676.9L467.15 679.9L467.51 687.6L467.86 681.1L468.22 672.2L468.58 689.4L468.93 667.6L469.29 659.4L469.64 655.2L470 695.3L470.36 659.2L470.71 690.7L471.07 693.8L471.42 695.7L471.78 681.3L472.14 675.8L472.49 684.9L472.85 674.9L473.2 664.6L473.56 701.5L473.92 670L474.27 709.1L474.63 690.2L474.98 675.9L475.34 688.8L475.69 700.2L476.05 661.7L476.41 668.1L476.76 666.1L477.12 683.7L477.47 686.9L477.83 681.1L478.19 669.7L478.54 672.3L478.9 697.4L479.25 696L479.61 681L479.97 659.2L480.32 687.7L480.68 682.2L481.03 681.3L481.39 703L481.75 688.9L482.1 661.4L482.46 661L482.81 695.9L483.17 677.6L483.53 695.6L483.88 671.8L484.24 658.3L484.59 677.2L484.95 696.6L485.31 677.3L485.66 654.1L486.02 666.2L486.37 662.8L486.73 672.7L487.08 685.5L487.44 699.9L487.8 672.1L488.15 661.2L488.51 668.5L488.86 666.9L489.22 659.1L489.58 665.6L489.93 664.6L490.29 645.1L490.64 672.3L491 657.2L491.36 646.9L491.71 670.5L492.07 654.7L492.42 690.8L492.78 670.6L493.14 664.5L493.49 651.6L493.85 657.8L494.2 678.4L494.56 654.6L494.92 678.3L495.27 633.7L495.63 670.7L495.98 681L496.34 674.1L496.69 669.3L497.05 685.6L497.41 657L497.76 655.6L498.12 672.9L498.47 690.4L498.83 679L499.19 669.8L499.54 677.9L499.9 680.6L500.25 655.3L500.61 634.1L500.97 659.8L501.32 653.3L501.68 667.8L502.03 659L502.39 664.8L502.75 685L503.1 680.7L503.46 679.6L503.81 718.2L504.17 674.8L504.53 676.7L504.88 701.7L505.24 667.5L505.59 660.7L505.95 704.1L506.31 690.6L506.66 695L507.02 696L507.37 700.2L507.73 680.7L508.08 686.7L508.44 663.3L508.8 690L509.15 694.3L509.51 681.6L509.86 697.7L510.22 723.7L510.58 671.4L510.93 699.7L511.29 701.2L511.64 702.8L512 675.7L512.36 704.3L512.71 696.3L513.07 684.9L513.42 681.5L513.78 689.9L514.14 699.7L514.49 698.8L514.85 719.1L515.2 680.6L515.56 694.6L515.92 679.1L516.27 696.6L516.63 686.9L516.98 676L517.34 665L517.69 672.9L518.05 687.5L518.41 705.3L518.76 694.8L519.12 665.5L519.47 675.7L519.83 683.1L520.19 680.3L520.54 682.7L520.9 692.8L521.25 684L521.61 670.2L521.97 640.2L522.32 674.7L522.68 654.4L523.03 676.7L523.39 686.7L523.75 646.7L524.1 675.8L524.46 672.4L524.81 705.7L525.17 683.6L525.53 648L525.88 682.7L526.24 685.4L526.59 672.3L526.95 669.3L527.31 683.6L527.66 684.2L528.02 680.4L528.37 658.3L528.73 669.2L529.08 648.8L529.44 649.3L529.8 663.1L530.15 655.1L530.51 664.5L530.86 708.5L531.22 677.5L531.58 655.8L531.93 635.6L532.29 655.5L532.64 645.7L533 633.3L533.36 678.2L533.71 658.9L534.07 672.8L534.42 708.1L534.78 669L535.14 666L535.49 669L535.85 658.6L536.2 649L536.56 658L536.92 679L537.27 655.6L537.63 637.1L537.98 638.2L538.34 629.6L538.69 656.9L539.05 663.7L539.41 662.8L539.76 673.6L540.12 649.6L540.47 666L540.83 656.5L541.19 661.9L541.54 617.9L541.9 669.1L542.25 620.5L542.61 626.4L542.97 657.8L543.32 636.3L543.68 672.3L544.03 642.5L544.39 619.6L544.75 638.6L545.1 626.4L545.46 676.3L545.81 658.9L546.17 640.2L546.53 616.4L546.88 622.9L547.24 638.5L547.59 590.8L547.95 597.1L548.31 626.1L548.66 620.7L549.02 597.9L549.37 593.6L549.73 555.8L550.08 616.2L550.44 586.3L550.8 556.2L551.15 559L551.51 560.3L551.86 609.8L552.22 585.8L552.58 553L552.93 603.2L553.29 590L553.64 550.8L554 551.4L554.36 576.1L554.71 549L555.07 550.4L555.42 548.8L555.78 576.7" stroke="#0000cc" stroke-width="5.8"/>
<path class="c" d="M223.98 756.3L225.04 756.3L226.1 756.3L227.16 756.2L228.22 756.6L229.28 756.7L230.34 756.3L231.4 756.1L232.46 756.4L233.52 756L234.58 756.3L235.64 756.7L236.69 757L237.75 756.5L238.81 756.2L239.87 756.6L240.93 755.9L241.99 756.3L243.05 756.9L244.11 756.7L245.17 756.1L246.23 756.1L247.29 756.7L248.35 756.5L249.41 756.4L250.47 756.6L251.53 756.4L252.58 756.1L253.64 756.7L254.7 756.4L255.76 756.3L256.82 756.2L257.88 756.6L258.94 756.4L260 756.7L261.06 756.5L262.12 756.9L263.18 756.5L264.24 756.5L265.3 756.1L266.36 756.4L267.42 756.8L268.47 757.4L269.53 756.3L270.59 756.4L271.65 756.7L272.71 756.8L273.77 756.5L274.83 756.7L275.89 756.3L276.95 756.6L278.01 756.9L279.07 757.1L280.13 756.7L281.19 756.7L282.25 756.8L283.31 757L284.36 756.9L285.42 756.6L286.48 756.8L287.54 757L288.6 756.6L289.66 756.4L290.72 756.9L291.78 756.9L292.84 757L293.9 756.8L294.96 756.7L296.02 756.7L297.08 756.6L298.14 756.6L299.19 756.7L300.25 756.7L301.31 757.1L302.37 756.6L303.43 756.9L304.49 756.7L305.55 757.2L306.61 757L307.67 756.8L308.73 757.1L309.79 756.9L310.85 756.8L311.91 757.3L312.97 757.1L314.03 757.4L315.08 757.2L316.14 757.1L317.2 757L318.26 756.7L319.32 757.1L320.38 757L321.44 757.1L322.5 757L323.56 756.8L324.62 756.8L325.68 757.2L326.74 757.3L327.8 756.9L328.86 757.1L329.92 757.4L330.97 756.8L332.03 757L333.09 756.8L334.15 757.4L335.21 757.1L336.27 757L337.33 756.7L338.39 757L339.45 757.3L340.51 757L341.57 757L342.63 757.3L343.69 756.8L344.75 757.1L345.81 757.3L346.86 756.9L347.92 756.9L348.98 757.2L350.04 757.1L351.1 757.1L352.16 757.2L353.22 757.2L354.28 757L355.34 757L356.4 757.3L357.46 757.5L358.52 757.5L359.58 757L360.64 757.5L361.69 757.4L362.75 757.2L363.81 757.4L364.87 757.5L365.93 757.7L366.99 757L368.05 757.4L369.11 757.2L370.17 757.2L371.23 757.6L372.29 757.5L373.35 757L374.41 757.2L375.47 757.4L376.53 757L377.58 757.5L378.64 757.3L379.7 757.4L380.76 757.4L381.82 757.8L382.88 757.3L383.94 757.2L385 757.7L386.06 757.1L387.12 757.1L388.18 756.9L389.24 757.5L390.3 757.2L391.36 757.3L392.42 757.2L393.47 757.1L394.53 756.9L395.59 756.9L396.65 757.2L397.71 757.1L398.77 757.4L399.83 756.8L400.89 756.8L401.95 756.7L403.01 757.3L404.07 756.6L405.13 757.1L406.19 757.2L407.25 756.8L408.31 757L409.36 756.3L410.42 756.7L411.48 756.3L412.54 756.8L413.6 756.7L414.66 756.5L415.72 756.9L416.78 756.7L417.84 756.5L418.9 756.5L419.96 756.2L421.02 756.5L422.08 757.1L423.14 756.3L424.19 756.6L425.25 756.3L426.31 756.7L427.37 756.5L428.43 756.4L429.49 756L430.55 756.2L431.61 756.6L432.67 756.3L433.73 756.5L434.79 756.2L435.85 755.8L436.91 756.3L437.97 756.3L439.03 756L440.08 756.1L441.14 756.2L442.2 756L443.26 756.2L444.32 756L445.38 755.5L446.44 756L447.5 755.9L448.56 755.8L449.62 756.1L450.68 755.8L451.74 756L452.8 756.2L453.86 755.9L454.92 755.5L455.97 755.6L457.03 756L458.09 755.7L459.15 755.5L460.21 755.7L461.27 755.8L462.33 755.7L463.39 755.8L464.45 755.4L465.51 755.5L466.57 755.5L467.63 755.5L468.69 755L469.75 755.4L470.81 755.1L471.86 755.8L472.92 755.8L473.98 755.8L475.04 755.5L476.1 755.2L477.16 755.5L478.22 755.2L479.28 755.4L480.34 754.9L481.4 755L482.46 755.2L483.52 755.5L484.58 755L485.64 755.6L486.69 755.7L487.75 754.6L488.81 754.9L489.87 754.6L490.93 754.8L491.99 754.7L493.05 754.7L494.11 755L495.17 754.9L496.23 754.7L497.29 754.6L498.35 754.6L499.41 754.5L500.47 754.6L501.53 754.4L502.58 754.5L503.64 754L504.7 754.5L505.76 754.7L506.82 754.2L507.88 753.8L508.94 754.4L510 753.9L511.06 753.2L512.12 753.8L513.18 754L514.24 753.8L515.3 754L516.36 753.8L517.42 753.6L518.47 753L519.53 753.1L520.59 753.3L521.65 753.4L522.71 752.9L523.77 752.9L524.83 753L525.89 752.4L526.95 752.3L528.01 752.6L529.07 752.6L530.13 752.4L531.19 751.8L532.25 752.3L533.31 751.8L534.36 752.2L535.42 751.8L536.48 751.8L537.54 751.7L538.6 751.2L539.66 751.3L540.72 751.2L541.78 750.7L542.84 750.7L543.9 749.9L544.96 749.9L546.02 749.4L547.08 748.7L548.14 748.4L549.19 747.8L550.25 747.2L551.31 746.7L552.37 746.2L553.43 745L554.49 744.1L555.55 742.5L555.59 742.8L555.93 742.7L556.27 742.1L556.61 741.6L556.95 740.8L557.29 740.2L557.63 739.8L557.67 739.4L557.97 738.9L558.31 738.7L558.64 737.6L558.73 738L558.98 736.6L559.32 736.3L559.66 734.9L559.79 734.9L560 734L560.34 733.1L560.68 731.9L560.85 731.1L561.02 730.7L561.36 729.5L561.69 727.4L561.91 726.7L562.03 725.8L562.37 723.9L562.71 722.4L562.97 719.6L563.05 719.3L563.39 716.5L563.73 714.2L564.03 711.6L564.07 712.2L564.41 708.1L564.75 704.8L565.08 700.8L565.42 696.2L565.76 691.9L566.1 687.3L566.14 686.3L566.44 681.7L566.78 676.2L567.12 669.7L567.2 668.3L567.46 663.7L567.8 657L568.14 649.5L568.26 646.9L568.47 642.2L568.81 634.3L569.15 626.3L569.32 622L569.49 617.7L569.83 608.5L570.17 599.6L570.38 594.3L570.51 590.3L570.85 581.5L571.19 572L571.44 565L571.53 563L571.86 553.6L572.2 544.7L572.5 537.3L572.54 536.4L572.88 529.2L573.22 520.7L573.56 514.7L573.9 509.1L574.24 505L574.58 501.4L574.62 500.5L574.92 499.8L575.25 498.5L575.59 499.5L575.68 499.5L575.93 501.2L576.27 504.6L576.61 509.4L576.74 511.4L576.95 514.6L577.29 521.4L577.63 528.5L577.8 532.5L577.97 536.5L578.31 545.1L578.64 553.7L578.86 559.5L578.98 563L579.32 572.3L579.66 581.4L579.92 589L580 590.8L580.34 600.2L580.68 609.1L580.97 617.1L581.02 617.3L581.36 626.9L581.69 634.5L582.03 642.1L582.37 650L582.71 657.7L583.05 664L583.09 664.4L583.39 670.2L583.73 676.6L584.07 681.6L584.15 683.3L584.41 687.1L584.75 692.6L585.08 696.6L585.21 698.6L585.42 700.7L585.76 704.5L586.1 708.6L586.27 710.2L586.44 711.2L586.78 714.8L587.12 717.5L587.33 718.8L587.46 720L587.8 722.3L588.14 724.2L588.39 725.6L588.47 726.1L588.81 727.9L589.15 729.3L589.45 730.9L589.49 730.7L589.83 732.4L590.17 733.6L590.51 734.5L590.85 735.9L591.19 737.2L591.53 737.9L591.57 737.3L591.86 738.7L592.2 739.1L592.54 739.7L592.63 739.8L592.88 740.4L593.22 741.3L593.56 741.7L593.69 741.6L593.9 741.9L594.24 742.5L594.58 743.2L594.75 743.7L594.92 743.2L595.81 744.5L596.86 745.5L597.92 746.3L598.98 747.4L600.04 748.2L601.1 748.3L602.16 749L603.22 750.1L604.28 750.3L605.34 750.8L606.4 750.9L607.46 751.3L608.52 751.8L609.58 751.9L610.64 752L611.69 752.5L612.75 753L613.81 752.7L614.87 753.4L615.93 753.5L616.99 753.3L618.05 753.7L619.11 753.8L620.17 754.1L621.23 754.3L622.29 753.9L623.35 754L624.41 754.7L625.47 754.6L626.53 754.8L627.58 754.8L628.64 755.2L629.7 754.6L630.76 755.3L631.82 754.9L632.88 755.4L633.94 755.6L635 755L636.06 755.5L637.12 755.4L638.18 755.4L639.24 755.6L640.3 755.4L641.36 755.5L642.42 755.9L643.47 756L644.53 755.7L645.59 755.5L646.65 756.5L647.71 756.2L648.77 756.1L649.83 755.8L650.89 755.9L651.95 756.2L653.01 755.9L654.07 756.6L655.13 756.2L656.19 756.3L657.25 756L658.31 756.1L659.36 756.1L660.42 756.4L661.48 756.3L662.54 756.3L663.6 756.5L664.66 756.5L665.72 756.8L666.78 756.4L667.84 756.3L668.9 756.5L669.96 756.9L671.02 756.4L672.08 756.6L673.14 756.5L674.19 756.7L675.25 756.7L676.31 756.5L677.37 756.6L678.43 757L679.49 757L680.55 757L681.61 757L682.67 756.7L683.73 756.7L684.79 757.1L685.85 756.6L686.91 756.8L687.97 756.4L689.03 756.8L690.08 756.7L691.14 756.6L692.2 757.1L693.26 756.8L694.32 756.9L695.38 756.9L696.44 756.8L697.5 757.4L698.56 756.9L699.62 757.1L700.68 756.7L701.74 756.9L702.8 757L703.86 757L704.92 757L705.97 757.2L707.03 757.5L708.09 757.1L709.15 757.1L710.21 757.1L711.27 757.8L712.33 757.6L713.39 757.3L714.45 757.4L715.51 757.1L716.57 757.2L717.63 757.3L718.69 757.3L719.75 757.1L720.81 757.1L721.86 757.4L722.92 757.4L723.98 756.8L725.04 757.4L726.1 757.7L727.16 757.2L728.22 757.4L729.28 757L730.34 757.6L731.4 757.1L732.46 757.1L733.52 757.3L734.58 758L735.64 757.3L736.69 757.1L737.75 757.6L738.81 757.5L739.87 757.9L740.93 757.2L741.99 757.1L743.05 757.4L744.11 757.6L745.17 757.6L746.23 757.8L747.29 757.2L748.35 757.3L749.41 757.5L750.47 757.8L751.53 757.7L752.58 757.5L753.64 757.3L754.7 757.8L755.76 757.8L756.82 758.3L757.88 757.6L758.94 758L760 757.3L761.06 757.5L762.12 757.5L763.18 757.6L764.24 757.5L765.3 757.5L766.36 757.7L767.42 757.6L768.47 757.9L769.53 757.7L770.59 757.7L771.65 758.1L772.71 757.8L773.77 757.8L774.83 757.7L775.89 757.8L776.95 757.9L778.01 757.6L779.07 758L780.13 758.2L781.19 758.1L782.25 757.7L783.31 757.4L784.36 757.7L785.42 757.8L786.48 758L787.54 757.7L788.6 757.7L789.66 758.2L790.72 757.6L791.78 758.1L792.84 758L793.9 757.5L794.96 757.9L796.02 757.7L797.08 757.6L798.14 757.3L799.19 757.4L800.25 757.9L801.31 757.7L802.37 757.9L803.43 757.5L804.49 757.7L805.55 757.7L806.61 757.4L807.67 757.3L808.73 757.8L809.79 757.8L810.85 757.5L811.91 757.7L812.97 757.8L814.03 758.1L815.08 757.4L816.14 757.8L817.2 758.1L818.26 757.6L819.32 757.9L820.38 756.8L821.44 757.8L822.5 757.4L823.56 756.8L824.62 757.4L825.68 757.3L826.74 757.2L827.8 757L828.86 756.5L829.92 755.9L830.97 755.5L832.03 755.1L833.09 754.5L834.15 753.4L835.21 752.5L836.27 751.5L837.33 750.1L838.39 749.2L839.45 747.8L840.17 746L840.51 745.8L840.85 745.2L841.19 744.9L841.53 745L841.57 744.5L841.86 744.3L842.2 744.2L842.54 744.2L842.63 743.8L842.88 743.7L843.22 743.8L843.56 743.6L843.69 743.5L843.9 743.6L844.24 743.1L844.58 743.4L844.75 743.2L844.92 743.6L845.25 743.6L845.59 743.2L845.81 743.9L845.93 743.3L846.27 744L846.61 743.9L846.86 743.8L846.95 743.8L847.29 744.2L847.63 744.5L847.92 744.5L847.97 744.8L848.31 744.5L848.64 745L848.98 745.2L849.32 744.9L849.66 745.6L850 745.3L850.04 745L850.34 745.6L850.68 745.7L851.02 746L851.1 745.7L851.36 746.2L851.69 746.1L852.03 745.9L852.16 746L852.37 745.6L852.71 745.2L853.05 745.3L853.22 745.2L853.39 744.9L853.73 744.5L854.07 743.8L854.28 744L854.41 743.8L854.75 742.9L855.08 742.7L855.34 742.5L855.42 742.1L855.76 741.7L856.1 741L856.4 739.8L856.44 740L856.78 739.5L857.12 738.8L857.46 738L857.8 736.3L858.14 735.9L858.47 735.2L858.52 735.2L858.81 734.5L859.15 732.9L859.49 732L859.58 731.6L859.83 731.4L860.17 729.9L860.51 729.5L860.64 729.1L860.85 728.5L861.19 726.9L861.53 726.4L861.69 726.4L861.86 725.5L862.2 725L862.54 724.4L862.75 724.3L862.88 723.9L863.22 723.4L863.56 722.8L863.81 722.7L863.9 722.6L864.24 722.6L864.58 722.3L864.87 722.6L864.92 721.9L865.25 722.8L865.59 722.6L865.93 723.3L866.27 723.4L866.61 724.1L866.95 724.8L866.99 724.4L867.29 725.1L867.63 725.7L867.97 726.5L868.05 726.2L868.31 727.1L868.64 727.8L868.98 728.5L869.11 728.9L869.32 729.1L869.66 730.5L870 731L870.17 731.8L870.34 731.4L870.68 732L871.02 733.1L871.23 733L871.36 733.6L871.69 734L872.03 734.6L872.29 735.1L872.37 735.2L872.71 736L873.05 736.1L873.35 735.9L873.39 736.5L873.73 736.2L874.07 736.8L874.41 736.6L874.75 736.8L875.08 737.4L875.42 737L875.47 737L875.76 737L876.1 737.1L876.44 737.5L876.53 736.8L876.78 736.8L877.12 737.2L877.46 736.6L877.58 736.9L877.8 737.2L878.14 736.9L878.47 736.8L878.64 736.8L878.81 736.7L879.15 736.9L879.49 737.2L879.7 737.6L879.83 737.6L880.17 737.4L880.51 737.7L880.76 738.3L880.85 737.8L881.19 738.5L881.53 739L881.82 739.3L881.86 739.4L882.2 740.2L882.54 740.3L882.88 741.1L883.22 741.9L883.56 742.7L883.9 743L883.94 743.7L884.24 744L884.58 744.7L884.92 745.4L885 745.5L885.25 745.9L885.59 747.1L885.93 747.6L886.06 747.7L886.27 748.4L886.61 748.6L886.95 749.6L887.12 749.7L887.29 749.8L887.63 750.8L887.97 750.8L888.18 751.6L888.31 751.4L888.64 752.2L889.24 753.3L890.3 754.3L891.36 754.9L892.42 755.8L893.47 756.3L894.53 756.5L895.59 756.8L896.65 757.3L897.71 757.6L898.77 757.2L899.83 757.7L900.89 758L901.95 757.9L903.01 757.7L904.07 758.3L905.13 757.8L906.19 758.3L907.25 758.6L908.31 757.8L909.36 758.4L910.42 758.5L911.48 758.5L912.54 758.3L913.6 758.4L914.66 758.2L915.72 758.6L916.78 758.7L917.84 758.5L918.9 758.4L919.96 758.6L921.02 758.7L922.08 758.8L923.14 758.7L924.19 758.8L925.25 758.5L926.31 758.2L927.37 759L928.43 759.2L929.49 758.5L930.55 758.7L931.61 759L932.67 759.2L933.73 759.1L934.79 759.3L935.85 759L936.91 759.1L937.97 759.1L939.03 758.9L940.08 759.4L941.14 759.2L942.2 759.3L943.26 759L944.32 759.4L945.38 758.9L946.44 759.2L947.5 758.5L948.56 758.9L949.62 759.4L950.68 759.1L951.74 759.2L952.8 758.8L953.86 759.6L954.92 759.4L955.97 759.2L957.03 759.4L958.09 759.3L959.15 759.6L960.21 759.3L961.27 758.9L962.33 759.2L963.39 759.5L964.45 759.2L965.51 758.2L966.57 756.5L967.63 755.5L968.69 757.6L969.75 758.5L970.81 759L971.86 759.5L972.92 759.3L973.98 759.5L975.04 759.9L976.1 759.4L977.16 759.5L978.22 759.3L979.28 759.3L980.34 759.5L981.4 759.1L982.46 759L983.52 759.8L984.58 759.5L985.64 759.8L986.69 759.6L987.75 759.6L988.81 759.7L989.87 759.7L990.93 759.3L991.99 759.9L993.05 759.3L994.11 759.6L995.17 760.2L996.23 759.6L997.29 760L998.35 759.5L999.41 759.8L1000.47 759.7L1001.53 759.7L1002.58 759.4L1003.64 759.4L1004.7 759.7L1005.76 759.3L1006.82 759.5L1007.88 759.8L1008.94 759.5L1010 759.5L1011.06 759.4L1012.12 759.7L1013.18 759.6L1014.24 759.8L1015.3 759.7L1016.36 760.2L1017.42 759.6L1018.47 759.3L1019.53 759.8L1020.59 759.7L1021.65 759.8L1022.71 759.4L1023.77 760L1024.83 759.7L1025.89 759.7L1026.95 759.4L1028.01 759.9L1029.07 759.7L1030.13 760.1L1031.19 759.7L1032.25 759.5L1033.31 759.8L1034.36 759.5L1035.42 759.9L1036.48 759.5L1037.54 759.7L1038.6 759.7L1039.66 759.7L1040.72 759.6L1041.78 759.5L1042.84 759.7L1043.9 759.6L1044.96 759.8L1046.02 759.6L1047.08 759.2L1048.14 759.7L1049.19 760L1050.25 759.7L1051.31 759.8L1052.37 759.7L1053.43 759.5L1054.49 759.3L1055.55 759.8L1056.61 759.8L1057.67 759.7L1058.73 759.6L1059.79 759.6L1060.85 759.4L1061.91 759.5L1062.97 759.3L1064.03 759.4L1065.08 759L1066.14 759L1067.2 759.3L1068.26 759L1069.32 758.4L1070.38 758.9L1071.44 758.2L1072.5 759.1L1073.56 758.7L1074.62 758.5L1075.68 758L1076.74 757.7L1077.8 757.7L1078.56 757.6L1078.86 757.3L1078.9 757.5L1079.24 757.6L1079.58 757.4L1079.92 756.9L1080.25 756.5L1080.59 756.9L1080.93 756.6L1080.97 756.9L1081.27 757.1L1081.61 756.9L1081.95 756.4L1082.03 756.6L1082.29 756.5L1082.63 756L1082.97 755.8L1083.09 755.8L1083.31 755.5L1083.64 755.1L1083.98 754.8L1084.15 754.8L1084.32 754.5L1084.66 754.5L1085 753.8L1085.21 754L1085.34 753.8L1085.68 752.7L1086.02 752.8L1086.27 752L1086.36 752.3L1086.69 751.5L1087.03 750.7L1087.33 750.2L1087.37 749.8L1087.71 749.2L1088.05 748.4L1088.39 747.3L1088.73 746.4L1089.07 745L1089.41 744.2L1089.45 743.6L1089.75 742.9L1090.08 741.5L1090.42 740.1L1090.51 739.5L1090.76 739.1L1091.1 736.7L1091.44 735.1L1091.57 734.2L1091.78 733.6L1092.12 731.2L1092.46 729.5L1092.63 728.1L1092.8 727.3L1093.14 725L1093.47 723.1L1093.69 721.4L1093.81 720.4L1094.15 718.4L1094.49 715.7L1094.75 713.9L1094.83 713.8L1095.17 710.8L1095.51 709.1L1095.81 706.8L1095.85 706.4L1096.19 704.4L1096.53 702.3L1096.86 700L1097.2 698.2L1097.54 696.8L1097.88 695.2L1097.92 694.9L1098.22 693.6L1098.56 692.5L1098.9 691.9L1098.98 692L1099.24 691.7L1099.58 691.5L1099.92 691.9L1100.04 691.6L1100.25 691.9L1100.59 692.7L1100.93 694.2L1101.1 693.9L1101.27 695.1L1101.61 696.7L1101.95 698.3L1102.16 700L1102.29 700.4L1102.63 702.4L1102.97 704.1L1103.22 706.1L1103.31 706.5L1103.64 708.9L1103.98 711.3L1104.28 713.2L1104.32 713.7L1104.66 716.3L1105 718.5L1105.34 720.7L1105.68 722.4L1106.02 725.4L1106.36 727.5L1106.4 727.5L1106.69 729.2L1107.03 731.5L1107.37 733.1L1107.46 733.9L1107.71 734.8L1108.05 736.6L1108.39 738.5L1108.52 738.7L1108.73 740L1109.07 741.6L1109.41 742.5L1109.58 743.7L1109.75 744L1110.08 745.4L1110.42 746.4L1110.64 746.9L1110.76 747.3L1111.1 747.9L1111.44 749L1111.69 749.6L1111.78 750.4L1112.12 751L1112.46 751.1L1112.75 752.1L1112.8 752L1113.14 752.5L1113.47 753.2L1113.81 753.7L1114.15 753.8L1114.49 754.3L1114.83 754.7L1114.87 754.5L1115.17 755L1115.51 755.3L1115.85 755.4L1115.93 755.4L1116.19 755.9L1116.53 756.2L1116.86 756.3L1116.99 756.1L1117.2 756.6L1117.54 756.6L1117.88 756.9L1118.05 757.1L1118.22 756.7L1118.56 757L1118.9 757L1119.11 757L1119.24 757.7L1119.58 757.6L1119.92 757L1120.17 757.6L1120.25 757.4L1121.23 758.1L1122.29 758.1L1123.35 758.2L1124.41 758.4L1125.47 758.7L1126.53 758.7L1127.58 758.8L1128.64 758.9L1129.7 759.2L1130.76 758.9L1131.82 759.2L1132.88 759.2L1133.94 759.2L1135 759.6L1136.06 759.2L1137.12 759.4L1138.18 759.4L1139.24 759.7L1140.3 759.5L1141.36 759.7L1142.42 759.8L1143.47 759.4L1144.53 759.9L1145.59 759.6L1146.65 759.8L1147.71 759.8L1148.77 760.1L1149.83 760.1L1150.89 760.3L1151.95 760L1153.01 759.8L1154.07 759.8L1155.13 760.1L1156.19 760.4L1157.25 760.1L1158.31 759.9L1159.36 760.1L1160.42 760.1L1161.48 760L1162.54 759.9L1163.6 759.5L1164.66 759.9L1165.72 760.3L1166.78 760.1L1167.84 759.6L1168.9 760.1L1169.96 759.6L1171.02 760.5L1172.08 760.1L1173.14 759.8L1174.19 760.3L1175.25 759.9L1176.31 760.2L1177.37 760.1L1178.43 759.8L1179.49 760.2L1180.55 759.7L1181.61 760.3L1182.67 760L1183.73 759.8L1184.79 759.6L1185.85 760.4L1186.91 760.3L1187.97 759.7L1189.03 760.3L1190.08 760L1191.14 759.9L1192.2 759.9L1193.26 759.8L1194.32 760.2L1195.38 759.8L1196.44 759.3L1197.5 760.2L1198.56 759.9L1199.62 759.4L1200.68 759.5L1201.74 759.4L1202.8 759.5L1203.86 759.6L1204.92 759.5L1205.97 759.2L1207.03 759.1L1208.09 759.4L1209.15 759.1L1209.32 759.6L1209.66 758.8L1210 759.2L1210.21 759L1210.34 758.8L1210.68 759.2L1211.02 758.9L1211.27 758.6L1211.36 758.8L1211.69 759L1212.03 758.4L1212.33 759L1212.37 758.8L1212.71 758.6L1213.05 758.9L1213.39 758.9L1213.73 758.6L1214.07 758.4L1214.41 758.7L1214.45 758.6L1214.75 758L1215.08 758.1L1215.42 758L1215.51 757.9L1215.76 757.6L1216.1 758L1216.44 757.7L1216.57 757.7L1216.78 757.9L1217.12 757.3L1217.46 757.3L1217.63 757.3L1217.8 757L1218.14 756.9L1218.47 756.9L1218.69 756.6L1218.81 756.9L1219.15 756.2L1219.49 756.1L1219.75 755.6L1219.83 755.8L1220.17 755.4L1220.51 755.6L1220.81 755.2L1220.85 755.1L1221.19 755.1L1221.53 754.6L1221.86 754.1L1222.2 753.4L1222.54 752.8L1222.88 752.6L1222.92 752.5L1223.22 752L1223.56 751.6L1223.9 750.7L1223.98 751.3L1224.24 750.3L1224.58 749.8L1224.92 749.5L1225.04 748.7L1225.25 748.9L1225.59 748.2L1225.93 747.2L1226.1 746.7L1226.27 746.5L1226.61 745.4L1226.95 745.3L1227.16 744.5L1227.29 744L1227.63 743.1L1227.97 742.6L1228.22 742.2L1228.31 741.3L1228.64 740.6L1228.98 739.4L1229.28 739.1L1229.32 738.9L1229.66 738.4L1230 736.9L1230.34 735.9L1230.68 734.9L1231.02 734.3L1231.36 732.8L1231.4 733.2L1231.69 732.3L1232.03 731.2L1232.37 730.3L1232.46 730.5L1232.71 730.1L1233.05 728.8L1233.39 728.3L1233.52 728.3L1233.73 727.3L1234.07 726.7L1234.41 725.9L1234.58 725.9L1234.75 725.7L1235.08 725.2L1235.42 724.8L1235.64 724.4L1235.76 724.4L1236.1 724.3L1236.44 724.6L1236.69 724.4L1236.78 724.3L1237.12 724.7L1237.46 724.9L1237.63 724.7L1237.75 724.9L1237.8 725.2L1237.97 725.3L1238.14 725.2L1238.31 725.7L1238.47 725.8L1238.64 726.3L1238.81 726.1L1238.98 726.8L1239.15 727L1239.32 727L1239.49 727.8L1239.66 728.1L1239.83 727.9L1239.87 728.7L1240 728.3L1240.17 728.7L1240.34 729.2L1240.51 729.8L1240.68 730.2L1240.85 730.4L1240.93 731L1241.02 730.9L1241.19 731.6L1241.36 732.3L1241.53 732.1L1241.69 731.9L1241.86 732.8L1241.99 732.9L1242.03 733.3L1242.2 733.7L1242.37 733.8L1242.54 734.3L1242.71 734.9L1242.88 735.3L1243.05 735.2L1243.22 736.4L1243.39 736.6L1243.56 737L1243.73 737.5L1243.9 737.5L1244.07 738.1L1244.11 738.5L1244.24 738.8L1244.41 739L1244.58 739.2L1244.75 739.4L1244.92 740.2L1245.08 740.4L1245.17 740.3L1245.25 740L1245.42 740.7L1245.59 740.7L1245.76 741.8L1245.93 741.8L1246.1 741.8L1246.23 742.1L1246.27 742.9L1246.44 742.8L1246.61 742.4L1246.78 742.9L1246.95 742.9L1247.12 742.9L1247.29 743.6L1247.46 744.3L1247.63 744.2L1247.8 744L1247.97 744L1248.14 744.2L1248.31 744.5L1248.35 743.9L1248.47 743.9L1248.64 744.8L1248.81 744.5L1248.98 744.8L1249.15 744.5L1249.32 744.8L1249.41 744.3L1249.49 744.5L1249.66 744.8L1249.83 744.6L1250 744.1L1250.17 744.4L1250.34 743.9L1250.47 743.6L1250.51 744L1250.68 744.1L1250.85 743.8L1251.02 743.1L1251.19 743.5L1251.36 743.2L1251.53 742.7L1251.69 742L1251.86 742.6L1252.03 742.3L1252.2 741.9L1252.37 741L1252.54 740.8L1252.58 741.3L1252.71 741L1252.88 740.6L1253.05 740.1L1253.22 739.8L1253.39 739.2L1253.56 738.9L1253.64 738.5L1253.73 738.6L1253.9 738L1254.07 737.9L1254.24 737.4L1254.41 736.6L1254.58 736.8L1254.7 735.7L1254.75 736L1254.92 735.7L1255.08 735.2L1255.25 733.9L1255.42 734.2L1255.59 733.7L1255.76 733.2L1255.93 731.8L1256.1 731.7L1256.27 731.3L1256.44 730.7L1256.61 730.6L1256.78 729.6L1256.82 730L1256.95 729.4L1257.12 728.4L1257.29 728L1257.46 727.7L1257.63 727.3L1257.8 727.1L1257.88 726.6L1257.97 726.6L1258.14 725.5L1258.31 724.7L1258.47 725L1258.64 724.7L1258.81 724.2L1258.94 723.7L1258.98 724L1259.15 724L1259.32 723.2L1259.49 722.7L1259.66 722.4L1259.83 722.8L1260 722.1L1260.17 722L1260.34 722L1260.51 721.8L1260.68 721.2L1260.85 721.6L1261.02 721.5L1261.06 721.4L1261.19 721.5L1261.36 721.1L1261.53 721.3L1261.69 721.3L1261.86 721.7L1262.03 721.5L1262.12 721.8L1262.2 721.5L1262.37 722L1262.54 722.1L1262.71 722.4L1262.88 722.8L1263.05 723L1263.18 723.2L1263.22 722.9L1263.39 724L1263.73 724.4L1264.07 725.3L1264.24 725.6L1264.41 726.6L1264.75 727.1L1265.08 728.5L1265.3 729.4L1265.42 729.9L1265.76 730.9L1266.1 731.9L1266.36 732.4L1266.44 733.3L1266.78 734.4L1267.12 735.5L1267.42 736.6L1267.46 736.5L1267.8 737.5L1268.14 739.1L1268.47 740.3L1268.81 740.8L1269.15 742.3L1269.49 743.2L1269.53 743.5L1269.83 744.2L1270.17 745.4L1270.51 746.3L1270.59 746.5L1270.85 746.6L1271.19 748L1271.53 748.6L1271.65 748.6L1271.86 749.5L1272.2 749.7L1272.54 751L1272.71 751.5L1272.88 751.3L1273.22 752.2L1273.56 752.7L1273.77 753L1273.9 752.7L1274.24 753.7L1274.58 754L1274.83 754.5L1274.92 754.4L1275.25 755.1L1275.59 755.3L1275.89 755.6L1275.93 755.9L1276.27 755.9L1276.61 756.4L1276.95 756.4L1277.29 756.7L1277.63 756.7L1277.97 757.2L1278.01 757.4L1278.31 757.2L1278.64 757.6L1278.98 757.7L1279.07 757.3L1279.32 757.8L1279.66 758.2L1280 757.8L1280.13 757.6L1280.34 758.1L1280.68 758L1281.02 758.8L1281.19 758.3L1281.36 758.4L1281.69 758.3L1282.03 758.6L1282.25 758.4L1282.37 758.4L1282.71 758.7L1283.05 758.5L1283.31 759.1L1283.39 758.5L1283.73 758.8L1284.07 758.7L1284.36 758.6L1284.41 759.4L1284.75 758.5L1285.42 759.5L1286.48 758.9L1287.54 759.4L1288.6 760L1289.66 759L1290.72 759.3L1291.78 760L1292.84 759.8L1293.9 759.7L1294.96 759.9L1296.02 759.7L1297.08 760L1298.14 760.4L1299.19 760L1300.25 760.1L1301.31 760.4L1302.37 760.7L1303.43 760.1L1304.49 760.3L1305.55 760.1L1306.61 760.1L1307.67 760.2L1308.73 760.2L1309.79 759.9L1310.85 759.9L1311.91 760.2L1312.97 760.4L1314.03 760.7L1315.08 760.3L1316.14 760.4L1317.2 760.6L1318.26 760.7L1319.32 760.5L1320.38 760.5L1321.44 761L1322.5 760.5L1323.56 760.4L1324.62 760.2L1325.68 760.7L1326.74 760.5L1327.8 761.1L1328.86 760.5L1329.92 760.8L1330.97 760.8L1332.03 761L1333.09 760.3L1334.15 761L1335.21 760.7L1336.27 760.6L1337.33 760.6L1338.39 760.6L1339.45 760.6L1340.51 760.1L1341.57 760.8L1342.63 760.7L1343.69 760.5L1344.75 760.7L1345.81 761.3L1346.86 760.8L1347.92 760.6L1348.98 761.1L1350.04 760.5L1351.1 760.7L1352.16 760.6L1353.22 760.7L1354.28 760.9L1355.34 760.9L1356.4 760.5L1357.46 760.7L1358.52 760.7L1359.58 760.6L1360.64 760.7L1361.69 760.5L1362.75 760.5L1363.81 760.7L1364.87 760.5L1365.93 760.8L1366.99 760.7L1368.05 760.5L1369.11 760.6L1370.17 760.6L1371.23 760.7L1372.29 760.7L1373.35 760.6L1374.41 760.5L1375.47 761L1376.53 760.9L1377.58 760.7L1378.64 760.9L1379.7 760.7L1380.76 760.6L1381.82 760.6L1382.88 761.2L1383.94 760.8L1385 760.8L1386.06 760.5L1387.12 760.7L1388.18 761.1L1389.24 760.6L1390.3 760.7L1391.36 760.7L1392.42 760.6L1393.47 760.7L1394.53 760.4L1395.59 760.4L1396.65 760.1L1397.71 760.8L1398.77 760.1L1399.83 760L1400.89 760.2L1401.95 759.6L1403.01 759.5L1404.07 759.1L1405.13 759.1L1406.19 758.8L1407.25 758.7L1408.31 758.2L1409.36 757.7L1410.42 757.4L1411.48 757L1412.54 756.4L1413.6 756.2L1414.66 755.6L1415.72 754.8L1416.78 753.9L1417.84 753.6L1418.9 752.4L1419.96 752L1421.02 751.2L1422.08 750.2L1423.14 749.3L1424.19 748.4L1425.25 748L1426.31 746.4L1427.37 745.3L1428.43 744.3L1429.49 742.9L1430.55 741.7L1431.61 739.7L1432.67 738.3L1433.73 737.9L1434.79 735.8L1435.85 734.7L1436.91 734.1L1437.97 733.9L1439.03 733.6L1440.08 734.6L1441.14 735.7L1442.2 737.5L1443.26 739.2L1444.32 741.1L1445.38 743.2L1446.44 744.9L1447.5 747.7L1448.56 749L1449.62 751L1450.68 753L1451.74 753.9L1452.8 755.3L1453.86 756.1L1454.92 757.1L1455.97 757.6L1457.03 758L1458.09 758.9L1459.15 758.9L1460.21 758.9L1461.27 759.4L1462.33 759.8L1463.39 759.5L1464.45 760.1L1465.51 760.2L1466.57 760.6L1467.63 760L1468.69 760.4L1469.75 759.9L1470.81 760.3L1471.86 760.4L1472.92 760.6L1473.98 760.5L1475.04 760.5L1476.1 760.4L1477.16 760.5L1478.22 760.7L1479.28 760.8L1480.34 760.8L1481.4 761L1482.46 761L1483.52 760.3L1484.58 760.7L1485.64 760.8L1486.69 760.7L1487.75 761.1L1488.81 761L1489.87 760.8L1490.93 760.9L1491.99 761.2L1493.05 760.8L1494.11 760.8L1495.17 761.1L1496.23 761.1L1497.29 761.3L1498.35 761.1L1499.41 761.2L1500.47 760.8L1501.53 760.8L1502.58 761L1503.64 760.4L1504.7 761.1L1505.76 761.2L1506.82 761L1507.88 761L1508.94 761.3L1510 761L1511.06 761.3L1512.12 761.6L1513.18 761.2L1514.24 761.3L1515.3 761.2L1516.36 761.1L1517.42 761.1L1518.47 761.1L1519.53 761.3L1520.59 760.7L1521.65 761L1522.71 761.2L1523.77 760.9L1524.83 761L1525.89 760.9L1526.95 761.2L1528.01 761.2L1529.07 761.4L1530.13 761.2L1531.19 760.9L1532.25 761.1L1533.31 761.2L1534.36 761.3L1535.42 760.5L1536.48 761.1L1537.54 760.5L1538.6 761.1L1539.66 761.1L1540.72 761.1L1541.78 761.1L1542.84 761L1543.9 760.7L1544.96 760.9L1546.02 761.1L1547.08 760.8L1548.14 760.7L1549.19 760.4L1550.25 760.9L1551.31 760.4L1552.37 760.3L1553.43 760.3L1554.49 760.1L1555.55 760.1L1556.61 760.3L1557.67 760L1558.73 760L1559.79 759.7L1560.85 758.9L1561.91 759L1562.97 758.9L1564.03 758.7L1565.08 757.5L1566.14 757L1567.2 757.1L1568.26 756.4L1569.32 755.8L1570.38 755.6L1571.44 754.8L1572.5 754L1573.56 754.1L1574.62 753.6L1575.68 753.4L1576.74 753.1L1577.8 752.7L1578.86 752.4L1579.92 752.2L1580.97 751.9L1582.03 752.3L1583.09 752.8L1584.15 753L1585.21 753.6L1586.27 753.4L1587.33 753.4L1588.39 754.4L1589.45 754.8L1590.51 754.5L1591.57 754.7L1592.63 755.3L1593.69 755.6L1594.75 755.2L1595.81 755.3L1596.86 755.1L1597.92 754.7L1598.98 754.4L1600.04 754.3L1601.1 753.7L1602.16 753L1603.22 751.9L1604.28 752.3L1605.34 751L1606.4 750.6L1607.46 749.8L1608.52 749.7L1609.58 748.9L1610.64 749.2L1611.69 749.2L1612.75 749.8L1613.81 749.7L1614.87 750.4L1615.93 751.3L1616.99 752.6L1618.05 752.6L1619.11 753.9L1620.17 754.5L1621.23 755.5L1622.29 756.3L1623.35 756.9L1624.41 757.5L1625.47 758.1L1626.53 758.4L1627.58 758.9L1628.64 758.9L1629.7 759.5L1630.76 759.7L1631.82 760L1632.88 760.5L1633.94 760.5L1635 760.7L1636.06 760.9L1637.12 760.2L1638.18 760.9L1639.24 760.9L1640.3 760.9L1641.36 760.6L1642.42 761.1L1643.47 761.3L1644.53 761.3L1645.59 761.1L1646.65 761.3L1647.71 761.3L1648.77 761.6L1649.83 761.5L1650.89 761.2L1651.95 761.2L1653.01 761.2L1654.07 761.3L1655.13 761.1L1656.19 761.4L1657.25 761.1L1658.31 761.1L1659.36 761.3L1660.42 761.1L1661.48 761.2L1662.54 760.8L1663.6 761.5L1664.66 761.3L1665.72 761.2L1666.78 761.4L1667.84 761.3L1668.9 761.1L1669.96 761.7L1671.02 761.2L1672.08 761.5L1673.14 761.7L1674.19 761.1L1675.25 761.2L1676.31 761L1677.37 761.4L1678.43 761.1L1679.49 760.9L1680.55 761.4L1681.61 761.3L1682.67 760.8L1683.73 761.3L1684.79 761L1685.85 761.6L1686.91 761.2L1687.97 760.6L1689.03 760.6L1690.08 760.4L1691.14 760.5L1692.2 760.3L1693.26 760.3L1694.32 760L1695.38 759.5L1696.44 759.4L1697.5 759.7L1698.56 759.4L1699.62 758.8L1700.68 758.5L1701.74 758.1L1702.8 757.8L1703.86 756.9L1704.92 757.1L1705.97 756.2L1707.03 755.9L1708.09 754.7L1709.15 754.8L1710.21 754.4L1711.27 752.9L1712.33 753.1L1713.39 752.1L1714.45 751.1L1715.51 750.2L1716.57 750.1L1717.63 749.1L1718.69 748.5L1719.75 747.7L1720.81 747L1721.86 746.9L1722.92 746.2L1723.98 746.4L1725.04 745.8L1726.1 746.1L1727.16 746.3L1728.22 747.4L1729.28 747.2L1730.34 748L1731.4 749L1732.46 749.6L1733.52 750.7L1734.58 751.3L1735.64 751.5L1736.69 752.1L1737.75 751.9L1738.81 752.5L1739.87 752.9L1740.93 753.2L1741.99 753.1L1743.05 753.4L1744.11 753.6L1745.17 754.2L1746.23 754.3L1747.29 754.3L1748.35 754.6L1749.41 755.1L1750.47 755.3L1751.53 755.8L1752.58 755.9L1753.64 756.9L1754.7 757.5L1755.76 757.8L1756.82 758.3L1757.88 758.7L1758.94 759.5L1760 759.4L1761.06 759.4L1762.12 759.8L1763.18 760.4L1764.24 760.8L1765.3 760.9L1766.36 761.1L1767.42 761L1768.47 760.8L1769.53 761L1770.59 760.9L1771.65 761.3L1772.71 761.1L1773.77 761.5L1774.83 761.5L1775.89 761.1L1776.95 761.8L1778.01 761.8L1779.07 761.3L1780.13 761.7L1781.19 761.9L1782.25 761.6L1783.31 761.9L1784.36 761.8L1785.42 762L1786.48 761.8L1787.54 761.8L1788.6 761.9L1789.66 762L1790.72 761.9L1791.78 761.7L1792.84 761.7L1793.9 761.8L1794.96 761.7L1796.02 761.9L1797.08 761.9L1798.14 761.9L1799.19 761.9L1800.25 762L1801.31 762.3L1802.37 762.2L1803.43 761.8L1804.49 762.1L1805.55 761.9L1806.61 762L1807.67 761.9L1808.73 761.9L1809.79 761.7L1810.85 761.4L1811.91 762.1L1812.97 762.3L1814.03 761.8L1815.08 762.2L1816.14 761.9L1817.2 762.1L1818.26 761.8L1819.32 762L1820.38 762L1821.44 761.3L1822.5 761.4L1823.56 759.5L1824.62 757.5L1825.68 759.9L1826.74 761.4L1827.8 762L1828.86 762.1L1829.92 762L1830.97 761.8L1832.03 762L1833.09 762L1834.15 762.7L1835.21 762.6L1836.27 762" stroke="#0000cc" stroke-width="5.9"/>
<path class="c" d="M223.98 512.2L225.04 512.4L226.1 512.5L227.16 512.2L228.22 512.1L229.28 512.9L230.34 512.7L231.4 512L232.46 512L233.52 512.3L234.58 512.5L235.64 512.6L236.69 512.4L237.75 512.1L238.81 512.6L239.87 512.7L240.93 512.6L241.99 512.5L243.05 512.8L244.11 512.6L245.17 512.4L246.23 512.7L247.29 512.4L248.35 513L249.41 512.9L250.47 512.5L251.53 512.8L252.58 513.1L253.64 512.3L254.7 512.8L255.76 513.3L256.82 512.5L257.88 512.9L258.94 512.6L260 512.9L261.06 512.4L262.12 512.6L263.18 512.9L264.24 513.1L265.3 513.1L266.36 513.2L267.42 513.4L268.47 513.3L269.53 513.3L270.59 512.9L271.65 513.1L272.71 514L273.77 513.8L274.83 513.4L275.89 513.4L276.95 513.5L278.01 513.2L279.07 513.8L280.13 513.2L281.19 513.3L282.25 513.9L283.31 512.9L284.36 513.5L285.42 513L286.48 513.3L287.54 513.4L288.6 513.4L289.66 513.5L290.72 513.3L291.78 513.5L292.84 513.3L293.9 513.5L294.96 513.3L296.02 513.8L297.08 513.3L298.14 513.8L299.19 513.6L300.25 513.6L301.31 514L302.37 513.8L303.43 513.3L304.49 513.9L305.55 513.1L306.61 513.9L307.67 513.7L308.73 513.5L309.79 513.9L310.85 513.8L311.91 514.4L312.97 513.8L314.03 514.4L315.08 514.3L316.14 513.8L317.2 513.8L318.26 514.3L319.32 514L320.38 514.1L321.44 514L322.5 513.8L323.56 514L324.62 513.9L325.68 513.8L326.74 514.1L327.8 514.6L328.86 514.6L329.92 514.2L330.97 514.3L332.03 514.4L333.09 514.6L334.15 514.4L335.21 514.2L336.27 514.3L337.33 514.6L338.39 515L339.45 514.2L340.51 513.9L341.57 514.6L342.63 514.4L343.69 514.5L344.75 514.8L345.81 514.5L346.86 514.2L347.92 514L348.98 514.5L350.04 514.2L351.1 514.6L352.16 514.2L353.22 514.5L354.28 514.2L355.34 514.5L356.4 514.5L357.46 514.7L358.52 514.9L359.58 514.6L360.64 514.4L361.69 515.1L362.75 514.7L363.81 514.8L364.87 514.8L365.93 515.1L366.99 515L368.05 514.9L369.11 514.9L370.17 514.5L371.23 514.6L372.29 514.7L373.35 514.8L374.41 514.8L375.47 514.9L376.53 514.8L377.58 514.7L378.64 514.4L379.7 515L380.76 515L381.82 514.6L382.88 515L383.94 515L385 514.9L386.06 514.4L387.12 514.6L388.18 514.8L389.24 515.3L390.3 514.7L391.36 514.9L392.42 514.7L393.47 514.9L394.53 515.1L395.59 514.5L396.65 514.3L397.71 515.2L398.77 515L399.83 514.9L400.89 515.3L401.95 515.3L403.01 514.6L404.07 515L405.13 515.4L406.19 514.9L407.25 515L408.31 515.4L409.36 515.1L410.42 514.8L411.48 515L412.54 514.8L413.6 515.3L414.66 514.8L415.72 515.4L416.78 514.8L417.84 515.2L418.9 514.9L419.96 515.2L421.02 515.5L422.08 515.5L423.14 515.6L424.19 515.3L425.25 515.3L426.31 515.4L427.37 515.5L428.43 515.2L429.49 515.6L430.55 515.4L431.61 515.6L432.67 515.5L433.73 515.5L434.79 515.2L435.85 515.3L436.91 515.1L437.97 515.3L439.03 515.4L440.08 515.6L441.14 515.1L442.2 516.2L443.26 515.4L444.32 515.8L445.38 515.7L446.44 514.8L447.5 515.4L448.56 515.8L449.62 514.9L450.68 515.7L451.74 515.3L452.8 515.4L453.86 515.6L454.92 515.1L455.97 515.6L457.03 515.4L458.09 515.3L459.15 515.7L460.21 516.4L461.27 515.6L462.33 515.7L463.39 515.6L464.45 515.4L465.51 515.6L466.57 516L467.63 515.6L468.69 515.8L469.75 515.5L470.81 516.2L471.86 515.2L472.92 515.7L473.98 515.7L475.04 515.6L476.1 515.3L477.16 515.3L478.22 515.5L479.28 515.6L480.34 515.2L481.4 515.3L482.46 515.7L483.52 515.8L484.58 515.4L485.64 515.3L486.69 515.3L487.75 516.1L488.81 515.6L489.87 515.4L490.93 515.7L491.99 516L493.05 515.7L494.11 515.1L495.17 515.4L496.23 515.3L497.29 515.3L498.35 515L499.41 515.2L500.47 515L501.53 515.4L502.58 515.3L503.64 514.9L504.7 514.8L505.76 515.1L506.82 515.3L507.88 515.3L508.94 515.1L510 514.3L511.06 514.9L512.12 514.9L513.18 514.9L514.24 514.7L515.3 514.8L516.36 514.7L517.42 515.5L518.47 515L519.53 514.7L520.59 514.7L521.65 514.6L522.71 514.6L523.77 514.4L524.83 514.4L525.89 514.6L526.95 514.5L528.01 514.3L529.07 514.4L530.13 514.1L531.19 513.7L532.25 513.3L533.31 513.5L534.36 513.5L535.42 513.5L536.48 513.5L537.54 512.9L538.6 512.7L539.66 512.9L540.72 512.7L541.78 512.1L542.84 512L543.9 512L544.96 511.4L546.02 510.9L547.08 510L548.14 510.4L549.19 509.8L550.25 509.1L551.31 508.3L552.37 507.4L553.43 506.8L554.49 505.9L555.08 505.5L555.42 504.6L555.55 505.1L555.76 504.5L556.1 504.4L556.44 503.4L556.61 503.5L556.78 503.4L557.12 502.6L557.46 501.7L557.67 501.6L557.8 501.6L558.14 500.5L558.47 499.8L558.73 499.6L558.81 499.1L559.15 498.7L559.49 497.3L559.79 496.3L559.83 496.5L560.17 496L560.51 494.2L560.85 493.1L561.19 491.8L561.53 490L561.86 488.8L561.91 488.3L562.2 486.8L562.54 484.2L562.88 482L562.97 481.1L563.22 479.9L563.56 477.3L563.9 474.6L564.03 473.6L564.24 471.2L564.58 467.8L564.92 464.2L565.08 462.5L565.25 459.9L565.59 456L565.93 451.1L566.14 448L566.27 446.4L566.61 440.7L566.95 435L567.2 431L567.29 429.3L567.63 422.9L567.97 416.3L568.26 410.4L568.31 409.3L568.64 402.3L568.98 394.7L569.32 387.2L569.66 379.2L570 371L570.34 362.5L570.38 361.6L570.68 354.2L571.02 346.9L571.36 338.1L571.44 336.3L571.69 330.6L572.03 322.5L572.37 315.6L572.5 313.2L572.71 309.1L573.05 303.3L573.39 298.6L573.56 297L573.73 295L574.07 291.9L574.41 290.2L574.62 289.2L574.75 289.7L575.08 290.3L575.42 291.7L575.68 294.1L575.76 294.8L576.1 298.6L576.44 303.4L576.74 308.5L576.78 309.2L577.12 315.9L577.46 322.9L577.8 330.4L578.14 338.1L578.47 346.1L578.81 354.9L578.86 355L579.15 362.9L579.49 370.9L579.83 379L579.92 380.8L580.17 386.9L580.51 394.4L580.85 401.8L580.97 404.9L581.19 409L581.53 416.6L581.86 423.3L582.03 425.4L582.2 429L582.54 435.4L582.88 441L583.09 444.4L583.22 446.4L583.56 451.4L583.9 456.1L584.15 459.6L584.24 460.2L584.58 464.5L584.92 467.5L585.21 470.9L585.25 471.1L585.59 474.9L585.93 478L586.27 480.2L586.61 482.2L586.95 484.7L587.29 486.8L587.33 487.1L587.63 488.9L587.97 490.6L588.31 491.2L588.39 492.6L588.64 493.2L588.98 494.4L589.32 496.1L589.45 496.1L589.66 496.5L590 497.5L590.34 498.7L590.51 499.4L590.68 499.9L591.02 500.3L591.36 500.9L591.57 501.8L591.69 501.5L592.03 502.6L592.37 502.9L592.63 503.3L592.71 503.3L593.05 503.9L593.39 504.2L593.69 504.5L593.73 504.7L594.07 504.9L594.41 505.6L594.75 505.9L595.81 506.8L596.86 507.7L597.92 508.4L598.98 509.6L600.04 509.8L601.1 510.1L602.16 510.7L603.22 511.3L604.28 511.5L605.34 511.9L606.4 512.2L607.46 512.5L608.52 512.9L609.58 513.1L610.64 512.8L611.69 513.2L612.75 512.9L613.81 514L614.87 514.2L615.93 514.4L616.99 514.3L618.05 514.6L619.11 514.5L620.17 514.6L621.23 514.3L622.29 514.6L623.35 514.7L624.41 515.2L625.47 515.5L626.53 515L627.58 515.3L628.64 515.3L629.7 515.1L630.76 515L631.82 515.3L632.88 515.2L633.94 515.5L635 515.6L636.06 515.6L637.12 515.7L638.18 515.9L639.24 515.6L640.3 516.1L641.36 515.5L642.42 515.9L643.47 516.1L644.53 515.8L645.59 515.6L646.65 516.2L647.71 515.9L648.77 516.3L649.83 516.3L650.89 516.2L651.95 516.2L653.01 516.5L654.07 516.3L655.13 516L656.19 516.3L657.25 516.4L658.31 516.4L659.36 516.4L660.42 516.3L661.48 516.3L662.54 516.2L663.6 516.1L664.66 516.7L665.72 516.3L666.78 516.5L667.84 516.1L668.9 516.5L669.96 516.3L671.02 517.3L672.08 516.3L673.14 516.3L674.19 516.8L675.25 516.9L676.31 516.1L677.37 516.7L678.43 516.8L679.49 516.3L680.55 516.8L681.61 516.5L682.67 516.4L683.73 516.6L684.79 516.6L685.85 516.3L686.91 517.2L687.97 516.6L689.03 516.5L690.08 516.9L691.14 516.7L692.2 517.1L693.26 516.7L694.32 516.8L695.38 516.8L696.44 516.8L697.5 516.7L698.56 516.8L699.62 517.2L700.68 516.6L701.74 516.7L702.8 516.7L703.86 517L704.92 516.9L705.97 517.1L707.03 516.5L708.09 516.9L709.15 516.8L710.21 516.8L711.27 516.9L712.33 516.4L713.39 516.9L714.45 516.9L715.51 516.5L716.57 516.9L717.63 517.3L718.69 516.8L719.75 517.1L720.81 516.9L721.86 516.7L722.92 516.7L723.98 516.8L725.04 517.3L726.1 517.1L727.16 516.8L728.22 517.2L729.28 516.9L730.34 516.8L731.4 517.1L732.46 516.7L733.52 516.6L734.58 517.3L735.64 516.5L736.69 517.1L737.75 516.6L738.81 517L739.87 517L740.93 516.9L741.99 516.5L743.05 517L744.11 517L745.17 516.8L746.23 517L747.29 517.3L748.35 516.9L749.41 517.1L750.47 516.8L751.53 517.1L752.58 517.2L753.64 517.7L754.7 517.3L755.76 517.2L756.82 517.4L757.88 516.8L758.94 517.3L760 516.9L761.06 516.9L762.12 517.3L763.18 517.1L764.24 517.4L765.3 516.7L766.36 517.1L767.42 516.9L768.47 517L769.53 516.6L770.59 517.3L771.65 517.1L772.71 516.8L773.77 516.7L774.83 516.9L775.89 517.4L776.95 517.1L778.01 517L779.07 517.2L780.13 517.1L781.19 517.1L782.25 517.3L783.31 517.2L784.36 517.3L785.42 516.8L786.48 517.1L787.54 517L788.6 517.1L789.66 517L790.72 516.9L791.78 517L792.84 517.3L793.9 516.9L794.96 516.7L796.02 517.2L797.08 517.3L798.14 516.9L799.19 517L800.25 516.8L801.31 516.9L802.37 517.2L803.43 517.2L804.49 517L805.55 516.9L806.61 516.5L807.67 517L808.73 517L809.79 517.1L810.85 517.3L811.91 516.9L812.97 517L814.03 516.5L815.08 517L816.14 516.9L817.2 517L818.26 516.8L819.32 516.7L820.38 516.9L821.44 516.3L822.5 516.6L823.56 516.6L824.62 516L825.68 515.8L826.74 516L827.8 515.7L828.86 515.5L829.92 515.2L830.97 514.3L832.03 513.9L833.09 513.3L834.15 512L835.21 510.9L836.27 509.4L837.33 508.5L838.39 507.4L839.45 505.2L840 505L840.34 504.6L840.51 504.1L840.68 503.9L841.02 503.4L841.36 503.1L841.57 503.2L841.69 503.2L842.03 502.8L842.37 502.7L842.63 502.4L842.71 502L843.05 502.5L843.39 502.4L843.69 501.8L843.73 502.4L844.07 502.1L844.41 502L844.75 502.5L845.08 501.6L845.42 501.9L845.76 502.6L845.81 502.4L846.1 502.4L846.44 503.2L846.78 503.2L846.86 502.8L847.12 503.1L847.46 503.8L847.8 504.2L847.92 503.4L848.14 504.1L848.47 504.2L848.81 504.1L848.98 504.6L849.15 504.4L849.49 504.8L849.83 505.6L850.04 505.4L850.17 505.5L850.51 505.6L850.85 505.7L851.1 505.9L851.19 505.4L851.53 505.6L851.86 505.9L852.16 505.5L852.2 505.6L852.54 505.9L852.88 505.8L853.22 505.2L853.56 504.9L853.9 505L854.24 504.6L854.28 504.4L854.58 504.4L854.92 504L855.25 503.4L855.34 504L855.59 503.3L855.93 502.6L856.27 502.1L856.4 502.3L856.61 501.5L856.95 500.4L857.29 500L857.46 499.5L857.63 499L857.97 498.5L858.31 497.7L858.52 497.1L858.64 496.7L858.98 496.2L859.32 494.7L859.58 494.6L859.66 494.2L860 493.4L860.34 491.9L860.64 492.1L860.68 491.1L861.02 490.4L861.36 489.9L861.69 488.8L862.03 488L862.37 486.7L862.71 486.4L862.75 486.5L863.05 485.9L863.39 485L863.73 484.6L863.81 484.5L864.07 483.8L864.41 483.3L864.75 483.6L864.87 482.8L865.08 483.1L865.42 482.6L865.76 482.8L865.93 482.3L866.1 482.6L866.44 482.6L866.78 482.6L866.99 482.8L867.12 482.7L867.46 483.1L867.8 483.4L868.05 484L868.14 483.9L868.47 484L868.81 484.8L869.11 485.3L869.15 485.2L869.49 486.3L869.83 486.7L870.17 487.4L870.51 487.6L870.85 488.3L871.19 489.3L871.23 488.7L871.53 489.7L871.86 490.2L872.2 490.6L872.29 490.9L872.54 491L872.88 491.8L873.22 491.9L873.35 492.1L873.56 493L873.9 492.9L874.24 492.9L874.41 493.9L874.58 493.6L874.92 493.3L875.25 494.4L875.47 494.8L875.59 494.8L875.93 495.3L876.27 495.1L876.53 495.5L876.61 495.1L876.95 495.6L877.29 496.1L877.58 496.1L877.63 496L877.97 495.7L878.31 496.3L878.64 496.3L878.98 497L879.32 496.9L879.66 497.5L879.7 497.2L880 498.2L880.34 497.8L880.68 498.5L880.76 499.2L881.02 498.9L881.36 499.1L881.69 500L881.82 500.3L882.03 500.5L882.37 500.4L882.71 501.5L882.88 501.2L883.05 502.4L883.39 502.6L883.73 503L883.94 503.7L884.07 503.9L884.41 504L884.75 505.3L885 505.3L885.08 505.1L885.42 506.5L885.76 507.1L886.06 507.5L886.1 507.4L886.44 507.6L886.78 508.6L887.12 509.3L887.46 509.6L887.8 510.3L888.14 510.1L888.18 510.6L888.47 511L888.81 510.8L889.15 511.2L889.24 511.5L889.49 512L889.83 512.4L890.17 512.6L890.3 512.8L890.51 512.9L890.85 513.3L891.19 513.7L891.36 513.8L892.42 514.3L893.47 515L894.53 515.2L895.59 515.9L896.65 515.8L897.71 516.5L898.77 516.2L899.83 516.4L900.89 516.3L901.95 516.5L903.01 516.7L904.07 516.7L905.13 516.6L906.19 516.5L907.25 516.9L908.31 517L909.36 517.1L910.42 517.3L911.48 517L912.54 516.6L913.6 517.1L914.66 516.7L915.72 516.9L916.78 517.5L917.84 517.4L918.9 517.1L919.96 517.1L921.02 517.3L922.08 516.9L923.14 517.5L924.19 517.3L925.25 517.8L926.31 517.1L927.37 517.7L928.43 517.3L929.49 517.7L930.55 517.2L931.61 517.7L932.67 517.4L933.73 517.3L934.79 517.5L935.85 517.6L936.91 517.6L937.97 517.9L939.03 517.8L940.08 516.9L941.14 517.5L942.2 517.1L943.26 517.5L944.32 517.8L945.38 517.3L946.44 517.3L947.5 517.7L948.56 517.6L949.62 518L950.68 517.7L951.74 517.8L952.8 518.1L953.86 517.5L954.92 517.7L955.97 517.4L957.03 517.8L958.09 518L959.15 518L960.21 517.7L961.27 517.5L962.33 517.5L963.39 517.4L964.45 517.8L965.51 518.1L966.57 517.2L967.63 517.2L968.69 518.1L969.75 517.4L970.81 517.8L971.86 517.5L972.92 518L973.98 518L975.04 517.8L976.1 518L977.16 517.8L978.22 517.9L979.28 518.3L980.34 518.1L981.4 517.6L982.46 517.6L983.52 517.8L984.58 517.8L985.64 517.8L986.69 517.7L987.75 518L988.81 517.8L989.87 517.9L990.93 517.8L991.99 518L993.05 517.5L994.11 518.2L995.17 517.9L996.23 518L997.29 518L998.35 518.1L999.41 518L1000.47 517.9L1001.53 517.8L1002.58 517.5L1003.64 517.9L1004.7 517.8L1005.76 517.8L1006.82 518.5L1007.88 517.4L1008.94 517.9L1010 518.2L1011.06 518.1L1012.12 518.2L1013.18 517.6L1014.24 517.6L1015.3 518L1016.36 517.8L1017.42 518.3L1018.47 517.9L1019.53 517.9L1020.59 518L1021.65 517.8L1022.71 517.9L1023.77 517.7L1024.83 517.9L1025.89 517.7L1026.95 517.9L1028.01 517.5L1029.07 517.5L1030.13 518L1031.19 517.9L1032.25 517.6L1033.31 517.8L1034.36 517.6L1035.42 518.3L1036.48 517.4L1037.54 518.2L1038.6 517.6L1039.66 517.9L1040.72 517.7L1041.78 517.7L1042.84 518L1043.9 518L1044.96 517.7L1046.02 517.5L1047.08 518.3L1048.14 518.1L1049.19 517.7L1050.25 517.6L1051.31 517.8L1052.37 517.7L1053.43 517.9L1054.49 517.4L1055.55 517.6L1056.61 517.4L1057.67 517.9L1058.73 518L1059.79 517.5L1060.85 517.6L1061.91 517.8L1062.97 517.3L1064.03 517.1L1065.08 517.5L1066.14 517.4L1067.2 517.1L1068.26 517.5L1069.32 517.1L1070.38 516.5L1071.44 517L1072.5 516.8L1073.56 517.2L1074.62 516.6L1075.68 516.4L1076.74 516.4L1077.8 516.1L1078.81 515.5L1078.86 515.9L1079.15 515.7L1079.49 516.1L1079.83 516.2L1079.92 515.3L1080.17 515.3L1080.51 515.2L1080.85 515.2L1080.97 515.1L1081.19 515.2L1081.53 515.4L1081.86 514.7L1082.03 514.5L1082.2 514.4L1082.54 515L1082.88 514.8L1083.09 514L1083.22 513.9L1083.56 514.2L1083.9 514.2L1084.15 514L1084.24 513.7L1084.58 513.6L1084.92 513.2L1085.21 512.7L1085.25 513.3L1085.59 512.4L1085.93 511.8L1086.27 511.5L1086.61 510.7L1086.95 510.6L1087.29 510.3L1087.33 509.7L1087.63 509.7L1087.97 509.3L1088.31 508.1L1088.39 507.5L1088.64 507L1088.98 506.3L1089.32 505.1L1089.45 504.8L1089.66 504.4L1090 503.3L1090.34 502.4L1090.51 501.3L1090.68 501.4L1091.02 499.9L1091.36 498.5L1091.57 497.2L1091.69 497.2L1092.03 495.2L1092.37 494.1L1092.63 492.6L1092.71 491.7L1093.05 490.1L1093.39 488.8L1093.69 487L1093.73 486.5L1094.07 484.6L1094.41 482.7L1094.75 480.4L1095.08 478.6L1095.42 476.4L1095.76 474.5L1095.81 474.5L1096.1 472.4L1096.44 471L1096.78 469L1096.86 468.7L1097.12 467.5L1097.46 466L1097.8 464.4L1097.92 463.9L1098.14 462.9L1098.47 462L1098.81 460.8L1098.98 460.6L1099.15 460.5L1099.49 459.9L1099.83 459.9L1100.04 459.6L1100.17 460.3L1100.51 460.2L1100.85 461.1L1101.1 461.6L1101.19 462.1L1101.53 462.8L1101.86 464L1102.16 465L1102.2 465.6L1102.54 467L1102.88 469.1L1103.22 471.2L1103.56 472.1L1103.9 474.3L1104.24 476.7L1104.28 477.2L1104.58 478.7L1104.92 480.7L1105.25 482.8L1105.34 483.3L1105.59 485L1105.93 486.7L1106.27 488.1L1106.4 489L1106.61 490.3L1106.95 491.8L1107.29 493.6L1107.46 494.4L1107.63 495.1L1107.97 497L1108.31 498.2L1108.52 498.9L1108.64 499.6L1108.98 501.1L1109.32 502.8L1109.58 503.2L1109.66 503.8L1110 504.6L1110.34 505L1110.64 506.4L1110.68 506.2L1111.02 507L1111.36 507.8L1111.69 509.3L1112.03 509.1L1112.37 510L1112.71 511L1112.75 510.9L1113.05 510.8L1113.39 511.7L1113.73 512L1113.81 512.2L1114.07 512.7L1114.41 512.7L1114.75 513.1L1114.87 513.7L1115.08 513L1115.42 513.7L1115.76 514.1L1115.93 513.8L1116.1 514.1L1116.44 514.1L1116.78 514.7L1116.99 514.6L1117.12 515L1117.46 515.2L1117.8 515.1L1118.05 515.1L1118.14 515.3L1118.47 515.4L1118.81 515.2L1119.11 515.8L1119.15 515.6L1119.49 515.9L1119.83 515.4L1120.17 516.1L1120.51 516.5L1121.23 516.3L1122.29 516L1123.35 516.5L1124.41 516.6L1125.47 516.8L1126.53 516.9L1127.58 517.2L1128.64 517L1129.7 517.3L1130.76 517.1L1131.82 517.4L1132.88 517.7L1133.94 517.4L1135 517.7L1136.06 517.4L1137.12 517.6L1138.18 517.6L1139.24 518.1L1140.3 517.6L1141.36 518.1L1142.42 517.5L1143.47 517.8L1144.53 518.1L1145.59 518.1L1146.65 517.7L1147.71 517.7L1148.77 518.2L1149.83 517.7L1150.89 518.2L1151.95 517.9L1153.01 518.1L1154.07 518.7L1155.13 518.5L1156.19 518.3L1157.25 517.8L1158.31 518.2L1159.36 518.2L1160.42 518.1L1161.48 518.5L1162.54 517.7L1163.6 518.3L1164.66 518.2L1165.72 518L1166.78 518.6L1167.84 517.9L1168.9 518.2L1169.96 518.2L1171.02 517.7L1172.08 517.9L1173.14 518L1174.19 518.4L1175.25 518.5L1176.31 518.4L1177.37 518.3L1178.43 517.7L1179.49 518.3L1180.55 518.1L1181.61 518.5L1182.67 518.5L1183.73 518.8L1184.79 518.4L1185.85 518.4L1186.91 517.9L1187.97 518.2L1189.03 517.8L1190.08 518.4L1191.14 517.8L1192.2 518.1L1193.26 517.9L1194.32 518L1195.38 518.2L1196.44 517.9L1197.5 518.1L1198.56 517.7L1199.62 518.3L1200.68 517.8L1201.74 518.1L1202.8 518.4L1203.86 517.2L1204.92 517.5L1205.97 517.6L1207.03 517.9L1208.09 517.5L1209.15 517.6L1210.21 517.2L1211.27 517.4L1212.33 516.9L1213.39 517.2L1214.45 516.1L1215.51 516.1L1216.57 516.8L1217.63 516L1218.69 515.3L1219.75 515.6L1220.81 514.6L1221.86 513.8L1222.92 512.4L1223.98 511.5L1225.04 510.1L1226.1 507.9L1227.16 506.7L1228.22 504.5L1229.28 502.8L1230.34 500.5L1231.4 497.8L1232.46 495.6L1233.52 493.7L1234.58 492.1L1235.64 490.5L1236.36 490L1236.69 490L1237.03 489.9L1237.37 490L1237.71 489.8L1237.75 489.5L1238.05 489.3L1238.39 490.1L1238.73 490L1238.81 490.1L1239.07 490.3L1239.41 490.3L1239.75 490.9L1239.87 490.5L1240.08 491.3L1240.42 491.7L1240.76 492.8L1240.93 492.7L1241.1 492.8L1241.44 493.4L1241.78 494.1L1241.99 494.1L1242.12 494.4L1242.46 495L1242.8 496.3L1243.05 496.1L1243.14 495.7L1243.47 497L1243.81 498L1244.11 497.6L1244.15 498.8L1244.49 498.4L1244.83 499.2L1245.17 499.3L1245.51 499.8L1245.85 500L1246.19 500.5L1246.23 500.2L1246.53 501.4L1246.86 501.1L1247.2 501.8L1247.29 501.8L1247.54 501.7L1247.88 502.1L1248.22 502.2L1248.35 502.2L1248.56 502.3L1248.9 502.4L1249.24 502.1L1249.41 502L1249.58 502.1L1249.92 502.2L1250.25 502.4L1250.47 502.3L1250.59 501.9L1250.93 501.8L1251.27 501.2L1251.53 501.2L1251.61 500.8L1251.95 500.5L1252.29 499.8L1252.58 499.4L1252.63 499.8L1252.97 498.5L1253.31 498.2L1253.64 497.4L1253.98 497.1L1254.32 496.6L1254.66 495.3L1254.7 494.6L1255 494.8L1255.34 494L1255.68 492.6L1255.76 492.8L1256.02 492.3L1256.36 490.9L1256.69 490.9L1256.82 490.6L1257.03 490.1L1257.37 489L1257.71 488.4L1257.88 488.1L1258.05 488.1L1258.39 487.1L1258.73 487.3L1258.94 486.7L1259.07 485.9L1259.41 486.5L1259.75 485.8L1260 485.5L1260.08 485.6L1260.42 485L1260.76 485.6L1261.06 485L1261.1 485.4L1261.44 486.2L1261.78 486.5L1262.12 486.4L1262.46 486.8L1262.8 487.8L1263.14 488.2L1263.18 488.4L1263.47 489.1L1263.81 489.4L1264.15 490.7L1264.24 490.2L1264.49 491.8L1264.83 491.9L1265.17 493L1265.3 493.4L1265.51 494.3L1265.85 495.3L1266.19 496.2L1266.36 496.7L1266.53 497.2L1266.86 498L1267.2 498.5L1267.42 499L1267.54 499.3L1267.88 500.9L1268.22 501.7L1268.47 502.4L1268.56 502.8L1268.9 503.5L1269.24 504.1L1269.53 504.7L1269.58 504.7L1269.92 506.3L1270.25 507L1270.59 507.1L1270.93 508.1L1271.27 508.9L1271.61 509.9L1271.65 509.4L1271.95 510.1L1272.29 510.9L1272.63 510.7L1272.71 511.1L1272.97 511.6L1273.31 511.9L1273.64 513.1L1273.77 512.9L1273.98 513L1274.32 513L1274.66 513.9L1274.83 514L1275 513.8L1275.34 514.2L1275.68 514.2L1275.89 514.7L1276.02 515L1276.36 515.3L1276.69 515.4L1276.95 515.6L1277.03 515.3L1277.37 515.5L1277.71 516.2L1278.01 516.1L1278.05 515.8L1278.39 516.3L1278.73 516.5L1279.07 516.6L1279.41 516.6L1279.75 516.5L1280.08 516.8L1280.13 517.2L1280.42 516.9L1280.76 516.7L1281.1 517.1L1281.19 516.7L1281.44 517.1L1281.78 517.1L1282.12 517.5L1282.25 517.3L1282.46 517.5L1282.8 517.9L1283.14 517.3L1283.31 517.2L1283.47 517.5L1283.81 517.4L1284.15 517.6L1284.36 517.4L1284.49 517.7L1284.83 517.6L1285.42 517.1L1286.48 517.7L1287.54 518L1288.6 518.3L1289.66 517.9L1290.72 517.9L1291.78 518.5L1292.84 518.1L1293.9 518.3L1294.96 518.5L1296.02 518.6L1297.08 518.4L1298.14 518.2L1299.19 518.8L1300.25 518.4L1301.31 518.4L1302.37 519.1L1303.43 518.9L1304.49 518.4L1305.55 518.6L1306.61 518.7L1307.67 518.6L1308.73 518.3L1309.79 519L1310.85 519L1311.91 518.9L1312.97 518.8L1314.03 518.9L1315.08 519.1L1316.14 518.6L1317.2 518.8L1318.26 518.8L1319.32 519.1L1320.38 519L1321.44 518.6L1322.5 518.8L1323.56 519.5L1324.62 518.8L1325.68 519.1L1326.74 518.9L1327.8 519.4L1328.86 519L1329.92 519L1330.97 518.8L1332.03 519L1333.09 519.3L1334.15 519.3L1335.21 518.8L1336.27 519.5L1337.33 519.1L1338.39 518.9L1339.45 519.2L1340.51 519L1341.57 519L1342.63 519L1343.69 519.2L1344.75 519.1L1345.81 518.7L1346.86 519.3L1347.92 519.1L1348.98 519.5L1350.04 519.3L1351.1 519.4L1352.16 519.3L1353.22 519.6L1354.28 519.1L1355.34 519L1356.4 519.3L1357.46 518.5L1358.52 519.1L1359.58 519.3L1360.64 519.1L1361.69 519.6L1362.75 519.4L1363.81 519.3L1364.87 519.1L1365.93 519.5L1366.99 519.1L1368.05 519.1L1369.11 519.4L1370.17 519.4L1371.23 519.8L1372.29 519.2L1373.35 518.8L1374.41 519.4L1375.47 519.6L1376.53 519.2L1377.58 519.6L1378.64 519.7L1379.7 519L1380.76 519.1L1381.82 518.9L1382.88 519.3L1383.94 519.4L1385 519.3L1386.06 518.8L1387.12 518.9L1388.18 518.8L1389.24 518.7L1390.3 518.7L1391.36 518.7L1392.42 519L1393.47 519.1L1394.53 519.1L1395.59 518.9L1396.65 518.7L1397.71 518.8L1398.77 518.9L1399.83 518.6L1400.89 518.5L1401.95 518.3L1403.01 518.1L1404.07 518.1L1405.13 517.6L1406.19 518L1407.25 517L1408.31 517.3L1409.36 516.5L1410.42 516.9L1411.48 516.3L1412.54 515.5L1413.6 515.1L1414.66 514.5L1415.72 514.2L1416.78 513.8L1417.84 513.7L1418.9 512.1L1419.96 512L1421.02 510.9L1422.08 510.3L1423.14 509.7L1424.19 508.7L1425.25 507.8L1426.31 506.7L1427.37 505.8L1428.43 504.8L1429.49 504L1430.55 502.2L1431.61 501.3L1432.67 500L1433.73 499.1L1434.79 498.3L1435.85 498.1L1436.91 498L1437.97 497.7L1439.03 497.3L1440.08 498.3L1441.14 499L1442.2 500.6L1443.26 502.2L1444.32 503.6L1445.38 505.2L1446.44 506.6L1447.5 507.6L1448.56 509.1L1449.62 510.9L1450.68 512.3L1451.74 513.6L1452.8 514.2L1453.86 515.1L1454.92 515.9L1455.97 516.7L1457.03 516.9L1458.09 517.1L1459.15 518L1460.21 518.1L1461.27 518.3L1462.33 518.1L1463.39 518.6L1464.45 518.3L1465.51 518.3L1466.57 518.9L1467.63 518.9L1468.69 519.2L1469.75 519.5L1470.81 519.2L1471.86 519.7L1472.92 519.1L1473.98 519.5L1475.04 519L1476.1 519.4L1477.16 519.3L1478.22 519.4L1479.28 519.6L1480.34 519L1481.4 519.6L1482.46 519.4L1483.52 519.6L1484.58 519.7L1485.64 519.5L1486.69 519.5L1487.75 519.4L1488.81 519.8L1489.87 519.5L1490.93 519.8L1491.99 519.4L1493.05 520.1L1494.11 519.5L1495.17 520L1496.23 519.6L1497.29 519.9L1498.35 519.7L1499.41 520L1500.47 519.8L1501.53 520.1L1502.58 520L1503.64 520L1504.7 520.2L1505.76 519.6L1506.82 520.2L1507.88 519.8L1508.94 519.4L1510 520L1511.06 519.8L1512.12 520.3L1513.18 519.7L1514.24 519.8L1515.3 519.9L1516.36 519.3L1517.42 520L1518.47 519.6L1519.53 520.2L1520.59 520.3L1521.65 519.8L1522.71 519.4L1523.77 519.9L1524.83 519.9L1525.89 520L1526.95 519.7L1528.01 519.5L1529.07 519.8L1530.13 519.6L1531.19 520.2L1532.25 519.6L1533.31 519.6L1534.36 519.8L1535.42 519.4L1536.48 519.6L1537.54 519.7L1538.6 519.6L1539.66 519.6L1540.72 520L1541.78 519.8L1542.84 519.3L1543.9 519.5L1544.96 519.8L1546.02 519.4L1547.08 519.5L1548.14 519.4L1549.19 519.5L1550.25 519.3L1551.31 519.2L1552.37 518.9L1553.43 519.1L1554.49 518.6L1555.55 519.2L1556.61 518.6L1557.67 518.3L1558.73 518.3L1559.79 517.9L1560.85 517.6L1561.91 517.3L1562.97 516.7L1564.03 516.3L1565.08 516L1566.14 516L1567.2 515.1L1568.26 514.7L1569.32 514.2L1570.38 514L1571.44 513.8L1572.5 512.6L1573.56 512.6L1574.62 512.1L1575.68 511.7L1576.74 511.7L1577.8 511L1578.86 511.5L1579.92 511.4L1580.97 511.2L1582.03 512L1583.09 512.1L1584.15 512.5L1585.21 512.2L1586.27 512.9L1587.33 513.2L1588.39 513.8L1589.45 514.3L1590.51 513.8L1591.57 514.6L1592.63 514.7L1593.69 515.1L1594.75 514.9L1595.81 514.6L1596.86 514.8L1597.92 514.4L1598.98 514.3L1600.04 514.2L1601.1 513.7L1602.16 513.5L1603.22 512.5L1604.28 513L1605.34 512.2L1606.4 511.6L1607.46 510.6L1608.52 510L1609.58 510.1L1610.64 510L1611.69 510.6L1612.75 510.5L1613.81 510.2L1614.87 511L1615.93 511.5L1616.99 511.7L1618.05 512.6L1619.11 513L1620.17 513.4L1621.23 513.9L1622.29 514.8L1623.35 515.6L1624.41 515.6L1625.47 516L1626.53 517.1L1627.58 516.6L1628.64 518.2L1629.7 517.9L1630.76 518.5L1631.82 519L1632.88 518.4L1633.94 518.7L1635 519.7L1636.06 519.1L1637.12 519.3L1638.18 519.5L1639.24 519.7L1640.3 519.9L1641.36 519.6L1642.42 519.5L1643.47 519.7L1644.53 519.8L1645.59 520.1L1646.65 519.8L1647.71 520.2L1648.77 519.6L1649.83 519.9L1650.89 520.3L1651.95 520.2L1653.01 519.9L1654.07 519.6L1655.13 519.7L1656.19 519.8L1657.25 520L1658.31 519.8L1659.36 519.5L1660.42 519.7L1661.48 520L1662.54 520.1L1663.6 519.5L1664.66 519.8L1665.72 519.5L1666.78 519.8L1667.84 520.8L1668.9 519.9L1669.96 519.8L1671.02 519.7L1672.08 519.6L1673.14 519.4L1674.19 519.9L1675.25 519.8L1676.31 520.2L1677.37 519.4L1678.43 519.9L1679.49 520.1L1680.55 519.2L1681.61 519.9L1682.67 519.3L1683.73 519.8L1684.79 520L1685.85 519.5L1686.91 519.5L1687.97 519.2L1689.03 519.4L1690.08 519.5L1691.14 519L1692.2 518.9L1693.26 518.9L1694.32 518.9L1695.38 518.1L1696.44 518.3L1697.5 517.9L1698.56 517.9L1699.62 517.8L1700.68 517.3L1701.74 517.2L1702.8 516.3L1703.86 516L1704.92 515.4L1705.97 515.3L1707.03 514.8L1708.09 514.2L1709.15 513.4L1710.21 513.1L1711.27 512.4L1712.33 512L1713.39 511.2L1714.45 510.9L1715.51 510L1716.57 508.8L1717.63 508.5L1718.69 507.6L1719.75 507.6L1720.81 507.3L1721.86 506.5L1722.92 506.3L1723.98 505.7L1725.04 505.4L1726.1 506L1727.16 506.3L1728.22 506.4L1729.28 507.3L1730.34 507.9L1731.4 508.6L1732.46 509.5L1733.52 509.9L1734.58 510.2L1735.64 510.8L1736.69 511.5L1737.75 511.5L1738.81 512.5L1739.87 512.7L1740.93 512.7L1741.99 512.9L1743.05 514.2L1744.11 513.7L1745.17 513.9L1746.23 514.3L1747.29 514.3L1748.35 514.4L1749.41 514.8L1750.47 514.7L1751.53 515.5L1752.58 515.2L1753.64 516.1L1754.7 516.5L1755.76 516.3L1756.82 517.6L1757.88 517.1L1758.94 518L1760 517.9L1761.06 518.4L1762.12 518.4L1763.18 519.5L1764.24 519.3L1765.3 519.7L1766.36 519.6L1767.42 519.7L1768.47 519.6L1769.53 519.6L1770.59 519.9L1771.65 519.9L1772.71 519.9L1773.77 519.6L1774.83 519.9L1775.89 520.2L1776.95 520L1778.01 520.2L1779.07 520.1L1780.13 519.9L1781.19 520L1782.25 520L1783.31 520.2L1784.36 520.2L1785.42 520.5L1786.48 520L1787.54 519.8L1788.6 520.5L1789.66 520.2L1790.72 520.3L1791.78 521L1792.84 520.7L1793.9 520.5L1794.96 520.6L1796.02 520.4L1797.08 520.6L1798.14 520.2L1799.19 520.2L1800.25 520.3L1801.31 520.8L1802.37 520.8L1803.43 520.3L1804.49 520.7L1805.55 520.4L1806.61 520.7L1807.67 520.4L1808.73 520.7L1809.79 520.4L1810.85 520.4L1811.91 520.5L1812.97 520.5L1814.03 520.3L1815.08 520.2L1816.14 520.9L1817.2 520.4L1818.26 520.1L1819.32 519.9L1820.38 519.8L1821.44 520.4L1822.5 520.9L1823.56 520.1L1824.62 520.5L1825.68 520.1L1826.74 520.8L1827.8 520.7L1828.86 520.6L1829.92 520.9L1830.97 521L1832.03 520.8L1833.09 520.4L1834.15 520.2L1835.21 520.3L1836.27 520.1" stroke="#7030a0" stroke-width="6.0"/>
<path class="c" d="M223.98 306L225.04 305.5L226.1 305.6L227.16 305.7L228.22 306.2L229.28 305.6L230.34 306L231.4 305.8L232.46 305.8L233.52 305.3L234.58 306.1L235.64 305.7L236.69 305.8L237.75 306L238.81 306L239.87 306.3L240.93 305.9L241.99 306.1L243.05 306.2L244.11 306.2L245.17 306.4L246.23 306.2L247.29 306.6L248.35 306.1L249.41 306L250.47 306.4L251.53 306.7L252.58 306.3L253.64 306.3L254.7 306.4L255.76 306.6L256.82 306.5L257.88 306.7L258.94 306.2L260 307.1L261.06 306.9L262.12 306.5L263.18 307.1L264.24 306.9L265.3 307.2L266.36 306.6L267.42 307.4L268.47 307L269.53 306.5L270.59 307.2L271.65 307L272.71 306.8L273.77 307.1L274.83 306.7L275.89 307.3L276.95 307.2L278.01 307.2L279.07 307.7L280.13 307.3L281.19 307.2L282.25 307.2L283.31 307.4L284.36 307.7L285.42 307.4L286.48 307.3L287.54 307.8L288.6 307.6L289.66 307.6L290.72 308.2L291.78 307.4L292.84 307.8L293.9 307.3L294.96 307.7L296.02 308L297.08 308.2L298.14 307.6L299.19 308.2L300.25 308.2L301.31 308L302.37 308.7L303.43 308.1L304.49 307.9L305.55 308.3L306.61 307.7L307.67 308.6L308.73 308.5L309.79 308.2L310.85 308.5L311.91 308.5L312.97 308.9L314.03 308.3L315.08 308.1L316.14 308L317.2 308.4L318.26 308.1L319.32 308.5L320.38 308.7L321.44 308.5L322.5 308.4L323.56 309L324.62 308.7L325.68 308.8L326.74 309.1L327.8 308.5L328.86 308.7L329.92 309.6L330.97 308.9L332.03 308.7L333.09 309L334.15 308.9L335.21 308.8L336.27 309L337.33 309.2L338.39 309.2L339.45 309.4L340.51 308.8L341.57 308.9L342.63 309.5L343.69 309.2L344.75 309.6L345.81 309.4L346.86 308.9L347.92 309.5L348.98 309.1L350.04 309.4L351.1 309.7L352.16 309.9L353.22 309.4L354.28 309.6L355.34 309.5L356.4 309.6L357.46 308.8L358.52 309.4L359.58 309.5L360.64 309.6L361.69 309.3L362.75 309.7L363.81 309.8L364.87 309.6L365.93 309.5L366.99 309.5L368.05 309.6L369.11 309.9L370.17 310L371.23 309.5L372.29 309.4L373.35 309.4L374.41 309.9L375.47 309.7L376.53 309.8L377.58 309.8L378.64 309.8L379.7 309.7L380.76 309.5L381.82 309.6L382.88 309.8L383.94 309.9L385 309.7L386.06 309.7L387.12 310.2L388.18 309.7L389.24 309.9L390.3 309.8L391.36 309.6L392.42 309.5L393.47 309.7L394.53 309.7L395.59 310.1L396.65 309.6L397.71 309.8L398.77 310.1L399.83 309.9L400.89 310.1L401.95 310.2L403.01 309.6L404.07 309.9L405.13 309.8L406.19 310.4L407.25 310L408.31 310.2L409.36 310.5L410.42 310L411.48 310.1L412.54 310.2L413.6 310L414.66 310.4L415.72 310.3L416.78 310.4L417.84 310.2L418.9 310.1L419.96 310.1L421.02 310.1L422.08 309.8L423.14 310.3L424.19 310.4L425.25 310.2L426.31 310.1L427.37 310.3L428.43 310.3L429.49 310.4L430.55 310.7L431.61 310.1L432.67 310.4L433.73 310.5L434.79 310.3L435.85 310.3L436.91 310.1L437.97 310.2L439.03 310.5L440.08 310.7L441.14 310.2L442.2 310.5L443.26 310.5L444.32 310.7L445.38 310.5L446.44 310.5L447.5 310.7L448.56 310.2L449.62 310.5L450.68 310L451.74 310L452.8 310.3L453.86 310.1L454.92 310.6L455.97 310.8L457.03 310.4L458.09 310.5L459.15 310.5L460.21 310.5L461.27 310.6L462.33 310.6L463.39 310.4L464.45 310.4L465.51 310.4L466.57 310.8L467.63 310.5L468.69 310.9L469.75 310.5L470.81 310.9L471.86 310.2L472.92 310.4L473.98 310.7L475.04 310.6L476.1 310.5L477.16 311L478.22 310.5L479.28 310.6L480.34 310.3L481.4 310.9L482.46 310.7L483.52 310.6L484.58 310L485.64 310.5L486.69 310.3L487.75 310.5L488.81 310.6L489.87 310.2L490.93 310.4L491.99 310.6L493.05 310.4L494.11 310.2L495.17 310L496.23 310.1L497.29 309.9L498.35 310.5L499.41 310.2L500.47 309.9L501.53 310.2L502.58 309.8L503.64 309.3L504.7 310.4L505.76 310.4L506.82 309.7L507.88 309.8L508.94 310L510 309.9L511.06 309.7L512.12 309.8L513.18 309.8L514.24 309.7L515.3 309.8L516.36 309.7L517.42 309.5L518.47 309.6L519.53 309.2L520.59 309.9L521.65 309L522.71 309.4L523.77 309.4L524.83 309.4L525.89 309.2L526.95 309.4L528.01 308.7L529.07 308.9L530.13 308.8L531.19 308.6L532.25 308.4L533.31 308.8L534.36 308.2L535.42 308.1L536.48 308L537.54 307.8L538.6 307.7L539.66 307.4L540.72 307.4L541.78 307.1L542.84 306.9L543.9 306.9L544.96 306L546.02 306.3L547.08 305.4L548.14 305.3L549.19 304.7L550.25 304L551.31 303L552.37 303.3L553.43 301.9L554.49 301.1L555.55 300.6L556.44 299.4L556.61 299.6L556.78 299.4L557.12 298.7L557.46 298.1L557.67 298L557.8 297.3L558.14 297.1L558.47 296.6L558.73 296L558.81 296L559.15 294.9L559.49 294.8L559.79 294.3L559.83 293.6L560.17 293.1L560.51 292.6L560.85 291.4L561.19 290L561.53 288.9L561.86 288.1L561.91 288.2L562.2 286.2L562.54 285L562.88 283.2L562.97 282.9L563.22 281.7L563.56 279.6L563.9 277.3L564.03 277.2L564.24 275.1L564.58 272.5L564.92 270L565.08 268.3L565.25 266.6L565.59 263.6L565.93 259.5L566.14 257.5L566.27 256.1L566.61 251.7L566.95 247L567.2 243.4L567.29 241.7L567.63 236.8L567.97 231.3L568.26 226.2L568.31 225.3L568.64 218.8L568.98 212.1L569.32 205.2L569.66 197.9L570 190.5L570.34 182.3L570.38 181.2L570.68 174.1L571.02 165.6L571.36 157.1L571.44 154.4L571.69 148.1L572.03 139.4L572.37 131.2L572.5 127.8L572.71 122.6L573.05 114.6L573.39 106.1L573.56 102.9L573.73 99.1L574.07 92L574.41 86.5L574.62 82.4L574.75 80.7L575.08 76.7L575.42 73.8L575.68 72.2L575.76 71.3L576.1 71.1L576.44 71.8L576.74 74L576.78 74.1L577.12 76.8L577.46 80.7L577.8 86.2L578.14 91.9L578.47 99L578.81 106.5L578.86 107.3L579.15 114.4L579.49 122.5L579.83 131L579.92 133.6L580.17 139.9L580.51 148.4L580.85 156.9L580.97 160.4L581.19 165.8L581.53 174.3L581.86 182.7L582.03 186.4L582.2 190L582.54 198.4L582.88 205.6L583.09 209.9L583.22 212.6L583.56 218.6L583.9 225.2L584.15 229.7L584.24 231.6L584.58 236.6L584.92 242.1L585.21 246.8L585.25 247.2L585.59 251.5L585.93 256.3L586.27 259.4L586.61 263.5L586.95 266.7L587.29 269.9L587.33 270.1L587.63 272.4L587.97 275.2L588.31 277.2L588.39 278.2L588.64 279.6L588.98 281.9L589.32 283.3L589.45 283.9L589.66 285.2L590 286.9L590.34 287.4L590.51 288.6L590.68 289.3L591.02 289.9L591.36 291.1L591.57 292.1L591.69 292.1L592.03 293L592.37 294.4L592.63 294.3L592.71 294.5L593.05 294.8L593.39 295.7L593.69 296.2L593.73 297L594.07 297.4L594.41 297.4L594.75 298.6L595.08 298.8L595.42 299L595.76 299.6L595.81 299.6L596.86 300.4L597.92 301.1L598.98 302.2L600.04 303.1L601.1 303.7L602.16 304.1L603.22 305.1L604.28 305L605.34 305.9L606.4 306L607.46 306.4L608.52 306.4L609.58 307L610.64 307L611.69 307L612.75 307.7L613.81 307.9L614.87 308.3L615.93 308.3L616.99 308.1L618.05 308.4L619.11 308.1L620.17 308.5L621.23 309.2L622.29 309.4L623.35 309.3L624.41 309.3L625.47 309.5L626.53 309.5L627.58 309L628.64 309.3L629.7 309.9L630.76 310L631.82 309.8L632.88 309.7L633.94 309.8L635 309.8L636.06 309.7L637.12 309.5L638.18 310.1L639.24 310L640.3 310.1L641.36 310.6L642.42 310.4L643.47 310.1L644.53 310.4L645.59 310L646.65 310.6L647.71 310.5L648.77 310.4L649.83 310.6L650.89 310.9L651.95 310.4L653.01 310.3L654.07 311.1L655.13 310.6L656.19 311L657.25 310.5L658.31 310.8L659.36 310.5L660.42 310.9L661.48 310.7L662.54 310.6L663.6 311.2L664.66 310.9L665.72 310.3L666.78 310.8L667.84 310.6L668.9 310.6L669.96 310.7L671.02 310.8L672.08 310.9L673.14 310.7L674.19 310.5L675.25 310.8L676.31 311.2L677.37 310.6L678.43 311.1L679.49 311.1L680.55 310.9L681.61 311.1L682.67 310.8L683.73 310.9L684.79 310.8L685.85 311.2L686.91 311.4L687.97 310.9L689.03 311.4L690.08 310.6L691.14 310.9L692.2 310.9L693.26 311.6L694.32 311L695.38 311.3L696.44 310.7L697.5 311.2L698.56 311.3L699.62 311.2L700.68 310.5L701.74 311.2L702.8 311.4L703.86 311.5L704.92 311.3L705.97 310.8L707.03 311.2L708.09 311.5L709.15 311.1L710.21 311.4L711.27 311.2L712.33 311.3L713.39 311.5L714.45 311.1L715.51 312L716.57 311.3L717.63 311.4L718.69 311.1L719.75 311.3L720.81 311.3L721.86 311L722.92 311L723.98 311.4L725.04 311.3L726.1 310.7L727.16 310.8L728.22 311.3L729.28 311.4L730.34 311.5L731.4 311.1L732.46 311.5L733.52 311.3L734.58 311.3L735.64 311.4L736.69 311.7L737.75 311.5L738.81 311.6L739.87 311.2L740.93 311.4L741.99 311.1L743.05 311.3L744.11 311.3L745.17 311.3L746.23 311.6L747.29 311.6L748.35 311.6L749.41 311.5L750.47 311.7L751.53 311.5L752.58 311.7L753.64 311.6L754.7 311.7L755.76 311.5L756.82 311.2L757.88 311.1L758.94 312L760 311.6L761.06 311.6L762.12 311.4L763.18 311.4L764.24 312.2L765.3 311.2L766.36 311.5L767.42 311.5L768.47 311.2L769.53 311.2L770.59 311.3L771.65 311.4L772.71 311.4L773.77 311.7L774.83 311.2L775.89 311.6L776.95 311.9L778.01 311.7L779.07 311.2L780.13 310.8L781.19 311.7L782.25 311.6L783.31 311.4L784.36 311.8L785.42 311.4L786.48 311.5L787.54 311.2L788.6 311.6L789.66 311.4L790.72 311.4L791.78 311.7L792.84 311.5L793.9 311.1L794.96 311.6L796.02 311.7L797.08 311.2L798.14 311.3L799.19 311.4L800.25 311.4L801.31 311.4L802.37 311.6L803.43 311.3L804.49 311.9L805.55 311.2L806.61 311.2L807.67 311.8L808.73 311.9L809.79 311.3L810.85 311.2L811.91 311L812.97 311.5L814.03 311.3L815.08 311L816.14 311.3L817.2 311.5L818.26 311.3L819.32 311.6L820.38 311.3L821.44 311.1L822.5 310.9L823.56 311L824.62 311.1L825.68 310.9L826.74 310.8L827.8 310.4L828.86 310.3L829.92 310.1L830.97 309.3L832.03 308.6L833.09 308.7L834.15 307.6L835.21 306.4L836.27 305.4L837.33 304.1L838.39 302.4L839.45 301.4L840.34 299.9L840.51 300.1L840.68 299.8L841.02 299.7L841.36 299L841.57 298.9L841.69 298.6L842.03 298.2L842.37 297.6L842.63 298L842.71 297.7L843.05 297.3L843.39 297.3L843.69 296.9L843.73 296.8L844.07 296.9L844.41 297.1L844.75 296.6L845.08 296.3L845.42 296.5L845.76 297.2L845.81 296.6L846.1 297.1L846.44 296.9L846.78 297.3L846.86 297.1L847.12 296.8L847.46 297.3L847.8 298.1L847.92 297.6L848.14 297.9L848.47 297.9L848.81 298.2L848.98 298.4L849.15 298.5L849.49 299.2L849.83 298.8L850.04 298.8L850.17 298.8L850.51 298.8L850.85 298.8L851.1 299.4L851.19 298.8L851.53 299.7L851.86 299.6L852.16 299.3L852.2 299.1L852.54 299.3L852.88 299.3L853.22 299.4L853.56 298.8L853.9 298.6L854.24 298.5L854.28 298.4L854.58 298L854.92 297.4L855.25 297L855.34 297.1L855.59 296.9L855.93 296.7L856.27 296.5L856.4 296.1L856.61 295.4L856.95 295.1L857.29 294L857.46 293.5L857.63 293.9L857.97 292.3L858.31 291.6L858.52 291.1L858.64 291.3L858.98 289.9L859.32 289.4L859.58 288.4L859.66 288L860 287.4L860.34 286.5L860.64 285.3L860.68 285.3L861.02 284.3L861.36 283.8L861.69 282.8L862.03 281.8L862.37 281L862.71 279.9L862.75 280.1L863.05 279.1L863.39 278.2L863.73 277.7L863.81 277.7L864.07 277.2L864.41 276.9L864.75 275.8L864.87 276L865.08 275.9L865.42 275.3L865.76 275.4L865.93 275.2L866.1 275L866.44 275.5L866.78 275L866.99 275.7L867.12 275.4L867.46 275.6L867.8 275.9L868.05 276.3L868.14 276.4L868.47 277.2L868.81 277.2L869.11 278.5L869.15 278.5L869.49 279.3L869.83 279.4L870.17 279.8L870.51 280.9L870.85 281.8L871.19 282.6L871.23 282.5L871.53 283.3L871.86 284.1L872.2 284.4L872.29 285.4L872.54 285.2L872.88 286.2L873.22 287L873.35 286.8L873.56 287.4L873.9 288.3L874.24 288.4L874.41 289L874.58 289L874.92 289.5L875.25 290L875.47 290.1L875.59 290.2L875.93 290.9L876.27 291L876.53 291.3L876.61 290.9L876.95 291.5L877.29 292.1L877.58 292.2L877.63 292.1L877.97 292L878.31 292.2L878.64 292.7L878.98 293.1L879.32 292.9L879.66 293.4L879.7 293.1L880 293.6L880.34 293.3L880.68 293.8L880.76 293.6L881.02 294.2L881.36 294.5L881.69 294.4L881.82 294.6L882.03 294.9L882.37 295L882.71 295.6L882.88 295.8L883.05 296.4L883.39 297L883.73 297L883.94 297.4L884.07 297.7L884.41 298L884.75 298.6L885 299.2L885.08 299.2L885.42 299.7L885.76 300.1L886.06 301L886.1 300.6L886.44 301.3L886.78 301.5L887.12 302.2L887.46 302.8L887.8 303.2L888.14 303.9L888.18 303.8L888.47 303.9L888.81 304.1L889.15 305.3L889.24 305.1L889.49 305.9L889.83 305.9L890.17 306.1L890.3 306.5L890.51 306.6L890.85 307L891.19 307L891.36 307.6L891.53 307.8L891.86 307.7L892.42 308.7L893.47 308.8L894.53 309.5L895.59 309.4L896.65 309.7L897.71 310.9L898.77 310.9L899.83 311L900.89 310.4L901.95 311L903.01 311.1L904.07 311.1L905.13 311.3L906.19 311L907.25 311.3L908.31 311.1L909.36 311.3L910.42 311.5L911.48 311.3L912.54 311.4L913.6 311.4L914.66 311.6L915.72 311.8L916.78 311.7L917.84 311.8L918.9 311.3L919.96 311.6L921.02 311.9L922.08 311.5L923.14 311.7L924.19 311.6L925.25 312.2L926.31 311.7L927.37 311.7L928.43 312L929.49 312.2L930.55 312L931.61 312.2L932.67 312L933.73 311.9L934.79 311.8L935.85 311.8L936.91 311.8L937.97 312.1L939.03 312L940.08 312L941.14 312.2L942.2 312L943.26 311.7L944.32 311.9L945.38 311.8L946.44 311.6L947.5 312.1L948.56 311.8L949.62 311.8L950.68 311.8L951.74 312.3L952.8 312L953.86 312.4L954.92 312.1L955.97 312L957.03 312.3L958.09 312.3L959.15 312.2L960.21 311.9L961.27 312.1L962.33 311.9L963.39 312.1L964.45 312.2L965.51 312.6L966.57 312.6L967.63 312.4L968.69 312.4L969.75 312.3L970.81 312.9L971.86 312.6L972.92 312.9L973.98 312.3L975.04 312.3L976.1 312.5L977.16 312.3L978.22 312.3L979.28 312L980.34 312.5L981.4 312.3L982.46 312.5L983.52 312.2L984.58 311.8L985.64 312.4L986.69 312.6L987.75 312L988.81 312L989.87 312.2L990.93 312.2L991.99 311.9L993.05 312.7L994.11 312.6L995.17 312.1L996.23 311.9L997.29 312.4L998.35 312.8L999.41 312.5L1000.47 312.6L1001.53 312.1L1002.58 312.4L1003.64 311.9L1004.7 312.8L1005.76 312.5L1006.82 311.8L1007.88 311.9L1008.94 312.4L1010 312.4L1011.06 312.3L1012.12 312.5L1013.18 312.8L1014.24 312.4L1015.3 311.9L1016.36 312.3L1017.42 312L1018.47 312.1L1019.53 312.4L1020.59 312.3L1021.65 312.1L1022.71 312.3L1023.77 312.1L1024.83 312.5L1025.89 312.3L1026.95 312.4L1028.01 312.3L1029.07 312.5L1030.13 312.3L1031.19 312.3L1032.25 312.2L1033.31 312.3L1034.36 311.9L1035.42 313L1036.48 312.1L1037.54 312.3L1038.6 312.2L1039.66 312.1L1040.72 312.4L1041.78 312.1L1042.84 312.1L1043.9 311.9L1044.96 312L1046.02 311.9L1047.08 312.6L1048.14 311.9L1049.19 311.9L1050.25 312.2L1051.31 312.5L1052.37 311.7L1053.43 311.7L1054.49 312.1L1055.55 312.1L1056.61 311.7L1057.67 311.6L1058.73 311.7L1059.79 312.1L1060.85 311.9L1061.91 312.1L1062.97 311.8L1064.03 311.8L1065.08 311.9L1066.14 311.7L1067.2 311.7L1068.26 311.4L1069.32 311.4L1070.38 311.6L1071.44 311.3L1072.5 311.1L1073.56 311.3L1074.62 311.2L1075.68 310.9L1076.74 310.6L1077.8 310.8L1078.86 311L1079.83 310L1079.92 309.8L1080.17 309.9L1080.51 309.8L1080.85 309.6L1080.97 309.6L1081.19 310L1081.53 309.9L1081.86 310L1082.03 309.7L1082.2 309.3L1082.54 309.6L1082.88 309L1083.09 309L1083.22 308.8L1083.56 309.2L1083.9 308.9L1084.15 308.4L1084.24 308.4L1084.58 308.3L1084.92 308.1L1085.21 308L1085.25 307.8L1085.59 307.6L1085.93 306.8L1086.27 306.8L1086.61 306L1086.95 306.5L1087.29 305.9L1087.33 305.7L1087.63 305.4L1087.97 305.1L1088.31 304.2L1088.39 303.4L1088.64 303.2L1088.98 302L1089.32 301.6L1089.45 301.2L1089.66 301L1090 300.1L1090.34 298.8L1090.51 298.5L1090.68 298.1L1091.02 296.8L1091.36 295.6L1091.57 294.2L1091.69 294.2L1092.03 293.1L1092.37 291.5L1092.63 289.9L1092.71 289.8L1093.05 288.3L1093.39 286.3L1093.69 285.1L1093.73 284.5L1094.07 282.8L1094.41 280.9L1094.75 279.5L1095.08 276.8L1095.42 274.7L1095.76 272.9L1095.81 272.3L1096.1 270.6L1096.44 267.9L1096.78 266.4L1096.86 265.8L1097.12 264L1097.46 262.6L1097.8 260.3L1097.92 259.6L1098.14 258.2L1098.47 256.4L1098.81 255.2L1098.98 254.2L1099.15 254.1L1099.49 253L1099.83 251.7L1100.04 251L1100.17 251.1L1100.51 250.5L1100.85 250.7L1101.1 250.8L1101.19 250.7L1101.53 251.2L1101.86 252.1L1102.16 253.1L1102.2 252.7L1102.54 254.1L1102.88 255.2L1103.22 256.6L1103.56 258.9L1103.9 260.5L1104.24 262.3L1104.28 262.6L1104.58 264.3L1104.92 266.1L1105.25 268.9L1105.34 269.2L1105.59 270.7L1105.93 273L1106.27 275.1L1106.4 275.6L1106.61 277.1L1106.95 278.9L1107.29 281.1L1107.46 281.8L1107.63 283.5L1107.97 284.6L1108.31 286.7L1108.52 287.7L1108.64 288.2L1108.98 290.1L1109.32 291.4L1109.58 292.5L1109.66 292.9L1110 294.1L1110.34 295.9L1110.64 296.8L1110.68 297.1L1111.02 297.6L1111.36 299.1L1111.69 299.8L1112.03 301L1112.37 302.1L1112.71 302.6L1112.75 302.6L1113.05 303.6L1113.39 304.2L1113.73 305L1113.81 304.2L1114.07 305.2L1114.41 305.5L1114.75 305.8L1114.87 306.2L1115.08 306.2L1115.42 306.3L1115.76 307L1115.93 307.3L1116.1 308L1116.44 307.6L1116.78 307.7L1116.99 307.7L1117.12 308.2L1117.46 308.4L1117.8 308.7L1118.05 308.5L1118.14 308.7L1118.47 308.5L1118.81 309.2L1119.11 308.9L1119.15 308.6L1119.49 309.7L1119.83 309.7L1120.17 309.8L1120.51 309.9L1120.85 309.6L1121.19 310.3L1121.23 309.7L1121.53 310.5L1122.29 310.3L1123.35 310L1124.41 310.9L1125.47 311.3L1126.53 310.9L1127.58 311.3L1128.64 311.1L1129.7 311.1L1130.76 310.7L1131.82 311.8L1132.88 311.4L1133.94 311.7L1135 311.4L1136.06 311.5L1137.12 312L1138.18 311.7L1139.24 311.7L1140.3 311.6L1141.36 312L1142.42 312.1L1143.47 311.9L1144.53 312L1145.59 311.7L1146.65 312.4L1147.71 311.9L1148.77 312.1L1149.83 312.5L1150.89 312.1L1151.95 311.8L1153.01 311.9L1154.07 312.1L1155.13 312.6L1156.19 312.3L1157.25 312.2L1158.31 312.4L1159.36 312.6L1160.42 312L1161.48 312.6L1162.54 312.5L1163.6 312.4L1164.66 311.7L1165.72 312.3L1166.78 312.6L1167.84 312.2L1168.9 312.9L1169.96 312.3L1171.02 312L1172.08 312.4L1173.14 312.3L1174.19 312.5L1175.25 312.2L1176.31 312.6L1177.37 312.1L1178.43 312.3L1179.49 311.9L1180.55 312L1181.61 312.3L1182.67 312.1L1183.73 312.1L1184.79 312.2L1185.85 312.3L1186.91 312.4L1187.97 312.4L1189.03 312.4L1190.08 312.2L1191.14 312L1192.2 311.7L1193.26 312L1194.32 311.9L1195.38 311.6L1196.44 312.4L1197.5 311.5L1198.56 312.1L1199.62 312.1L1200.68 311.9L1201.74 312.5L1202.8 311.8L1203.86 311.6L1204.92 312.2L1205.97 311.5L1207.03 311.3L1208.09 311.3L1209.15 311.4L1210.21 311.5L1211.27 311.4L1212.33 310.9L1213.39 311.2L1214.45 311.6L1215.51 310.7L1216.57 310.7L1217.63 310.6L1218.69 310.5L1219.75 309.7L1220.81 309.2L1221.86 308.6L1222.92 308.5L1223.98 307.6L1225.04 305.8L1226.1 304.6L1227.16 303.5L1228.22 301.8L1229.28 300.4L1230.34 298.3L1231.4 296.5L1232.46 293.8L1233.52 291.2L1234.58 289.1L1235.64 286.3L1236.69 284.1L1237.75 282.9L1237.97 282.8L1238.31 281.8L1238.64 282.1L1238.81 282L1238.98 281.5L1239.32 281.5L1239.66 281.3L1239.87 281.4L1240 281.5L1240.34 281.1L1240.68 281.7L1240.93 281.8L1241.02 281.8L1241.36 281.3L1241.69 281.6L1241.99 282.5L1242.03 282.3L1242.37 282.6L1242.71 283L1243.05 283.3L1243.39 284.1L1243.73 284.5L1244.07 285.1L1244.11 285.4L1244.41 285.5L1244.75 286.7L1245.08 286.4L1245.17 287.7L1245.42 287.2L1245.76 288.3L1246.1 288.9L1246.23 288.9L1246.44 289.4L1246.78 289.8L1247.12 289.9L1247.29 290.6L1247.46 291.1L1247.8 291.1L1248.14 291.2L1248.35 291.8L1248.47 292.2L1248.81 292.5L1249.15 293L1249.41 293.1L1249.49 293.1L1249.83 292.7L1250.17 293.9L1250.47 293.5L1250.51 293.7L1250.85 293.4L1251.19 293.5L1251.53 293.5L1251.86 293.7L1252.2 293.5L1252.54 293.1L1252.58 293.4L1252.88 292.5L1253.22 292.4L1253.56 291.8L1253.64 292.1L1253.9 291.4L1254.24 291.2L1254.58 290.8L1254.7 289.6L1254.92 290.3L1255.25 289.2L1255.59 288.4L1255.76 287.6L1255.93 287.7L1256.27 286.4L1256.61 286.3L1256.82 285.7L1256.95 285.9L1257.29 284.6L1257.63 284.1L1257.88 283.6L1257.97 283.6L1258.31 282.2L1258.64 281.7L1258.94 280.5L1258.98 280.5L1259.32 280L1259.66 279.4L1260 278.6L1260.34 278.2L1260.68 278.1L1261.02 277.4L1261.06 277.4L1261.36 277L1261.69 277.4L1262.03 277.4L1262.12 277L1262.37 276.9L1262.71 277.5L1263.05 277.5L1263.18 277.3L1263.39 277.3L1263.73 277.9L1264.07 279.2L1264.24 278.7L1264.41 280L1264.75 279.9L1265.08 280.6L1265.3 281.5L1265.42 281.4L1265.76 282.4L1266.1 283L1266.36 283.7L1266.44 284L1266.78 285.3L1267.12 286.1L1267.42 286.6L1267.46 287.4L1267.8 288.2L1268.14 289.3L1268.47 290.2L1268.81 290.8L1269.15 292.8L1269.49 293.3L1269.53 293.7L1269.83 294.7L1270.17 295.6L1270.51 296.3L1270.59 296.5L1270.85 297.2L1271.19 298.2L1271.53 299L1271.65 299L1271.86 299.8L1272.2 300.5L1272.54 301.3L1272.71 301.5L1272.88 302.2L1273.22 302.6L1273.56 303.4L1273.77 303.5L1273.9 303.6L1274.24 304L1274.58 304.8L1274.83 305.3L1274.92 305.6L1275.25 305.7L1275.59 306L1275.89 306.4L1275.93 306.9L1276.27 307L1276.61 307.2L1276.95 307.8L1277.29 307.6L1277.63 308.2L1277.97 308.4L1278.01 308.4L1278.31 308.4L1278.64 309.2L1278.98 309.5L1279.07 308.8L1279.32 309.3L1279.66 309.6L1280 310.2L1280.13 309.6L1280.34 309.5L1280.68 309.9L1281.02 310.5L1281.19 310.1L1281.36 310.2L1281.69 310.7L1282.03 309.8L1282.25 309.8L1282.37 310.6L1282.71 310.7L1283.05 310.2L1283.31 310.8L1283.39 310.7L1283.73 310.8L1284.07 310.6L1284.36 310.7L1284.41 310.6L1284.75 310.9L1285.08 310.9L1285.42 311.4L1285.76 311.2L1286.1 310.7L1286.44 311.2L1286.48 311.5L1287.54 311.3L1288.6 311.6L1289.66 311.5L1290.72 311.7L1291.78 311.4L1292.84 311.9L1293.9 311.4L1294.96 312.1L1296.02 311.5L1297.08 311.4L1298.14 312.1L1299.19 312L1300.25 312.1L1301.31 312.2L1302.37 312.1L1303.43 311.9L1304.49 312.2L1305.55 312.3L1306.61 312.3L1307.67 312.8L1308.73 312.1L1309.79 312.3L1310.85 312.5L1311.91 312.2L1312.97 312L1314.03 312.2L1315.08 312.6L1316.14 312.3L1317.2 312.6L1318.26 312.2L1319.32 312.5L1320.38 312.3L1321.44 312.2L1322.5 312.5L1323.56 312.5L1324.62 312.9L1325.68 312.1L1326.74 312.6L1327.8 312.9L1328.86 312.9L1329.92 312.4L1330.97 312.4L1332.03 312.4L1333.09 312.6L1334.15 312.6L1335.21 312.6L1336.27 312.7L1337.33 312.3L1338.39 312.3L1339.45 312.3L1340.51 312.2L1341.57 312.5L1342.63 312.7L1343.69 313.2L1344.75 312.7L1345.81 312.6L1346.86 313L1347.92 312.4L1348.98 312.7L1350.04 312.8L1351.1 312.8L1352.16 312.7L1353.22 312.5L1354.28 312.3L1355.34 312.6L1356.4 312.4L1357.46 312.8L1358.52 312.6L1359.58 312.7L1360.64 312.2L1361.69 312.8L1362.75 312.4L1363.81 312.2L1364.87 312.2L1365.93 312.4L1366.99 312.9L1368.05 312.7L1369.11 312.3L1370.17 312.6L1371.23 312.5L1372.29 312.1L1373.35 312.3L1374.41 312L1375.47 312.3L1376.53 311.8L1377.58 312.3L1378.64 312.2L1379.7 312.3L1380.76 312.3L1381.82 312.7L1382.88 312.3L1383.94 312.5L1385 312.6L1386.06 312.6L1387.12 312.5L1388.18 312.2L1389.24 312L1390.3 312.1L1391.36 312.1L1392.42 312.2L1393.47 312.2L1394.53 312.4L1395.59 312.1L1396.65 312.5L1397.71 312.2L1398.77 311.8L1399.83 312L1400.89 311L1401.95 311.9L1403.01 311.5L1404.07 311.3L1405.13 310.6L1406.19 311.5L1407.25 310.5L1408.31 310.2L1409.36 310.2L1410.42 309.5L1411.48 308.9L1412.54 308.8L1413.6 307.9L1414.66 307.8L1415.72 307.1L1416.78 306.7L1417.84 305.4L1418.9 305.3L1419.96 304.3L1421.02 303.9L1422.08 302.4L1423.14 302.2L1424.19 300.9L1425.25 300L1426.31 298.6L1427.37 297.8L1428.43 296.7L1429.49 295.2L1430.55 293.9L1431.61 292.9L1432.67 292.3L1433.73 290.8L1434.79 290.1L1435.85 289.1L1436.91 288.6L1437.97 288.4L1439.03 288.4L1440.08 289.4L1441.14 290.1L1442.2 291.3L1443.26 292.4L1444.32 294.5L1445.38 295.9L1446.44 297.7L1447.5 299.8L1448.56 300.9L1449.62 302.6L1450.68 304.2L1451.74 305.6L1452.8 306.3L1453.86 307.4L1454.92 308.3L1455.97 308.6L1457.03 308.9L1458.09 309.5L1459.15 310.5L1460.21 310.7L1461.27 310.6L1462.33 311L1463.39 311.3L1464.45 311.4L1465.51 311.6L1466.57 312.3L1467.63 311.6L1468.69 312L1469.75 311.8L1470.81 311.9L1471.86 311.9L1472.92 312.1L1473.98 312L1475.04 312.3L1476.1 312.3L1477.16 312.1L1478.22 312.8L1479.28 312L1480.34 312.5L1481.4 313L1482.46 312.2L1483.52 312.8L1484.58 312.8L1485.64 312.6L1486.69 312L1487.75 312.9L1488.81 312.6L1489.87 312.4L1490.93 312.9L1491.99 312.4L1493.05 312.8L1494.11 312.4L1495.17 312.7L1496.23 312.3L1497.29 312.5L1498.35 312.4L1499.41 312.4L1500.47 312.7L1501.53 312.6L1502.58 312.7L1503.64 313L1504.7 312.6L1505.76 312.2L1506.82 312.6L1507.88 312.7L1508.94 312.9L1510 312.9L1511.06 312.9L1512.12 312.6L1513.18 312.8L1514.24 312.3L1515.3 313L1516.36 312.8L1517.42 312.8L1518.47 312.6L1519.53 312.7L1520.59 312.5L1521.65 312.8L1522.71 312.3L1523.77 312.9L1524.83 312.8L1525.89 313.2L1526.95 312.7L1528.01 312.6L1529.07 312.7L1530.13 312.7L1531.19 312.6L1532.25 312.4L1533.31 312.4L1534.36 312.5L1535.42 312.5L1536.48 312.3L1537.54 312.3L1538.6 312.5L1539.66 312.8L1540.72 312.5L1541.78 312.7L1542.84 312.8L1543.9 312.7L1544.96 312.4L1546.02 312.3L1547.08 311.9L1548.14 312.2L1549.19 312.4L1550.25 312L1551.31 312.6L1552.37 312.5L1553.43 312L1554.49 312.2L1555.55 311.5L1556.61 311.5L1557.67 311.5L1558.73 311.4L1559.79 311.1L1560.85 310.7L1561.91 311.2L1562.97 310.5L1564.03 310.2L1565.08 310L1566.14 309.5L1567.2 309L1568.26 308.5L1569.32 307.7L1570.38 308.1L1571.44 307L1572.5 306.4L1573.56 306.2L1574.62 305.5L1575.68 306.1L1576.74 305.3L1577.8 305.3L1578.86 305.1L1579.92 304.8L1580.97 304.8L1582.03 304.5L1583.09 304.8L1584.15 304.9L1585.21 305.3L1586.27 305.4L1587.33 306.3L1588.39 306.5L1589.45 306.6L1590.51 306.5L1591.57 307.4L1592.63 307.8L1593.69 307.7L1594.75 307.6L1595.81 308.1L1596.86 308.3L1597.92 307.5L1598.98 308L1600.04 307.3L1601.1 307.5L1602.16 307.6L1603.22 306.8L1604.28 306.5L1605.34 305.8L1606.4 305.4L1607.46 305.5L1608.52 304.8L1609.58 304L1610.64 303.6L1611.69 303.5L1612.75 303.9L1613.81 303.4L1614.87 303.8L1615.93 303.7L1616.99 303.8L1618.05 304.9L1619.11 305.1L1620.17 305.5L1621.23 306.1L1622.29 306.7L1623.35 307.3L1624.41 307.7L1625.47 308.9L1626.53 309.2L1627.58 309.8L1628.64 309.9L1629.7 310.5L1630.76 310.8L1631.82 311.3L1632.88 311.5L1633.94 311.6L1635 311.5L1636.06 311.5L1637.12 311.7L1638.18 311.9L1639.24 312L1640.3 311.9L1641.36 312.7L1642.42 312.4L1643.47 311.9L1644.53 312.1L1645.59 312.1L1646.65 312.5L1647.71 312.8L1648.77 312.3L1649.83 312.7L1650.89 312.5L1651.95 312.9L1653.01 312.9L1654.07 312.7L1655.13 312.8L1656.19 312.6L1657.25 312.5L1658.31 312.3L1659.36 312.7L1660.42 312.6L1661.48 312.6L1662.54 312.6L1663.6 312.6L1664.66 312.4L1665.72 312.5L1666.78 313L1667.84 312.6L1668.9 313L1669.96 312.4L1671.02 312.3L1672.08 312.7L1673.14 312.8L1674.19 312.5L1675.25 312.8L1676.31 312.9L1677.37 312.9L1678.43 312.6L1679.49 312.6L1680.55 312.1L1681.61 312.5L1682.67 312.6L1683.73 312.8L1684.79 312.1L1685.85 312.2L1686.91 312.1L1687.97 312.5L1689.03 311.6L1690.08 311.9L1691.14 312.6L1692.2 312.1L1693.26 311.5L1694.32 311.7L1695.38 311.8L1696.44 311.5L1697.5 311.2L1698.56 310.8L1699.62 311L1700.68 310.6L1701.74 310.5L1702.8 310.1L1703.86 309.6L1704.92 309.7L1705.97 308.9L1707.03 308.7L1708.09 308L1709.15 307.7L1710.21 307.2L1711.27 306.6L1712.33 306.4L1713.39 306.1L1714.45 305.7L1715.51 305L1716.57 304L1717.63 303.9L1718.69 303L1719.75 302.8L1720.81 301.5L1721.86 301.7L1722.92 300.7L1723.98 300.8L1725.04 300.1L1726.1 300.3L1727.16 300L1728.22 299.7L1729.28 300.2L1730.34 300.7L1731.4 301.2L1732.46 301.1L1733.52 301.9L1734.58 302.5L1735.64 303.2L1736.69 303.8L1737.75 304L1738.81 304.2L1739.87 305.1L1740.93 305.2L1741.99 305.8L1743.05 305.7L1744.11 306.2L1745.17 306L1746.23 306.5L1747.29 306.6L1748.35 306.9L1749.41 306.8L1750.47 307.3L1751.53 307.4L1752.58 307.8L1753.64 308.4L1754.7 309.3L1755.76 309L1756.82 309.5L1757.88 309.7L1758.94 310.3L1760 310.5L1761.06 310.9L1762.12 311.1L1763.18 311.8L1764.24 311.8L1765.3 311.3L1766.36 312L1767.42 312.1L1768.47 311.6L1769.53 312.1L1770.59 312.3L1771.65 312.3L1772.71 312.6L1773.77 312.2L1774.83 312.9L1775.89 313L1776.95 312.9L1778.01 312.8L1779.07 312.9L1780.13 312.8L1781.19 313.2L1782.25 313.1L1783.31 313.5L1784.36 312.9L1785.42 313.4L1786.48 312.9L1787.54 313L1788.6 312.8L1789.66 313.2L1790.72 313.1L1791.78 313.3L1792.84 313.5L1793.9 313.1L1794.96 313.2L1796.02 313.4L1797.08 313.1L1798.14 313L1799.19 313.3L1800.25 313.3L1801.31 313.4L1802.37 313.4L1803.43 313L1804.49 313.3L1805.55 313.5L1806.61 313.1L1807.67 313.3L1808.73 313.1L1809.79 313.3L1810.85 313.7L1811.91 313.3L1812.97 313L1814.03 313.4L1815.08 313.3L1816.14 313.6L1817.2 313L1818.26 313.1L1819.32 313.3L1820.38 312.9L1821.44 313.6L1822.5 312.8L1823.56 313.1L1824.62 313L1825.68 313.2L1826.74 313.5L1827.8 313.5L1828.86 313.6L1829.92 313.5L1830.97 312.8L1832.03 313.4L1833.09 312.9L1834.15 313.2L1835.21 313.3L1836.27 313.2" stroke="#00b050" stroke-width="6.0"/>
</g>
<g id="axes" stroke="#000" fill="none" transform="scale(1.18 1)">
<path d="M222.29 1545.5V21.35M1837.2 21.35V1545.5" stroke-width="5.3"/>
<path d="M219.58 23.8H1839.92" stroke-width="4.9"/>
<path d="M219.75 1527.4H1839.75" stroke-width="5.2"/>
<path d="M454.58 1507V1545.5M683.73 1507V1545.5M913.14 1507V1545.5M1145.76 1507V1545.5M1375.17 1507V1545.5M1607.63 1507V1545.5" stroke-width="5.3"/>
<path d="M268.9 1512V1527.4M316.02 1512V1527.4M360.25 1512V1527.4M407.46 1512V1527.4M498.81 1512V1527.4M546.02 1512V1527.4M592.71 1512V1527.4M636.61 1512V1527.4M730.93 1512V1527.4M775.17 1512V1527.4M822.29 1512V1527.4M869.07 1512V1527.4M960.25 1512V1527.4M1007.46 1512V1527.4M1052.29 1512V1527.4M1098.64 1512V1527.4M1192.54 1512V1527.4M1236.78 1512V1527.4M1283.98 1512V1527.4M1330.93 1512V1527.4M1422.29 1512V1527.4M1469.07 1512V1527.4M1513.47 1512V1527.4M1560.42 1512V1527.4M1651.44 1512V1527.4M1698.64 1512V1527.4M1745.76 1512V1527.4M1790 1512V1527.4" stroke-width="5.3"/>
</g>
<g id="labels">
<text transform="translate(262.3 1624) scale(1.275 1)" font-size="63.6" text-anchor="middle">10</text>
<text transform="translate(536.4 1624) scale(1.275 1)" font-size="63.6" text-anchor="middle">20</text>
<text transform="translate(806.8 1624) scale(1.275 1)" font-size="63.6" text-anchor="middle">30</text>
<text transform="translate(1077.5 1624) scale(1.275 1)" font-size="63.6" text-anchor="middle">40</text>
<text transform="translate(1352.0 1624) scale(1.275 1)" font-size="63.6" text-anchor="middle">50</text>
<text transform="translate(1622.7 1624) scale(1.275 1)" font-size="63.6" text-anchor="middle">60</text>
<text transform="translate(1897.0 1624) scale(1.275 1)" font-size="63.6" text-anchor="middle">70</text>
<text transform="translate(2167.9 1624) scale(1.275 1)" font-size="63.6" text-anchor="middle">80</text>
<text id="xlabel" transform="translate(1140.7 1766.2) scale(1.33 1)" font-size="64.6">2<tspan class="th" font-size="53.6" dx="0.8" dy="-1.2">θ</tspan></text>
<text transform="translate(310.0 273) scale(1.3 1)" font-size="62.6">(a)</text>
<text transform="translate(313.5 475) scale(1.3 1)" font-size="62.6">(b)</text>
<text transform="translate(317 655.5) scale(1.3 1)" font-size="62.6">(c)</text>
<text transform="translate(313.5 857.5) scale(1.3 1)" font-size="62.6">(d)</text>
<text transform="translate(320 1278.2) scale(1.3 1)" font-size="62.6">(e)</text>
<text transform="translate(320 1428) scale(1.3 1)" font-size="62.6" letter-spacing="6.4">(f)</text>
<text transform="translate(482.5 618.5) scale(1.27 1)" font-size="59.5">x 10</text>
<text transform="translate(493 858) scale(1.27 1)" font-size="59.5">x 10</text>
<text transform="translate(82.8 790) rotate(-90) scale(1 1.34)" font-size="64.4" text-anchor="middle">Intensity (a. u.)</text>
</g>
</svg>
</body>
</html>
